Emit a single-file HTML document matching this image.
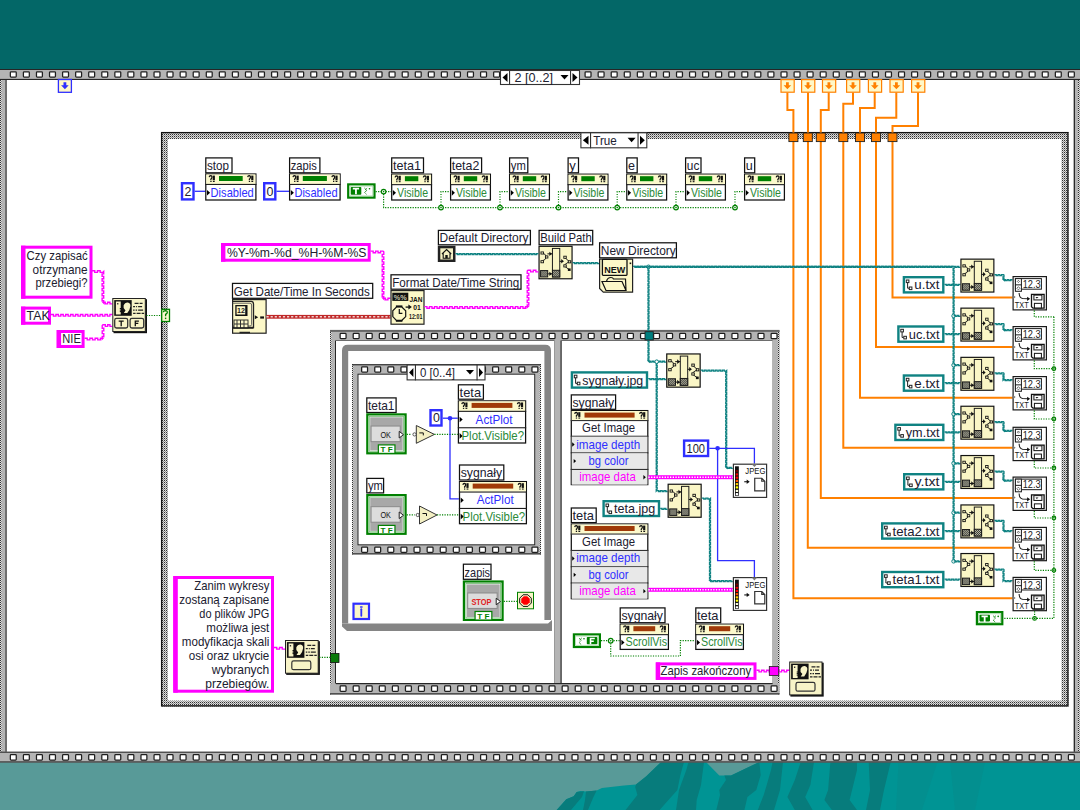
<!DOCTYPE html><html><head><meta charset="utf-8"><style>html,body{margin:0;padding:0;background:#fff;overflow:hidden}svg{display:block}</style></head><body><svg width="1080" height="810" viewBox="0 0 1080 810" font-family='"Liberation Sans", sans-serif'>
<defs><pattern id="chk" width="2" height="2" patternUnits="userSpaceOnUse"><rect width="2" height="2" fill="#dcdcdc"/><rect width="1" height="1" fill="#303030"/><rect x="1" y="1" width="1" height="1" fill="#909090"/></pattern><pattern id="hat" width="2" height="2" patternUnits="userSpaceOnUse"><rect width="2" height="2" fill="#d0d0b8"/><rect width="1" height="1" fill="#222"/><rect x="1" y="1" width="1" height="1" fill="#222"/></pattern></defs>
<rect x="0" y="0" width="1080" height="69" fill="#036767" stroke="none" stroke-width="1" />
<rect x="0" y="762" width="1080" height="48" fill="#589a98" stroke="none" stroke-width="1" />
<path d="M556.7,810 L566.3,799.3 L573.7,796.3 L576.7,791.9 L580.4,791.1 L587,791.5 L596.7,790.4 L601.9,788.1 L624,785.5 L636,784.4 L646.3,776.3 L661.1,762 L706,762 L719.3,775.6 L731,775.6 L759.3,762 L1080,762 L1080,810 Z" fill="#009494"/>
<path d="M556.7,810 L566.3,799.3 L573.7,796.3 L576.7,791.9 L584,791.2 L582,797 L571,810 Z" fill="#077c7c"/>
<path d="M586,791.5 L596.7,790.4 L593,798 L588,810 L583,810 L585,800 Z" fill="#077c7c"/>
<path d="M636,784.4 L646.3,776.3 L661.1,762 L684,762 L680.4,775 L677.4,790 L664,805 L659.6,810 L625.6,810 L637.4,795 L635.2,787 Z" fill="#077c7c"/>
<path d="M688.5,762 L704,762 L701,785 L696.7,800 L696,810 L676,810 L679,790 L686.3,770 Z" fill="#077c7c"/>
<path d="M724.4,775.6 L731,775.6 L759.3,762 L760.7,775 L756.3,790 L747.4,797 L744.4,810 L716.3,810 L720,795 L719.3,790 L726,780 Z" fill="#077c7c"/>
<path d="M772.6,762 L783,762 L780,790 L777,800 L774,810 L757.8,810 L763.7,795 L766.7,785 L771,770 Z" fill="#077c7c"/>
<path d="M800.7,762 L814,762 L810.4,785 L805.2,797 L812.6,810 L794.8,810 L787.4,797 L794.8,780 Z" fill="#077c7c"/>
<path d="M830.4,762 L857,762 L857,770 L849.6,800 L857,810 L831.9,810 L824.4,800 L828.1,790 Z" fill="#077c7c"/>
<path d="M868.7,762 L890.7,762 L884,790 L880,810 L866,810 L870,790 Z" fill="#077c7c"/>
<path d="M898.5,762 L937.4,762 L921.9,810 L896,810 Z" fill="#038f8f"/>
<path d="M950,762 L985,762 L975,810 L955,810 Z" fill="#038f8f"/>
<rect x="0" y="69" width="1080" height="693" fill="#ffffff" stroke="none" stroke-width="1" />
<rect x="0" y="69" width="7" height="693" fill="#b4b4b4" stroke="none" stroke-width="1" />
<rect x="0" y="69" width="2" height="693" fill="url(#chk)" stroke="none" stroke-width="1" />
<rect x="5.5" y="79" width="1" height="674" fill="#2a2a2a" stroke="none" stroke-width="1" />
<rect x="1073" y="69" width="7" height="693" fill="#b4b4b4" stroke="none" stroke-width="1" />
<rect x="1078" y="69" width="2" height="693" fill="url(#chk)" stroke="none" stroke-width="1" />
<rect x="1074" y="79" width="1" height="674" fill="#2a2a2a" stroke="none" stroke-width="1" />
<rect x="0" y="69" width="1080" height="11" fill="#b4b4b4" stroke="none" stroke-width="1" />
<rect x="0" y="69" width="1080" height="1" fill="#262626" stroke="none" stroke-width="1" />
<rect x="0" y="78.9" width="1080" height="1.1" fill="#262626" stroke="none" stroke-width="1" />
<rect x="10.35" y="71.75" width="5.9" height="5.40" fill="#fff" stroke="#1e1e1e" stroke-width="1.25" rx="0.8"/>
<rect x="23.41" y="71.75" width="5.9" height="5.40" fill="#fff" stroke="#1e1e1e" stroke-width="1.25" rx="0.8"/>
<rect x="36.48" y="71.75" width="5.9" height="5.40" fill="#fff" stroke="#1e1e1e" stroke-width="1.25" rx="0.8"/>
<rect x="49.54" y="71.75" width="5.9" height="5.40" fill="#fff" stroke="#1e1e1e" stroke-width="1.25" rx="0.8"/>
<rect x="62.60" y="71.75" width="5.9" height="5.40" fill="#fff" stroke="#1e1e1e" stroke-width="1.25" rx="0.8"/>
<rect x="75.66" y="71.75" width="5.9" height="5.40" fill="#fff" stroke="#1e1e1e" stroke-width="1.25" rx="0.8"/>
<rect x="88.72" y="71.75" width="5.9" height="5.40" fill="#fff" stroke="#1e1e1e" stroke-width="1.25" rx="0.8"/>
<rect x="101.79" y="71.75" width="5.9" height="5.40" fill="#fff" stroke="#1e1e1e" stroke-width="1.25" rx="0.8"/>
<rect x="114.85" y="71.75" width="5.9" height="5.40" fill="#fff" stroke="#1e1e1e" stroke-width="1.25" rx="0.8"/>
<rect x="127.91" y="71.75" width="5.9" height="5.40" fill="#fff" stroke="#1e1e1e" stroke-width="1.25" rx="0.8"/>
<rect x="140.97" y="71.75" width="5.9" height="5.40" fill="#fff" stroke="#1e1e1e" stroke-width="1.25" rx="0.8"/>
<rect x="154.04" y="71.75" width="5.9" height="5.40" fill="#fff" stroke="#1e1e1e" stroke-width="1.25" rx="0.8"/>
<rect x="167.10" y="71.75" width="5.9" height="5.40" fill="#fff" stroke="#1e1e1e" stroke-width="1.25" rx="0.8"/>
<rect x="180.16" y="71.75" width="5.9" height="5.40" fill="#fff" stroke="#1e1e1e" stroke-width="1.25" rx="0.8"/>
<rect x="193.22" y="71.75" width="5.9" height="5.40" fill="#fff" stroke="#1e1e1e" stroke-width="1.25" rx="0.8"/>
<rect x="206.29" y="71.75" width="5.9" height="5.40" fill="#fff" stroke="#1e1e1e" stroke-width="1.25" rx="0.8"/>
<rect x="219.35" y="71.75" width="5.9" height="5.40" fill="#fff" stroke="#1e1e1e" stroke-width="1.25" rx="0.8"/>
<rect x="232.41" y="71.75" width="5.9" height="5.40" fill="#fff" stroke="#1e1e1e" stroke-width="1.25" rx="0.8"/>
<rect x="245.47" y="71.75" width="5.9" height="5.40" fill="#fff" stroke="#1e1e1e" stroke-width="1.25" rx="0.8"/>
<rect x="258.54" y="71.75" width="5.9" height="5.40" fill="#fff" stroke="#1e1e1e" stroke-width="1.25" rx="0.8"/>
<rect x="271.60" y="71.75" width="5.9" height="5.40" fill="#fff" stroke="#1e1e1e" stroke-width="1.25" rx="0.8"/>
<rect x="284.66" y="71.75" width="5.9" height="5.40" fill="#fff" stroke="#1e1e1e" stroke-width="1.25" rx="0.8"/>
<rect x="297.73" y="71.75" width="5.9" height="5.40" fill="#fff" stroke="#1e1e1e" stroke-width="1.25" rx="0.8"/>
<rect x="310.79" y="71.75" width="5.9" height="5.40" fill="#fff" stroke="#1e1e1e" stroke-width="1.25" rx="0.8"/>
<rect x="323.85" y="71.75" width="5.9" height="5.40" fill="#fff" stroke="#1e1e1e" stroke-width="1.25" rx="0.8"/>
<rect x="336.91" y="71.75" width="5.9" height="5.40" fill="#fff" stroke="#1e1e1e" stroke-width="1.25" rx="0.8"/>
<rect x="349.98" y="71.75" width="5.9" height="5.40" fill="#fff" stroke="#1e1e1e" stroke-width="1.25" rx="0.8"/>
<rect x="363.04" y="71.75" width="5.9" height="5.40" fill="#fff" stroke="#1e1e1e" stroke-width="1.25" rx="0.8"/>
<rect x="376.10" y="71.75" width="5.9" height="5.40" fill="#fff" stroke="#1e1e1e" stroke-width="1.25" rx="0.8"/>
<rect x="389.16" y="71.75" width="5.9" height="5.40" fill="#fff" stroke="#1e1e1e" stroke-width="1.25" rx="0.8"/>
<rect x="402.23" y="71.75" width="5.9" height="5.40" fill="#fff" stroke="#1e1e1e" stroke-width="1.25" rx="0.8"/>
<rect x="415.29" y="71.75" width="5.9" height="5.40" fill="#fff" stroke="#1e1e1e" stroke-width="1.25" rx="0.8"/>
<rect x="428.35" y="71.75" width="5.9" height="5.40" fill="#fff" stroke="#1e1e1e" stroke-width="1.25" rx="0.8"/>
<rect x="441.41" y="71.75" width="5.9" height="5.40" fill="#fff" stroke="#1e1e1e" stroke-width="1.25" rx="0.8"/>
<rect x="454.48" y="71.75" width="5.9" height="5.40" fill="#fff" stroke="#1e1e1e" stroke-width="1.25" rx="0.8"/>
<rect x="467.54" y="71.75" width="5.9" height="5.40" fill="#fff" stroke="#1e1e1e" stroke-width="1.25" rx="0.8"/>
<rect x="480.60" y="71.75" width="5.9" height="5.40" fill="#fff" stroke="#1e1e1e" stroke-width="1.25" rx="0.8"/>
<rect x="493.66" y="71.75" width="5.9" height="5.40" fill="#fff" stroke="#1e1e1e" stroke-width="1.25" rx="0.8"/>
<rect x="506.73" y="71.75" width="5.9" height="5.40" fill="#fff" stroke="#1e1e1e" stroke-width="1.25" rx="0.8"/>
<rect x="519.79" y="71.75" width="5.9" height="5.40" fill="#fff" stroke="#1e1e1e" stroke-width="1.25" rx="0.8"/>
<rect x="532.85" y="71.75" width="5.9" height="5.40" fill="#fff" stroke="#1e1e1e" stroke-width="1.25" rx="0.8"/>
<rect x="545.91" y="71.75" width="5.9" height="5.40" fill="#fff" stroke="#1e1e1e" stroke-width="1.25" rx="0.8"/>
<rect x="558.98" y="71.75" width="5.9" height="5.40" fill="#fff" stroke="#1e1e1e" stroke-width="1.25" rx="0.8"/>
<rect x="572.04" y="71.75" width="5.9" height="5.40" fill="#fff" stroke="#1e1e1e" stroke-width="1.25" rx="0.8"/>
<rect x="585.10" y="71.75" width="5.9" height="5.40" fill="#fff" stroke="#1e1e1e" stroke-width="1.25" rx="0.8"/>
<rect x="598.16" y="71.75" width="5.9" height="5.40" fill="#fff" stroke="#1e1e1e" stroke-width="1.25" rx="0.8"/>
<rect x="611.23" y="71.75" width="5.9" height="5.40" fill="#fff" stroke="#1e1e1e" stroke-width="1.25" rx="0.8"/>
<rect x="624.29" y="71.75" width="5.9" height="5.40" fill="#fff" stroke="#1e1e1e" stroke-width="1.25" rx="0.8"/>
<rect x="637.35" y="71.75" width="5.9" height="5.40" fill="#fff" stroke="#1e1e1e" stroke-width="1.25" rx="0.8"/>
<rect x="650.41" y="71.75" width="5.9" height="5.40" fill="#fff" stroke="#1e1e1e" stroke-width="1.25" rx="0.8"/>
<rect x="663.48" y="71.75" width="5.9" height="5.40" fill="#fff" stroke="#1e1e1e" stroke-width="1.25" rx="0.8"/>
<rect x="676.54" y="71.75" width="5.9" height="5.40" fill="#fff" stroke="#1e1e1e" stroke-width="1.25" rx="0.8"/>
<rect x="689.60" y="71.75" width="5.9" height="5.40" fill="#fff" stroke="#1e1e1e" stroke-width="1.25" rx="0.8"/>
<rect x="702.66" y="71.75" width="5.9" height="5.40" fill="#fff" stroke="#1e1e1e" stroke-width="1.25" rx="0.8"/>
<rect x="715.73" y="71.75" width="5.9" height="5.40" fill="#fff" stroke="#1e1e1e" stroke-width="1.25" rx="0.8"/>
<rect x="728.79" y="71.75" width="5.9" height="5.40" fill="#fff" stroke="#1e1e1e" stroke-width="1.25" rx="0.8"/>
<rect x="741.85" y="71.75" width="5.9" height="5.40" fill="#fff" stroke="#1e1e1e" stroke-width="1.25" rx="0.8"/>
<rect x="754.91" y="71.75" width="5.9" height="5.40" fill="#fff" stroke="#1e1e1e" stroke-width="1.25" rx="0.8"/>
<rect x="767.98" y="71.75" width="5.9" height="5.40" fill="#fff" stroke="#1e1e1e" stroke-width="1.25" rx="0.8"/>
<rect x="781.04" y="71.75" width="5.9" height="5.40" fill="#fff" stroke="#1e1e1e" stroke-width="1.25" rx="0.8"/>
<rect x="794.10" y="71.75" width="5.9" height="5.40" fill="#fff" stroke="#1e1e1e" stroke-width="1.25" rx="0.8"/>
<rect x="807.16" y="71.75" width="5.9" height="5.40" fill="#fff" stroke="#1e1e1e" stroke-width="1.25" rx="0.8"/>
<rect x="820.23" y="71.75" width="5.9" height="5.40" fill="#fff" stroke="#1e1e1e" stroke-width="1.25" rx="0.8"/>
<rect x="833.29" y="71.75" width="5.9" height="5.40" fill="#fff" stroke="#1e1e1e" stroke-width="1.25" rx="0.8"/>
<rect x="846.35" y="71.75" width="5.9" height="5.40" fill="#fff" stroke="#1e1e1e" stroke-width="1.25" rx="0.8"/>
<rect x="859.41" y="71.75" width="5.9" height="5.40" fill="#fff" stroke="#1e1e1e" stroke-width="1.25" rx="0.8"/>
<rect x="872.48" y="71.75" width="5.9" height="5.40" fill="#fff" stroke="#1e1e1e" stroke-width="1.25" rx="0.8"/>
<rect x="885.54" y="71.75" width="5.9" height="5.40" fill="#fff" stroke="#1e1e1e" stroke-width="1.25" rx="0.8"/>
<rect x="898.60" y="71.75" width="5.9" height="5.40" fill="#fff" stroke="#1e1e1e" stroke-width="1.25" rx="0.8"/>
<rect x="911.66" y="71.75" width="5.9" height="5.40" fill="#fff" stroke="#1e1e1e" stroke-width="1.25" rx="0.8"/>
<rect x="924.73" y="71.75" width="5.9" height="5.40" fill="#fff" stroke="#1e1e1e" stroke-width="1.25" rx="0.8"/>
<rect x="937.79" y="71.75" width="5.9" height="5.40" fill="#fff" stroke="#1e1e1e" stroke-width="1.25" rx="0.8"/>
<rect x="950.85" y="71.75" width="5.9" height="5.40" fill="#fff" stroke="#1e1e1e" stroke-width="1.25" rx="0.8"/>
<rect x="963.91" y="71.75" width="5.9" height="5.40" fill="#fff" stroke="#1e1e1e" stroke-width="1.25" rx="0.8"/>
<rect x="976.98" y="71.75" width="5.9" height="5.40" fill="#fff" stroke="#1e1e1e" stroke-width="1.25" rx="0.8"/>
<rect x="990.04" y="71.75" width="5.9" height="5.40" fill="#fff" stroke="#1e1e1e" stroke-width="1.25" rx="0.8"/>
<rect x="1003.10" y="71.75" width="5.9" height="5.40" fill="#fff" stroke="#1e1e1e" stroke-width="1.25" rx="0.8"/>
<rect x="1016.16" y="71.75" width="5.9" height="5.40" fill="#fff" stroke="#1e1e1e" stroke-width="1.25" rx="0.8"/>
<rect x="1029.22" y="71.75" width="5.9" height="5.40" fill="#fff" stroke="#1e1e1e" stroke-width="1.25" rx="0.8"/>
<rect x="1042.29" y="71.75" width="5.9" height="5.40" fill="#fff" stroke="#1e1e1e" stroke-width="1.25" rx="0.8"/>
<rect x="1055.35" y="71.75" width="5.9" height="5.40" fill="#fff" stroke="#1e1e1e" stroke-width="1.25" rx="0.8"/>
<rect x="1068.41" y="71.75" width="5.9" height="5.40" fill="#fff" stroke="#1e1e1e" stroke-width="1.25" rx="0.8"/>
<rect x="0" y="751.7" width="1080" height="10.8" fill="#b4b4b4" stroke="none" stroke-width="1" />
<rect x="0" y="751.7" width="1080" height="1" fill="#262626" stroke="none" stroke-width="1" />
<rect x="0" y="761.4" width="1080" height="1.1" fill="#262626" stroke="none" stroke-width="1" />
<rect x="10.35" y="754.65" width="5.9" height="5.40" fill="#fff" stroke="#1e1e1e" stroke-width="1.25" rx="0.8"/>
<rect x="23.41" y="754.65" width="5.9" height="5.40" fill="#fff" stroke="#1e1e1e" stroke-width="1.25" rx="0.8"/>
<rect x="36.48" y="754.65" width="5.9" height="5.40" fill="#fff" stroke="#1e1e1e" stroke-width="1.25" rx="0.8"/>
<rect x="49.54" y="754.65" width="5.9" height="5.40" fill="#fff" stroke="#1e1e1e" stroke-width="1.25" rx="0.8"/>
<rect x="62.60" y="754.65" width="5.9" height="5.40" fill="#fff" stroke="#1e1e1e" stroke-width="1.25" rx="0.8"/>
<rect x="75.66" y="754.65" width="5.9" height="5.40" fill="#fff" stroke="#1e1e1e" stroke-width="1.25" rx="0.8"/>
<rect x="88.72" y="754.65" width="5.9" height="5.40" fill="#fff" stroke="#1e1e1e" stroke-width="1.25" rx="0.8"/>
<rect x="101.79" y="754.65" width="5.9" height="5.40" fill="#fff" stroke="#1e1e1e" stroke-width="1.25" rx="0.8"/>
<rect x="114.85" y="754.65" width="5.9" height="5.40" fill="#fff" stroke="#1e1e1e" stroke-width="1.25" rx="0.8"/>
<rect x="127.91" y="754.65" width="5.9" height="5.40" fill="#fff" stroke="#1e1e1e" stroke-width="1.25" rx="0.8"/>
<rect x="140.97" y="754.65" width="5.9" height="5.40" fill="#fff" stroke="#1e1e1e" stroke-width="1.25" rx="0.8"/>
<rect x="154.04" y="754.65" width="5.9" height="5.40" fill="#fff" stroke="#1e1e1e" stroke-width="1.25" rx="0.8"/>
<rect x="167.10" y="754.65" width="5.9" height="5.40" fill="#fff" stroke="#1e1e1e" stroke-width="1.25" rx="0.8"/>
<rect x="180.16" y="754.65" width="5.9" height="5.40" fill="#fff" stroke="#1e1e1e" stroke-width="1.25" rx="0.8"/>
<rect x="193.22" y="754.65" width="5.9" height="5.40" fill="#fff" stroke="#1e1e1e" stroke-width="1.25" rx="0.8"/>
<rect x="206.29" y="754.65" width="5.9" height="5.40" fill="#fff" stroke="#1e1e1e" stroke-width="1.25" rx="0.8"/>
<rect x="219.35" y="754.65" width="5.9" height="5.40" fill="#fff" stroke="#1e1e1e" stroke-width="1.25" rx="0.8"/>
<rect x="232.41" y="754.65" width="5.9" height="5.40" fill="#fff" stroke="#1e1e1e" stroke-width="1.25" rx="0.8"/>
<rect x="245.47" y="754.65" width="5.9" height="5.40" fill="#fff" stroke="#1e1e1e" stroke-width="1.25" rx="0.8"/>
<rect x="258.54" y="754.65" width="5.9" height="5.40" fill="#fff" stroke="#1e1e1e" stroke-width="1.25" rx="0.8"/>
<rect x="271.60" y="754.65" width="5.9" height="5.40" fill="#fff" stroke="#1e1e1e" stroke-width="1.25" rx="0.8"/>
<rect x="284.66" y="754.65" width="5.9" height="5.40" fill="#fff" stroke="#1e1e1e" stroke-width="1.25" rx="0.8"/>
<rect x="297.73" y="754.65" width="5.9" height="5.40" fill="#fff" stroke="#1e1e1e" stroke-width="1.25" rx="0.8"/>
<rect x="310.79" y="754.65" width="5.9" height="5.40" fill="#fff" stroke="#1e1e1e" stroke-width="1.25" rx="0.8"/>
<rect x="323.85" y="754.65" width="5.9" height="5.40" fill="#fff" stroke="#1e1e1e" stroke-width="1.25" rx="0.8"/>
<rect x="336.91" y="754.65" width="5.9" height="5.40" fill="#fff" stroke="#1e1e1e" stroke-width="1.25" rx="0.8"/>
<rect x="349.98" y="754.65" width="5.9" height="5.40" fill="#fff" stroke="#1e1e1e" stroke-width="1.25" rx="0.8"/>
<rect x="363.04" y="754.65" width="5.9" height="5.40" fill="#fff" stroke="#1e1e1e" stroke-width="1.25" rx="0.8"/>
<rect x="376.10" y="754.65" width="5.9" height="5.40" fill="#fff" stroke="#1e1e1e" stroke-width="1.25" rx="0.8"/>
<rect x="389.16" y="754.65" width="5.9" height="5.40" fill="#fff" stroke="#1e1e1e" stroke-width="1.25" rx="0.8"/>
<rect x="402.23" y="754.65" width="5.9" height="5.40" fill="#fff" stroke="#1e1e1e" stroke-width="1.25" rx="0.8"/>
<rect x="415.29" y="754.65" width="5.9" height="5.40" fill="#fff" stroke="#1e1e1e" stroke-width="1.25" rx="0.8"/>
<rect x="428.35" y="754.65" width="5.9" height="5.40" fill="#fff" stroke="#1e1e1e" stroke-width="1.25" rx="0.8"/>
<rect x="441.41" y="754.65" width="5.9" height="5.40" fill="#fff" stroke="#1e1e1e" stroke-width="1.25" rx="0.8"/>
<rect x="454.48" y="754.65" width="5.9" height="5.40" fill="#fff" stroke="#1e1e1e" stroke-width="1.25" rx="0.8"/>
<rect x="467.54" y="754.65" width="5.9" height="5.40" fill="#fff" stroke="#1e1e1e" stroke-width="1.25" rx="0.8"/>
<rect x="480.60" y="754.65" width="5.9" height="5.40" fill="#fff" stroke="#1e1e1e" stroke-width="1.25" rx="0.8"/>
<rect x="493.66" y="754.65" width="5.9" height="5.40" fill="#fff" stroke="#1e1e1e" stroke-width="1.25" rx="0.8"/>
<rect x="506.73" y="754.65" width="5.9" height="5.40" fill="#fff" stroke="#1e1e1e" stroke-width="1.25" rx="0.8"/>
<rect x="519.79" y="754.65" width="5.9" height="5.40" fill="#fff" stroke="#1e1e1e" stroke-width="1.25" rx="0.8"/>
<rect x="532.85" y="754.65" width="5.9" height="5.40" fill="#fff" stroke="#1e1e1e" stroke-width="1.25" rx="0.8"/>
<rect x="545.91" y="754.65" width="5.9" height="5.40" fill="#fff" stroke="#1e1e1e" stroke-width="1.25" rx="0.8"/>
<rect x="558.98" y="754.65" width="5.9" height="5.40" fill="#fff" stroke="#1e1e1e" stroke-width="1.25" rx="0.8"/>
<rect x="572.04" y="754.65" width="5.9" height="5.40" fill="#fff" stroke="#1e1e1e" stroke-width="1.25" rx="0.8"/>
<rect x="585.10" y="754.65" width="5.9" height="5.40" fill="#fff" stroke="#1e1e1e" stroke-width="1.25" rx="0.8"/>
<rect x="598.16" y="754.65" width="5.9" height="5.40" fill="#fff" stroke="#1e1e1e" stroke-width="1.25" rx="0.8"/>
<rect x="611.23" y="754.65" width="5.9" height="5.40" fill="#fff" stroke="#1e1e1e" stroke-width="1.25" rx="0.8"/>
<rect x="624.29" y="754.65" width="5.9" height="5.40" fill="#fff" stroke="#1e1e1e" stroke-width="1.25" rx="0.8"/>
<rect x="637.35" y="754.65" width="5.9" height="5.40" fill="#fff" stroke="#1e1e1e" stroke-width="1.25" rx="0.8"/>
<rect x="650.41" y="754.65" width="5.9" height="5.40" fill="#fff" stroke="#1e1e1e" stroke-width="1.25" rx="0.8"/>
<rect x="663.48" y="754.65" width="5.9" height="5.40" fill="#fff" stroke="#1e1e1e" stroke-width="1.25" rx="0.8"/>
<rect x="676.54" y="754.65" width="5.9" height="5.40" fill="#fff" stroke="#1e1e1e" stroke-width="1.25" rx="0.8"/>
<rect x="689.60" y="754.65" width="5.9" height="5.40" fill="#fff" stroke="#1e1e1e" stroke-width="1.25" rx="0.8"/>
<rect x="702.66" y="754.65" width="5.9" height="5.40" fill="#fff" stroke="#1e1e1e" stroke-width="1.25" rx="0.8"/>
<rect x="715.73" y="754.65" width="5.9" height="5.40" fill="#fff" stroke="#1e1e1e" stroke-width="1.25" rx="0.8"/>
<rect x="728.79" y="754.65" width="5.9" height="5.40" fill="#fff" stroke="#1e1e1e" stroke-width="1.25" rx="0.8"/>
<rect x="741.85" y="754.65" width="5.9" height="5.40" fill="#fff" stroke="#1e1e1e" stroke-width="1.25" rx="0.8"/>
<rect x="754.91" y="754.65" width="5.9" height="5.40" fill="#fff" stroke="#1e1e1e" stroke-width="1.25" rx="0.8"/>
<rect x="767.98" y="754.65" width="5.9" height="5.40" fill="#fff" stroke="#1e1e1e" stroke-width="1.25" rx="0.8"/>
<rect x="781.04" y="754.65" width="5.9" height="5.40" fill="#fff" stroke="#1e1e1e" stroke-width="1.25" rx="0.8"/>
<rect x="794.10" y="754.65" width="5.9" height="5.40" fill="#fff" stroke="#1e1e1e" stroke-width="1.25" rx="0.8"/>
<rect x="807.16" y="754.65" width="5.9" height="5.40" fill="#fff" stroke="#1e1e1e" stroke-width="1.25" rx="0.8"/>
<rect x="820.23" y="754.65" width="5.9" height="5.40" fill="#fff" stroke="#1e1e1e" stroke-width="1.25" rx="0.8"/>
<rect x="833.29" y="754.65" width="5.9" height="5.40" fill="#fff" stroke="#1e1e1e" stroke-width="1.25" rx="0.8"/>
<rect x="846.35" y="754.65" width="5.9" height="5.40" fill="#fff" stroke="#1e1e1e" stroke-width="1.25" rx="0.8"/>
<rect x="859.41" y="754.65" width="5.9" height="5.40" fill="#fff" stroke="#1e1e1e" stroke-width="1.25" rx="0.8"/>
<rect x="872.48" y="754.65" width="5.9" height="5.40" fill="#fff" stroke="#1e1e1e" stroke-width="1.25" rx="0.8"/>
<rect x="885.54" y="754.65" width="5.9" height="5.40" fill="#fff" stroke="#1e1e1e" stroke-width="1.25" rx="0.8"/>
<rect x="898.60" y="754.65" width="5.9" height="5.40" fill="#fff" stroke="#1e1e1e" stroke-width="1.25" rx="0.8"/>
<rect x="911.66" y="754.65" width="5.9" height="5.40" fill="#fff" stroke="#1e1e1e" stroke-width="1.25" rx="0.8"/>
<rect x="924.73" y="754.65" width="5.9" height="5.40" fill="#fff" stroke="#1e1e1e" stroke-width="1.25" rx="0.8"/>
<rect x="937.79" y="754.65" width="5.9" height="5.40" fill="#fff" stroke="#1e1e1e" stroke-width="1.25" rx="0.8"/>
<rect x="950.85" y="754.65" width="5.9" height="5.40" fill="#fff" stroke="#1e1e1e" stroke-width="1.25" rx="0.8"/>
<rect x="963.91" y="754.65" width="5.9" height="5.40" fill="#fff" stroke="#1e1e1e" stroke-width="1.25" rx="0.8"/>
<rect x="976.98" y="754.65" width="5.9" height="5.40" fill="#fff" stroke="#1e1e1e" stroke-width="1.25" rx="0.8"/>
<rect x="990.04" y="754.65" width="5.9" height="5.40" fill="#fff" stroke="#1e1e1e" stroke-width="1.25" rx="0.8"/>
<rect x="1003.10" y="754.65" width="5.9" height="5.40" fill="#fff" stroke="#1e1e1e" stroke-width="1.25" rx="0.8"/>
<rect x="1016.16" y="754.65" width="5.9" height="5.40" fill="#fff" stroke="#1e1e1e" stroke-width="1.25" rx="0.8"/>
<rect x="1029.22" y="754.65" width="5.9" height="5.40" fill="#fff" stroke="#1e1e1e" stroke-width="1.25" rx="0.8"/>
<rect x="1042.29" y="754.65" width="5.9" height="5.40" fill="#fff" stroke="#1e1e1e" stroke-width="1.25" rx="0.8"/>
<rect x="1055.35" y="754.65" width="5.9" height="5.40" fill="#fff" stroke="#1e1e1e" stroke-width="1.25" rx="0.8"/>
<rect x="1068.41" y="754.65" width="5.9" height="5.40" fill="#fff" stroke="#1e1e1e" stroke-width="1.25" rx="0.8"/>
<rect x="161" y="132" width="907.5" height="574.5" fill="url(#chk)" stroke="none" stroke-width="1" />
<rect x="161.6" y="132.6" width="906.3" height="573.3" fill="none" stroke="#111" stroke-width="1.3" />
<rect x="168" y="139" width="893.5" height="561.6" fill="#ffffff" stroke="none" stroke-width="1" />
<rect x="580.9" y="132.8" width="65.89999999999998" height="15.0" fill="#fff" stroke="#333" stroke-width="1.1" />
<rect x="590.0" y="132.3" width="1.1" height="16.0" fill="#333" stroke="none" stroke-width="1" />
<rect x="637.5" y="132.3" width="1.1" height="16.0" fill="#333" stroke="none" stroke-width="1" />
<path d="M582.9,140.3 L588.5,135.8 L588.5,144.8 Z" fill="#000"/>
<path d="M644.8,140.3 L640,135.8 L640,144.8 Z" fill="#000"/>
<path d="M627.6,137.8 L635.6,137.8 L631.6,142.3 Z" fill="#000"/>
<text x="593.3" y="144.9" font-size="13" fill="#202030" text-anchor="start" textLength="23.5" lengthAdjust="spacingAndGlyphs" >True</text>
<rect x="500.5" y="70.5" width="79" height="14" fill="#fff" stroke="#333" stroke-width="1.1" />
<rect x="509.0" y="70" width="1.1" height="15" fill="#333" stroke="none" stroke-width="1" />
<rect x="570.0" y="70" width="1.1" height="15" fill="#333" stroke="none" stroke-width="1" />
<path d="M502.5,77.5 L507.5,73.0 L507.5,82.0 Z" fill="#000"/>
<path d="M577.5,77.5 L572.5,73.0 L572.5,82.0 Z" fill="#000"/>
<path d="M560.5,75.0 L568.5,75.0 L564.5,79.5 Z" fill="#000"/>
<text x="514.4" y="82.1" font-size="13" fill="#202030" text-anchor="start" textLength="38.6" lengthAdjust="spacingAndGlyphs" >2 [0..2]</text>
<rect x="330" y="330" width="449.5" height="364.5" fill="#b4b4b4" stroke="none" stroke-width="1" />
<rect x="330" y="330" width="2" height="364.5" fill="url(#chk)" stroke="none" stroke-width="1" />
<rect x="777.5" y="330" width="2" height="364.5" fill="url(#chk)" stroke="none" stroke-width="1" />
<rect x="330" y="329.9" width="449.5" height="2" fill="#666" stroke="none" stroke-width="1" />
<rect x="335" y="340.5" width="219.5" height="343" fill="#262626" stroke="none" stroke-width="1" />
<rect x="336" y="341" width="218.3" height="342" fill="#fff" stroke="none" stroke-width="1" />
<rect x="560.5" y="340.5" width="212" height="343" fill="#262626" stroke="none" stroke-width="1" />
<rect x="561.7" y="341" width="210.8" height="342" fill="#fff" stroke="none" stroke-width="1" />
<rect x="340.15" y="333.35" width="5.9" height="5.30" fill="#fff" stroke="#1e1e1e" stroke-width="1.25" rx="0.8"/>
<rect x="353.21" y="333.35" width="5.9" height="5.30" fill="#fff" stroke="#1e1e1e" stroke-width="1.25" rx="0.8"/>
<rect x="366.27" y="333.35" width="5.9" height="5.30" fill="#fff" stroke="#1e1e1e" stroke-width="1.25" rx="0.8"/>
<rect x="379.33" y="333.35" width="5.9" height="5.30" fill="#fff" stroke="#1e1e1e" stroke-width="1.25" rx="0.8"/>
<rect x="392.39" y="333.35" width="5.9" height="5.30" fill="#fff" stroke="#1e1e1e" stroke-width="1.25" rx="0.8"/>
<rect x="405.45" y="333.35" width="5.9" height="5.30" fill="#fff" stroke="#1e1e1e" stroke-width="1.25" rx="0.8"/>
<rect x="418.51" y="333.35" width="5.9" height="5.30" fill="#fff" stroke="#1e1e1e" stroke-width="1.25" rx="0.8"/>
<rect x="431.57" y="333.35" width="5.9" height="5.30" fill="#fff" stroke="#1e1e1e" stroke-width="1.25" rx="0.8"/>
<rect x="444.63" y="333.35" width="5.9" height="5.30" fill="#fff" stroke="#1e1e1e" stroke-width="1.25" rx="0.8"/>
<rect x="457.69" y="333.35" width="5.9" height="5.30" fill="#fff" stroke="#1e1e1e" stroke-width="1.25" rx="0.8"/>
<rect x="470.75" y="333.35" width="5.9" height="5.30" fill="#fff" stroke="#1e1e1e" stroke-width="1.25" rx="0.8"/>
<rect x="483.81" y="333.35" width="5.9" height="5.30" fill="#fff" stroke="#1e1e1e" stroke-width="1.25" rx="0.8"/>
<rect x="496.87" y="333.35" width="5.9" height="5.30" fill="#fff" stroke="#1e1e1e" stroke-width="1.25" rx="0.8"/>
<rect x="509.93" y="333.35" width="5.9" height="5.30" fill="#fff" stroke="#1e1e1e" stroke-width="1.25" rx="0.8"/>
<rect x="522.99" y="333.35" width="5.9" height="5.30" fill="#fff" stroke="#1e1e1e" stroke-width="1.25" rx="0.8"/>
<rect x="536.05" y="333.35" width="5.9" height="5.30" fill="#fff" stroke="#1e1e1e" stroke-width="1.25" rx="0.8"/>
<rect x="549.11" y="333.35" width="5.9" height="5.30" fill="#fff" stroke="#1e1e1e" stroke-width="1.25" rx="0.8"/>
<rect x="562.17" y="333.35" width="5.9" height="5.30" fill="#fff" stroke="#1e1e1e" stroke-width="1.25" rx="0.8"/>
<rect x="575.23" y="333.35" width="5.9" height="5.30" fill="#fff" stroke="#1e1e1e" stroke-width="1.25" rx="0.8"/>
<rect x="588.29" y="333.35" width="5.9" height="5.30" fill="#fff" stroke="#1e1e1e" stroke-width="1.25" rx="0.8"/>
<rect x="601.35" y="333.35" width="5.9" height="5.30" fill="#fff" stroke="#1e1e1e" stroke-width="1.25" rx="0.8"/>
<rect x="614.41" y="333.35" width="5.9" height="5.30" fill="#fff" stroke="#1e1e1e" stroke-width="1.25" rx="0.8"/>
<rect x="627.47" y="333.35" width="5.9" height="5.30" fill="#fff" stroke="#1e1e1e" stroke-width="1.25" rx="0.8"/>
<rect x="640.53" y="333.35" width="5.9" height="5.30" fill="#fff" stroke="#1e1e1e" stroke-width="1.25" rx="0.8"/>
<rect x="653.59" y="333.35" width="5.9" height="5.30" fill="#fff" stroke="#1e1e1e" stroke-width="1.25" rx="0.8"/>
<rect x="666.65" y="333.35" width="5.9" height="5.30" fill="#fff" stroke="#1e1e1e" stroke-width="1.25" rx="0.8"/>
<rect x="679.71" y="333.35" width="5.9" height="5.30" fill="#fff" stroke="#1e1e1e" stroke-width="1.25" rx="0.8"/>
<rect x="692.77" y="333.35" width="5.9" height="5.30" fill="#fff" stroke="#1e1e1e" stroke-width="1.25" rx="0.8"/>
<rect x="705.83" y="333.35" width="5.9" height="5.30" fill="#fff" stroke="#1e1e1e" stroke-width="1.25" rx="0.8"/>
<rect x="718.89" y="333.35" width="5.9" height="5.30" fill="#fff" stroke="#1e1e1e" stroke-width="1.25" rx="0.8"/>
<rect x="731.95" y="333.35" width="5.9" height="5.30" fill="#fff" stroke="#1e1e1e" stroke-width="1.25" rx="0.8"/>
<rect x="745.01" y="333.35" width="5.9" height="5.30" fill="#fff" stroke="#1e1e1e" stroke-width="1.25" rx="0.8"/>
<rect x="758.07" y="333.35" width="5.9" height="5.30" fill="#fff" stroke="#1e1e1e" stroke-width="1.25" rx="0.8"/>
<rect x="771.13" y="333.35" width="5.9" height="5.30" fill="#fff" stroke="#1e1e1e" stroke-width="1.25" rx="0.8"/>
<rect x="330" y="684" width="449.5" height="10.4" fill="#b4b4b4" stroke="none" stroke-width="1" />
<rect x="336" y="683" width="436.5" height="1.2" fill="#262626" stroke="none" stroke-width="1" />
<rect x="330" y="693.3" width="449.5" height="1.1" fill="#262626" stroke="none" stroke-width="1" />
<rect x="340.15" y="685.95" width="5.9" height="5.30" fill="#fff" stroke="#1e1e1e" stroke-width="1.25" rx="0.8"/>
<rect x="353.21" y="685.95" width="5.9" height="5.30" fill="#fff" stroke="#1e1e1e" stroke-width="1.25" rx="0.8"/>
<rect x="366.27" y="685.95" width="5.9" height="5.30" fill="#fff" stroke="#1e1e1e" stroke-width="1.25" rx="0.8"/>
<rect x="379.33" y="685.95" width="5.9" height="5.30" fill="#fff" stroke="#1e1e1e" stroke-width="1.25" rx="0.8"/>
<rect x="392.39" y="685.95" width="5.9" height="5.30" fill="#fff" stroke="#1e1e1e" stroke-width="1.25" rx="0.8"/>
<rect x="405.45" y="685.95" width="5.9" height="5.30" fill="#fff" stroke="#1e1e1e" stroke-width="1.25" rx="0.8"/>
<rect x="418.51" y="685.95" width="5.9" height="5.30" fill="#fff" stroke="#1e1e1e" stroke-width="1.25" rx="0.8"/>
<rect x="431.57" y="685.95" width="5.9" height="5.30" fill="#fff" stroke="#1e1e1e" stroke-width="1.25" rx="0.8"/>
<rect x="444.63" y="685.95" width="5.9" height="5.30" fill="#fff" stroke="#1e1e1e" stroke-width="1.25" rx="0.8"/>
<rect x="457.69" y="685.95" width="5.9" height="5.30" fill="#fff" stroke="#1e1e1e" stroke-width="1.25" rx="0.8"/>
<rect x="470.75" y="685.95" width="5.9" height="5.30" fill="#fff" stroke="#1e1e1e" stroke-width="1.25" rx="0.8"/>
<rect x="483.81" y="685.95" width="5.9" height="5.30" fill="#fff" stroke="#1e1e1e" stroke-width="1.25" rx="0.8"/>
<rect x="496.87" y="685.95" width="5.9" height="5.30" fill="#fff" stroke="#1e1e1e" stroke-width="1.25" rx="0.8"/>
<rect x="509.93" y="685.95" width="5.9" height="5.30" fill="#fff" stroke="#1e1e1e" stroke-width="1.25" rx="0.8"/>
<rect x="522.99" y="685.95" width="5.9" height="5.30" fill="#fff" stroke="#1e1e1e" stroke-width="1.25" rx="0.8"/>
<rect x="536.05" y="685.95" width="5.9" height="5.30" fill="#fff" stroke="#1e1e1e" stroke-width="1.25" rx="0.8"/>
<rect x="549.11" y="685.95" width="5.9" height="5.30" fill="#fff" stroke="#1e1e1e" stroke-width="1.25" rx="0.8"/>
<rect x="562.17" y="685.95" width="5.9" height="5.30" fill="#fff" stroke="#1e1e1e" stroke-width="1.25" rx="0.8"/>
<rect x="575.23" y="685.95" width="5.9" height="5.30" fill="#fff" stroke="#1e1e1e" stroke-width="1.25" rx="0.8"/>
<rect x="588.29" y="685.95" width="5.9" height="5.30" fill="#fff" stroke="#1e1e1e" stroke-width="1.25" rx="0.8"/>
<rect x="601.35" y="685.95" width="5.9" height="5.30" fill="#fff" stroke="#1e1e1e" stroke-width="1.25" rx="0.8"/>
<rect x="614.41" y="685.95" width="5.9" height="5.30" fill="#fff" stroke="#1e1e1e" stroke-width="1.25" rx="0.8"/>
<rect x="627.47" y="685.95" width="5.9" height="5.30" fill="#fff" stroke="#1e1e1e" stroke-width="1.25" rx="0.8"/>
<rect x="640.53" y="685.95" width="5.9" height="5.30" fill="#fff" stroke="#1e1e1e" stroke-width="1.25" rx="0.8"/>
<rect x="653.59" y="685.95" width="5.9" height="5.30" fill="#fff" stroke="#1e1e1e" stroke-width="1.25" rx="0.8"/>
<rect x="666.65" y="685.95" width="5.9" height="5.30" fill="#fff" stroke="#1e1e1e" stroke-width="1.25" rx="0.8"/>
<rect x="679.71" y="685.95" width="5.9" height="5.30" fill="#fff" stroke="#1e1e1e" stroke-width="1.25" rx="0.8"/>
<rect x="692.77" y="685.95" width="5.9" height="5.30" fill="#fff" stroke="#1e1e1e" stroke-width="1.25" rx="0.8"/>
<rect x="705.83" y="685.95" width="5.9" height="5.30" fill="#fff" stroke="#1e1e1e" stroke-width="1.25" rx="0.8"/>
<rect x="718.89" y="685.95" width="5.9" height="5.30" fill="#fff" stroke="#1e1e1e" stroke-width="1.25" rx="0.8"/>
<rect x="731.95" y="685.95" width="5.9" height="5.30" fill="#fff" stroke="#1e1e1e" stroke-width="1.25" rx="0.8"/>
<rect x="745.01" y="685.95" width="5.9" height="5.30" fill="#fff" stroke="#1e1e1e" stroke-width="1.25" rx="0.8"/>
<rect x="758.07" y="685.95" width="5.9" height="5.30" fill="#fff" stroke="#1e1e1e" stroke-width="1.25" rx="0.8"/>
<rect x="771.13" y="685.95" width="5.9" height="5.30" fill="#fff" stroke="#1e1e1e" stroke-width="1.25" rx="0.8"/>
<path d="M342,350.5 Q342,344.75 347.8,344.75 L545.2,344.75 Q551,344.75 551,350.5 L551,620 L544.4,620 L544.4,351 L348.2,351 L348.2,623.5 L342,623.5 Z" fill="#858585"/>
<path d="M342,623.5 L548,623.5 L552,620 L552,631 L347,631 L342,626.5 Z" fill="#858585"/>
<rect x="352" y="364.2" width="189" height="190.2" fill="#b4b4b4" stroke="none" stroke-width="1" />
<rect x="352" y="364.2" width="1.6" height="190.2" fill="url(#chk)" stroke="none" stroke-width="1" />
<rect x="539.4" y="364.2" width="1.6" height="190.2" fill="url(#chk)" stroke="none" stroke-width="1" />
<rect x="352" y="364.2" width="189" height="1.1" fill="#262626" stroke="none" stroke-width="1" />
<rect x="357.5" y="373.7" width="177.7" height="171.6" fill="#262626" stroke="none" stroke-width="1" />
<rect x="358.5" y="374.7" width="175.7" height="169.6" fill="#fff" stroke="none" stroke-width="1" />
<rect x="352" y="553.3" width="189" height="1.1" fill="#262626" stroke="none" stroke-width="1" />
<rect x="361.65" y="366.85" width="5.9" height="5.30" fill="#fff" stroke="#1e1e1e" stroke-width="1.25" rx="0.8"/>
<rect x="374.75" y="366.85" width="5.9" height="5.30" fill="#fff" stroke="#1e1e1e" stroke-width="1.25" rx="0.8"/>
<rect x="387.85" y="366.85" width="5.9" height="5.30" fill="#fff" stroke="#1e1e1e" stroke-width="1.25" rx="0.8"/>
<rect x="400.95" y="366.85" width="5.9" height="5.30" fill="#fff" stroke="#1e1e1e" stroke-width="1.25" rx="0.8"/>
<rect x="414.05" y="366.85" width="5.9" height="5.30" fill="#fff" stroke="#1e1e1e" stroke-width="1.25" rx="0.8"/>
<rect x="427.15" y="366.85" width="5.9" height="5.30" fill="#fff" stroke="#1e1e1e" stroke-width="1.25" rx="0.8"/>
<rect x="440.25" y="366.85" width="5.9" height="5.30" fill="#fff" stroke="#1e1e1e" stroke-width="1.25" rx="0.8"/>
<rect x="453.35" y="366.85" width="5.9" height="5.30" fill="#fff" stroke="#1e1e1e" stroke-width="1.25" rx="0.8"/>
<rect x="466.45" y="366.85" width="5.9" height="5.30" fill="#fff" stroke="#1e1e1e" stroke-width="1.25" rx="0.8"/>
<rect x="479.55" y="366.85" width="5.9" height="5.30" fill="#fff" stroke="#1e1e1e" stroke-width="1.25" rx="0.8"/>
<rect x="492.65" y="366.85" width="5.9" height="5.30" fill="#fff" stroke="#1e1e1e" stroke-width="1.25" rx="0.8"/>
<rect x="505.75" y="366.85" width="5.9" height="5.30" fill="#fff" stroke="#1e1e1e" stroke-width="1.25" rx="0.8"/>
<rect x="518.85" y="366.85" width="5.9" height="5.30" fill="#fff" stroke="#1e1e1e" stroke-width="1.25" rx="0.8"/>
<rect x="531.95" y="366.85" width="5.9" height="5.30" fill="#fff" stroke="#1e1e1e" stroke-width="1.25" rx="0.8"/>
<rect x="361.65" y="547.05" width="5.9" height="5.30" fill="#fff" stroke="#1e1e1e" stroke-width="1.25" rx="0.8"/>
<rect x="374.75" y="547.05" width="5.9" height="5.30" fill="#fff" stroke="#1e1e1e" stroke-width="1.25" rx="0.8"/>
<rect x="387.85" y="547.05" width="5.9" height="5.30" fill="#fff" stroke="#1e1e1e" stroke-width="1.25" rx="0.8"/>
<rect x="400.95" y="547.05" width="5.9" height="5.30" fill="#fff" stroke="#1e1e1e" stroke-width="1.25" rx="0.8"/>
<rect x="414.05" y="547.05" width="5.9" height="5.30" fill="#fff" stroke="#1e1e1e" stroke-width="1.25" rx="0.8"/>
<rect x="427.15" y="547.05" width="5.9" height="5.30" fill="#fff" stroke="#1e1e1e" stroke-width="1.25" rx="0.8"/>
<rect x="440.25" y="547.05" width="5.9" height="5.30" fill="#fff" stroke="#1e1e1e" stroke-width="1.25" rx="0.8"/>
<rect x="453.35" y="547.05" width="5.9" height="5.30" fill="#fff" stroke="#1e1e1e" stroke-width="1.25" rx="0.8"/>
<rect x="466.45" y="547.05" width="5.9" height="5.30" fill="#fff" stroke="#1e1e1e" stroke-width="1.25" rx="0.8"/>
<rect x="479.55" y="547.05" width="5.9" height="5.30" fill="#fff" stroke="#1e1e1e" stroke-width="1.25" rx="0.8"/>
<rect x="492.65" y="547.05" width="5.9" height="5.30" fill="#fff" stroke="#1e1e1e" stroke-width="1.25" rx="0.8"/>
<rect x="505.75" y="547.05" width="5.9" height="5.30" fill="#fff" stroke="#1e1e1e" stroke-width="1.25" rx="0.8"/>
<rect x="518.85" y="547.05" width="5.9" height="5.30" fill="#fff" stroke="#1e1e1e" stroke-width="1.25" rx="0.8"/>
<rect x="531.95" y="547.05" width="5.9" height="5.30" fill="#fff" stroke="#1e1e1e" stroke-width="1.25" rx="0.8"/>
<rect x="407.1" y="365.0" width="77.89999999999998" height="14.899999999999977" fill="#fff" stroke="#333" stroke-width="1.1" />
<rect x="414.9" y="364.5" width="1.1" height="15.899999999999977" fill="#333" stroke="none" stroke-width="1" />
<rect x="476.5" y="364.5" width="1.1" height="15.899999999999977" fill="#333" stroke="none" stroke-width="1" />
<path d="M409.1,372.45 L413.4,367.95 L413.4,376.95 Z" fill="#000"/>
<path d="M483.0,372.45 L479,367.95 L479,376.95 Z" fill="#000"/>
<path d="M466,369.95 L474,369.95 L470,374.45 Z" fill="#000"/>
<text x="420" y="377.05" font-size="13" fill="#202030" text-anchor="start" textLength="35" lengthAdjust="spacingAndGlyphs" >0 [0..4]</text>
<rect x="182.0" y="183.2" width="11.499999999999977" height="16.199999999999996" fill="#fff" stroke="#2f2fff" stroke-width="2.4" />
<text x="184.4" y="196.1" font-size="12.4" fill="#202030" text-anchor="start" >2</text>
<path d="M194.7,191.3 L205.5,191.3" fill="none" stroke="#2f2fff" stroke-width="1.3" />
<rect x="205.79999999999998" y="157.9" width="26.200000000000006" height="14.899999999999995" fill="#fff" stroke="#111" stroke-width="1.25" />
<text x="207.0" y="170.1" font-size="12.4" fill="#202030" text-anchor="start" textLength="22" lengthAdjust="spacingAndGlyphs" >stop</text>
<rect x="205.79999999999998" y="174.0" width="50.10000000000001" height="25.99999999999999" fill="#fff" stroke="#111" stroke-width="1.25" />
<rect x="206.2" y="174.4" width="49.30000000000001" height="9.6" fill="#fcf9cc" stroke="none" stroke-width="1" />
<path d="M209.2,177.2 Q209.39999999999998,175.7 210.7,175.7 Q212.1,175.79999999999998 211.89999999999998,177.5 Q211.7,178.6 210.89999999999998,179.1 L210.89999999999998,180.2" fill="none" stroke="#111" stroke-width="1.25"/>
<rect x="210.29999999999998" y="180.9" width="1.3" height="1.1" fill="#111"/>
<rect x="212.7" y="175.6" width="2.2" height="4.7" fill="#111"/>
<rect x="212.89999999999998" y="180.9" width="1.8" height="1.1" fill="#111"/>
<path d="M247.70000000000002,177.2 Q247.9,175.7 249.20000000000002,175.7 Q250.60000000000002,175.79999999999998 250.4,177.5 Q250.20000000000002,178.6 249.4,179.1 L249.4,180.2" fill="none" stroke="#111" stroke-width="1.25"/>
<rect x="248.8" y="180.9" width="1.3" height="1.1" fill="#111"/>
<rect x="251.20000000000002" y="175.6" width="2.2" height="4.7" fill="#111"/>
<rect x="251.4" y="180.9" width="1.8" height="1.1" fill="#111"/>
<rect x="219.0" y="176.0" width="23.70000000000001" height="5" fill="#008000" stroke="none" stroke-width="1" />
<rect x="205.2" y="183.9" width="51.30000000000001" height="1.1" fill="#1e1e1e" stroke="none" stroke-width="1" />
<path d="M207.0,189.95 L210.08,192.75 L207.0,195.55 Z" fill="#000"/>
<text x="210.6" y="196.9" font-size="12.4" fill="#2f2fff" text-anchor="start" textLength="43.2" lengthAdjust="spacingAndGlyphs" >Disabled</text>
<rect x="264.2" y="183.2" width="11.1" height="16.199999999999996" fill="#fff" stroke="#2f2fff" stroke-width="2.4" />
<text x="266.59999999999997" y="196.1" font-size="12.4" fill="#202030" text-anchor="start" >0</text>
<path d="M276.5,191.3 L289,191.3" fill="none" stroke="#2f2fff" stroke-width="1.3" />
<rect x="289.6" y="157.9" width="30.3" height="14.899999999999995" fill="#fff" stroke="#111" stroke-width="1.25" />
<text x="290.8" y="170.1" font-size="12.4" fill="#202030" text-anchor="start" textLength="26" lengthAdjust="spacingAndGlyphs" >zapis</text>
<rect x="289.6" y="174.0" width="50.499999999999986" height="25.99999999999999" fill="#fff" stroke="#111" stroke-width="1.25" />
<rect x="290" y="174.4" width="49.69999999999999" height="9.6" fill="#fcf9cc" stroke="none" stroke-width="1" />
<path d="M293.0,177.2 Q293.20000000000005,175.7 294.5,175.7 Q295.90000000000003,175.79999999999998 295.70000000000005,177.5 Q295.5,178.6 294.70000000000005,179.1 L294.70000000000005,180.2" fill="none" stroke="#111" stroke-width="1.25"/>
<rect x="294.1" y="180.9" width="1.3" height="1.1" fill="#111"/>
<rect x="296.5" y="175.6" width="2.2" height="4.7" fill="#111"/>
<rect x="296.70000000000005" y="180.9" width="1.8" height="1.1" fill="#111"/>
<path d="M331.9,177.2 Q332.1,175.7 333.4,175.7 Q334.8,175.79999999999998 334.6,177.5 Q334.4,178.6 333.6,179.1 L333.6,180.2" fill="none" stroke="#111" stroke-width="1.25"/>
<rect x="333.0" y="180.9" width="1.3" height="1.1" fill="#111"/>
<rect x="335.4" y="175.6" width="2.2" height="4.7" fill="#111"/>
<rect x="335.6" y="180.9" width="1.8" height="1.1" fill="#111"/>
<rect x="302.8" y="176.0" width="24.099999999999987" height="5" fill="#008000" stroke="none" stroke-width="1" />
<rect x="289" y="183.9" width="51.69999999999999" height="1.1" fill="#1e1e1e" stroke="none" stroke-width="1" />
<path d="M290.8,189.95 L293.88,192.75 L290.8,195.55 Z" fill="#000"/>
<text x="294.4" y="196.9" font-size="12.4" fill="#2f2fff" text-anchor="start" textLength="43.2" lengthAdjust="spacingAndGlyphs" >Disabled</text>
<rect x="348.20000000000005" y="184.4" width="26.3" height="13.199999999999978" fill="#fff" stroke="#008000" stroke-width="2.2" />
<rect x="349.90000000000003" y="186.10000000000002" width="22.9" height="9.799999999999978" fill="none" stroke="#a8d8a8" stroke-width="0.8" />
<rect x="350.8" y="187.0" width="10.5" height="7.799999999999978" fill="#008000" stroke="none" stroke-width="1" rx="0.8"/>
<path d="M352.8,188.60000000000002 l6.3,0 M355.95,188.60000000000002 l0,5.6" fill="none" stroke="#fff" stroke-width="1.8"/>
<path d="M364.5,188.10000000000002 l2.4,2.2 l-2.4,2.2 l2.4,2.2 M367.1,188.10000000000002 l-2.4,2.2" fill="none" stroke="#008000" stroke-width="1" stroke-dasharray="1,0.6"/>
<circle cx="369.5" cy="188.70000000000002" r="0.8" fill="#008000"/>
<path d="M375.6,191.6 L391,191.6" fill="none" stroke="#008000" stroke-width="1.2" stroke-dasharray="1.2,1.3"/>
<path d="M383.6,191.6 L383.6,207.6 L383.6,207.6 L736,207.6" fill="none" stroke="#008000" stroke-width="1.2" stroke-dasharray="1.2,1.3"/>
<rect x="391.70000000000005" y="157.9" width="31.8" height="14.899999999999995" fill="#fff" stroke="#111" stroke-width="1.25" />
<text x="392.90000000000003" y="170.1" font-size="12.4" fill="#202030" text-anchor="start" textLength="28" lengthAdjust="spacingAndGlyphs" >teta1</text>
<rect x="391.70000000000005" y="174.2" width="39.8" height="25.8" fill="#fff" stroke="#111" stroke-width="1.25" />
<rect x="392.1" y="174.6" width="39.0" height="9.6" fill="#fcf9cc" stroke="none" stroke-width="1" />
<path d="M395.1,177.39999999999998 Q395.30000000000007,175.89999999999998 396.6,175.89999999999998 Q398.00000000000006,175.99999999999997 397.80000000000007,177.7 Q397.6,178.79999999999998 396.80000000000007,179.29999999999998 L396.80000000000007,180.39999999999998" fill="none" stroke="#111" stroke-width="1.25"/>
<rect x="396.20000000000005" y="181.1" width="1.3" height="1.1" fill="#111"/>
<rect x="398.6" y="175.79999999999998" width="2.2" height="4.7" fill="#111"/>
<rect x="398.80000000000007" y="181.1" width="1.8" height="1.1" fill="#111"/>
<path d="M423.3,177.39999999999998 Q423.50000000000006,175.89999999999998 424.8,175.89999999999998 Q426.20000000000005,175.99999999999997 426.00000000000006,177.7 Q425.8,178.79999999999998 425.00000000000006,179.29999999999998 L425.00000000000006,180.39999999999998" fill="none" stroke="#111" stroke-width="1.25"/>
<rect x="424.40000000000003" y="181.1" width="1.3" height="1.1" fill="#111"/>
<rect x="426.8" y="175.79999999999998" width="2.2" height="4.7" fill="#111"/>
<rect x="427.00000000000006" y="181.1" width="1.8" height="1.1" fill="#111"/>
<rect x="404.90000000000003" y="176.2" width="13.399999999999999" height="5" fill="#008000" stroke="none" stroke-width="1" />
<rect x="391.1" y="184.1" width="41.0" height="1.1" fill="#1e1e1e" stroke="none" stroke-width="1" />
<path d="M392.90000000000003,190.04999999999998 L395.98,192.85 L392.90000000000003,195.65 Z" fill="#000"/>
<text x="397.1" y="196.9" font-size="12.4" fill="#2b8a38" text-anchor="start" textLength="31" lengthAdjust="spacingAndGlyphs" >Visible</text>
<rect x="450.6" y="157.9" width="30.99999999999999" height="14.899999999999995" fill="#fff" stroke="#111" stroke-width="1.25" />
<text x="451.8" y="170.1" font-size="12.4" fill="#202030" text-anchor="start" textLength="27.5" lengthAdjust="spacingAndGlyphs" >teta2</text>
<rect x="450.6" y="174.2" width="39.8" height="25.8" fill="#fff" stroke="#111" stroke-width="1.25" />
<rect x="451" y="174.6" width="39" height="9.6" fill="#fcf9cc" stroke="none" stroke-width="1" />
<path d="M454.0,177.39999999999998 Q454.20000000000005,175.89999999999998 455.5,175.89999999999998 Q456.90000000000003,175.99999999999997 456.70000000000005,177.7 Q456.5,178.79999999999998 455.70000000000005,179.29999999999998 L455.70000000000005,180.39999999999998" fill="none" stroke="#111" stroke-width="1.25"/>
<rect x="455.1" y="181.1" width="1.3" height="1.1" fill="#111"/>
<rect x="457.5" y="175.79999999999998" width="2.2" height="4.7" fill="#111"/>
<rect x="457.70000000000005" y="181.1" width="1.8" height="1.1" fill="#111"/>
<path d="M482.2,177.39999999999998 Q482.40000000000003,175.89999999999998 483.7,175.89999999999998 Q485.1,175.99999999999997 484.90000000000003,177.7 Q484.7,178.79999999999998 483.90000000000003,179.29999999999998 L483.90000000000003,180.39999999999998" fill="none" stroke="#111" stroke-width="1.25"/>
<rect x="483.3" y="181.1" width="1.3" height="1.1" fill="#111"/>
<rect x="485.7" y="175.79999999999998" width="2.2" height="4.7" fill="#111"/>
<rect x="485.90000000000003" y="181.1" width="1.8" height="1.1" fill="#111"/>
<rect x="463.8" y="176.2" width="13.399999999999999" height="5" fill="#008000" stroke="none" stroke-width="1" />
<rect x="450" y="184.1" width="41" height="1.1" fill="#1e1e1e" stroke="none" stroke-width="1" />
<path d="M451.8,190.04999999999998 L454.88,192.85 L451.8,195.65 Z" fill="#000"/>
<text x="456" y="196.9" font-size="12.4" fill="#2b8a38" text-anchor="start" textLength="31" lengthAdjust="spacingAndGlyphs" >Visible</text>
<path d="M441,207.6 L441,191.6 L450,191.6" fill="none" stroke="#008000" stroke-width="1.2" stroke-dasharray="1.2,1.3"/>
<circle cx="441" cy="207.6" r="2.3" fill="#fff" stroke="#008000" stroke-width="1.2"/><circle cx="441" cy="207.6" r="0.8" fill="#008000"/>
<rect x="509.6" y="157.9" width="18.199999999999978" height="14.899999999999995" fill="#fff" stroke="#111" stroke-width="1.25" />
<text x="510.8" y="170.1" font-size="12.4" fill="#202030" text-anchor="start" textLength="15" lengthAdjust="spacingAndGlyphs" >ym</text>
<rect x="509.6" y="174.2" width="39.8" height="25.8" fill="#fff" stroke="#111" stroke-width="1.25" />
<rect x="510" y="174.6" width="39" height="9.6" fill="#fcf9cc" stroke="none" stroke-width="1" />
<path d="M513.0,177.39999999999998 Q513.2,175.89999999999998 514.5,175.89999999999998 Q515.9,175.99999999999997 515.7,177.7 Q515.5,178.79999999999998 514.7,179.29999999999998 L514.7,180.39999999999998" fill="none" stroke="#111" stroke-width="1.25"/>
<rect x="514.1" y="181.1" width="1.3" height="1.1" fill="#111"/>
<rect x="516.5" y="175.79999999999998" width="2.2" height="4.7" fill="#111"/>
<rect x="516.7" y="181.1" width="1.8" height="1.1" fill="#111"/>
<path d="M541.1999999999999,177.39999999999998 Q541.4,175.89999999999998 542.6999999999999,175.89999999999998 Q544.0999999999999,175.99999999999997 543.9,177.7 Q543.6999999999999,178.79999999999998 542.9,179.29999999999998 L542.9,180.39999999999998" fill="none" stroke="#111" stroke-width="1.25"/>
<rect x="542.3" y="181.1" width="1.3" height="1.1" fill="#111"/>
<rect x="544.6999999999999" y="175.79999999999998" width="2.2" height="4.7" fill="#111"/>
<rect x="544.9" y="181.1" width="1.8" height="1.1" fill="#111"/>
<rect x="522.8" y="176.2" width="13.399999999999999" height="5" fill="#008000" stroke="none" stroke-width="1" />
<rect x="509" y="184.1" width="41" height="1.1" fill="#1e1e1e" stroke="none" stroke-width="1" />
<path d="M510.8,190.04999999999998 L513.88,192.85 L510.8,195.65 Z" fill="#000"/>
<text x="515" y="196.9" font-size="12.4" fill="#2b8a38" text-anchor="start" textLength="31" lengthAdjust="spacingAndGlyphs" >Visible</text>
<path d="M500,207.6 L500,191.6 L509,191.6" fill="none" stroke="#008000" stroke-width="1.2" stroke-dasharray="1.2,1.3"/>
<circle cx="500" cy="207.6" r="2.3" fill="#fff" stroke="#008000" stroke-width="1.2"/><circle cx="500" cy="207.6" r="0.8" fill="#008000"/>
<rect x="568.1" y="157.9" width="10.400000000000023" height="14.899999999999995" fill="#fff" stroke="#111" stroke-width="1.25" />
<text x="569.3" y="170.1" font-size="12.4" fill="#202030" text-anchor="start" textLength="6.5" lengthAdjust="spacingAndGlyphs" >y</text>
<rect x="568.1" y="174.2" width="39.8" height="25.8" fill="#fff" stroke="#111" stroke-width="1.25" />
<rect x="568.5" y="174.6" width="39.0" height="9.6" fill="#fcf9cc" stroke="none" stroke-width="1" />
<path d="M571.5,177.39999999999998 Q571.7,175.89999999999998 573.0,175.89999999999998 Q574.4,175.99999999999997 574.2,177.7 Q574.0,178.79999999999998 573.2,179.29999999999998 L573.2,180.39999999999998" fill="none" stroke="#111" stroke-width="1.25"/>
<rect x="572.6" y="181.1" width="1.3" height="1.1" fill="#111"/>
<rect x="575.0" y="175.79999999999998" width="2.2" height="4.7" fill="#111"/>
<rect x="575.2" y="181.1" width="1.8" height="1.1" fill="#111"/>
<path d="M599.6999999999999,177.39999999999998 Q599.9,175.89999999999998 601.1999999999999,175.89999999999998 Q602.5999999999999,175.99999999999997 602.4,177.7 Q602.1999999999999,178.79999999999998 601.4,179.29999999999998 L601.4,180.39999999999998" fill="none" stroke="#111" stroke-width="1.25"/>
<rect x="600.8" y="181.1" width="1.3" height="1.1" fill="#111"/>
<rect x="603.1999999999999" y="175.79999999999998" width="2.2" height="4.7" fill="#111"/>
<rect x="603.4" y="181.1" width="1.8" height="1.1" fill="#111"/>
<rect x="581.3" y="176.2" width="13.399999999999999" height="5" fill="#008000" stroke="none" stroke-width="1" />
<rect x="567.5" y="184.1" width="41.0" height="1.1" fill="#1e1e1e" stroke="none" stroke-width="1" />
<path d="M569.3,190.04999999999998 L572.38,192.85 L569.3,195.65 Z" fill="#000"/>
<text x="573.5" y="196.9" font-size="12.4" fill="#2b8a38" text-anchor="start" textLength="31" lengthAdjust="spacingAndGlyphs" >Visible</text>
<path d="M558.5,207.6 L558.5,191.6 L567.5,191.6" fill="none" stroke="#008000" stroke-width="1.2" stroke-dasharray="1.2,1.3"/>
<circle cx="558.5" cy="207.6" r="2.3" fill="#fff" stroke="#008000" stroke-width="1.2"/><circle cx="558.5" cy="207.6" r="0.8" fill="#008000"/>
<rect x="626.8000000000001" y="157.9" width="10.400000000000023" height="14.899999999999995" fill="#fff" stroke="#111" stroke-width="1.25" />
<text x="628.0" y="170.1" font-size="12.4" fill="#202030" text-anchor="start" textLength="7" lengthAdjust="spacingAndGlyphs" >e</text>
<rect x="626.8000000000001" y="174.2" width="39.8" height="25.8" fill="#fff" stroke="#111" stroke-width="1.25" />
<rect x="627.2" y="174.6" width="39.0" height="9.6" fill="#fcf9cc" stroke="none" stroke-width="1" />
<path d="M630.2,177.39999999999998 Q630.4000000000001,175.89999999999998 631.7,175.89999999999998 Q633.1,175.99999999999997 632.9000000000001,177.7 Q632.7,178.79999999999998 631.9000000000001,179.29999999999998 L631.9000000000001,180.39999999999998" fill="none" stroke="#111" stroke-width="1.25"/>
<rect x="631.3000000000001" y="181.1" width="1.3" height="1.1" fill="#111"/>
<rect x="633.7" y="175.79999999999998" width="2.2" height="4.7" fill="#111"/>
<rect x="633.9000000000001" y="181.1" width="1.8" height="1.1" fill="#111"/>
<path d="M658.4,177.39999999999998 Q658.6,175.89999999999998 659.9,175.89999999999998 Q661.3,175.99999999999997 661.1,177.7 Q660.9,178.79999999999998 660.1,179.29999999999998 L660.1,180.39999999999998" fill="none" stroke="#111" stroke-width="1.25"/>
<rect x="659.5" y="181.1" width="1.3" height="1.1" fill="#111"/>
<rect x="661.9" y="175.79999999999998" width="2.2" height="4.7" fill="#111"/>
<rect x="662.1" y="181.1" width="1.8" height="1.1" fill="#111"/>
<rect x="640.0" y="176.2" width="13.399999999999999" height="5" fill="#008000" stroke="none" stroke-width="1" />
<rect x="626.2" y="184.1" width="41.0" height="1.1" fill="#1e1e1e" stroke="none" stroke-width="1" />
<path d="M628.0,190.04999999999998 L631.08,192.85 L628.0,195.65 Z" fill="#000"/>
<text x="632.2" y="196.9" font-size="12.4" fill="#2b8a38" text-anchor="start" textLength="31" lengthAdjust="spacingAndGlyphs" >Visible</text>
<path d="M617.2,207.6 L617.2,191.6 L626.2,191.6" fill="none" stroke="#008000" stroke-width="1.2" stroke-dasharray="1.2,1.3"/>
<circle cx="617.2" cy="207.6" r="2.3" fill="#fff" stroke="#008000" stroke-width="1.2"/><circle cx="617.2" cy="207.6" r="0.8" fill="#008000"/>
<rect x="685.6" y="157.9" width="15.400000000000023" height="14.899999999999995" fill="#fff" stroke="#111" stroke-width="1.25" />
<text x="686.8" y="170.1" font-size="12.4" fill="#202030" text-anchor="start" textLength="12.5" lengthAdjust="spacingAndGlyphs" >uc</text>
<rect x="685.6" y="174.2" width="39.8" height="25.8" fill="#fff" stroke="#111" stroke-width="1.25" />
<rect x="686" y="174.6" width="39" height="9.6" fill="#fcf9cc" stroke="none" stroke-width="1" />
<path d="M689.0,177.39999999999998 Q689.2,175.89999999999998 690.5,175.89999999999998 Q691.9,175.99999999999997 691.7,177.7 Q691.5,178.79999999999998 690.7,179.29999999999998 L690.7,180.39999999999998" fill="none" stroke="#111" stroke-width="1.25"/>
<rect x="690.1" y="181.1" width="1.3" height="1.1" fill="#111"/>
<rect x="692.5" y="175.79999999999998" width="2.2" height="4.7" fill="#111"/>
<rect x="692.7" y="181.1" width="1.8" height="1.1" fill="#111"/>
<path d="M717.1999999999999,177.39999999999998 Q717.4,175.89999999999998 718.6999999999999,175.89999999999998 Q720.0999999999999,175.99999999999997 719.9,177.7 Q719.6999999999999,178.79999999999998 718.9,179.29999999999998 L718.9,180.39999999999998" fill="none" stroke="#111" stroke-width="1.25"/>
<rect x="718.3" y="181.1" width="1.3" height="1.1" fill="#111"/>
<rect x="720.6999999999999" y="175.79999999999998" width="2.2" height="4.7" fill="#111"/>
<rect x="720.9" y="181.1" width="1.8" height="1.1" fill="#111"/>
<rect x="698.8" y="176.2" width="13.399999999999999" height="5" fill="#008000" stroke="none" stroke-width="1" />
<rect x="685" y="184.1" width="41" height="1.1" fill="#1e1e1e" stroke="none" stroke-width="1" />
<path d="M686.8,190.04999999999998 L689.88,192.85 L686.8,195.65 Z" fill="#000"/>
<text x="691" y="196.9" font-size="12.4" fill="#2b8a38" text-anchor="start" textLength="31" lengthAdjust="spacingAndGlyphs" >Visible</text>
<path d="M676,207.6 L676,191.6 L685,191.6" fill="none" stroke="#008000" stroke-width="1.2" stroke-dasharray="1.2,1.3"/>
<circle cx="676" cy="207.6" r="2.3" fill="#fff" stroke="#008000" stroke-width="1.2"/><circle cx="676" cy="207.6" r="0.8" fill="#008000"/>
<rect x="744.6" y="157.9" width="10.099999999999955" height="14.899999999999995" fill="#fff" stroke="#111" stroke-width="1.25" />
<text x="745.8" y="170.1" font-size="12.4" fill="#202030" text-anchor="start" textLength="7" lengthAdjust="spacingAndGlyphs" >u</text>
<rect x="744.6" y="174.2" width="39.8" height="25.8" fill="#fff" stroke="#111" stroke-width="1.25" />
<rect x="745" y="174.6" width="39" height="9.6" fill="#fcf9cc" stroke="none" stroke-width="1" />
<path d="M748.0,177.39999999999998 Q748.2,175.89999999999998 749.5,175.89999999999998 Q750.9,175.99999999999997 750.7,177.7 Q750.5,178.79999999999998 749.7,179.29999999999998 L749.7,180.39999999999998" fill="none" stroke="#111" stroke-width="1.25"/>
<rect x="749.1" y="181.1" width="1.3" height="1.1" fill="#111"/>
<rect x="751.5" y="175.79999999999998" width="2.2" height="4.7" fill="#111"/>
<rect x="751.7" y="181.1" width="1.8" height="1.1" fill="#111"/>
<path d="M776.1999999999999,177.39999999999998 Q776.4,175.89999999999998 777.6999999999999,175.89999999999998 Q779.0999999999999,175.99999999999997 778.9,177.7 Q778.6999999999999,178.79999999999998 777.9,179.29999999999998 L777.9,180.39999999999998" fill="none" stroke="#111" stroke-width="1.25"/>
<rect x="777.3" y="181.1" width="1.3" height="1.1" fill="#111"/>
<rect x="779.6999999999999" y="175.79999999999998" width="2.2" height="4.7" fill="#111"/>
<rect x="779.9" y="181.1" width="1.8" height="1.1" fill="#111"/>
<rect x="757.8" y="176.2" width="13.399999999999999" height="5" fill="#008000" stroke="none" stroke-width="1" />
<rect x="744" y="184.1" width="41" height="1.1" fill="#1e1e1e" stroke="none" stroke-width="1" />
<path d="M745.8,190.04999999999998 L748.88,192.85 L745.8,195.65 Z" fill="#000"/>
<text x="750" y="196.9" font-size="12.4" fill="#2b8a38" text-anchor="start" textLength="31" lengthAdjust="spacingAndGlyphs" >Visible</text>
<path d="M735,207.6 L735,191.6 L744,191.6" fill="none" stroke="#008000" stroke-width="1.2" stroke-dasharray="1.2,1.3"/>
<circle cx="735" cy="207.6" r="2.3" fill="#fff" stroke="#008000" stroke-width="1.2"/><circle cx="735" cy="207.6" r="0.8" fill="#008000"/>
<circle cx="383.6" cy="191.6" r="2.3" fill="#fff" stroke="#008000" stroke-width="1.2"/><circle cx="383.6" cy="191.6" r="0.8" fill="#008000"/>
<rect x="22.5" y="247.2" width="68.5" height="50" fill="#fff" stroke="#ff00ff" stroke-width="3" />
<rect x="21" y="245.7" width="4.5" height="53" fill="#ff00ff" stroke="none" stroke-width="1" />
<text x="87.6" y="259.6" font-size="12.4" fill="#202030" text-anchor="end" textLength="61" lengthAdjust="spacingAndGlyphs" >Czy zapisać</text>
<text x="87.6" y="273.5" font-size="12.4" fill="#202030" text-anchor="end" textLength="55" lengthAdjust="spacingAndGlyphs" >otrzymane</text>
<text x="87.6" y="287.4" font-size="12.4" fill="#202030" text-anchor="end" textLength="52" lengthAdjust="spacingAndGlyphs" >przebiegi?</text>
<rect x="22.5" y="308.1" width="27" height="15.099999999999966" fill="#fff" stroke="#ff00ff" stroke-width="3" />
<rect x="21" y="306.6" width="4.4" height="18.099999999999966" fill="#ff00ff" stroke="none" stroke-width="1" />
<text x="26.599999999999998" y="319.9" font-size="12.4" fill="#202030" text-anchor="start" textLength="23" lengthAdjust="spacingAndGlyphs" >TAK</text>
<rect x="58.2" y="331.5" width="24.89999999999999" height="15" fill="#fff" stroke="#ff00ff" stroke-width="3" />
<rect x="56.7" y="330" width="4.4" height="18" fill="#ff00ff" stroke="none" stroke-width="1" />
<text x="62.300000000000004" y="343.2" font-size="12.4" fill="#202030" text-anchor="start" textLength="18.5" lengthAdjust="spacingAndGlyphs" >NIE</text>
<path d="M92.00,270.70 L94.72,270.70 L94.72,272.30 L97.45,272.30 L97.45,270.70 L100.18,270.70 L100.18,272.30 L102.90,272.30 L103.70,271.50 L103.70,273.92 L102.10,273.92 L102.10,276.35 L103.70,276.35 L103.70,278.77 L102.10,278.77 L102.10,281.19 L103.70,281.19 L103.70,283.62 L102.10,283.62 L102.10,286.04 L103.70,286.04 L103.70,288.46 L102.10,288.46 L102.10,290.88 L103.70,290.88 L103.70,293.31 L102.10,293.31 L102.10,295.73 L103.70,295.73 L103.70,298.15 L102.10,298.15 L102.10,300.58 L103.70,300.58 L103.70,303.00 L102.90,302.20 L105.25,302.20 L105.25,303.80 L107.60,303.80 L107.60,302.20 L109.95,302.20 L109.95,303.80 L112.30,303.80" fill="none" stroke="#ff00ff" stroke-width="1.35" stroke-linejoin="miter"/>
<path d="M51.00,314.50 L53.45,314.50 L53.45,316.10 L55.90,316.10 L55.90,314.50 L58.36,314.50 L58.36,316.10 L60.81,316.10 L60.81,314.50 L63.26,314.50 L63.26,316.10 L65.71,316.10 L65.71,314.50 L68.16,314.50 L68.16,316.10 L70.62,316.10 L70.62,314.50 L73.07,314.50 L73.07,316.10 L75.52,316.10 L75.52,314.50 L77.97,314.50 L77.97,316.10 L80.42,316.10 L80.42,314.50 L82.88,314.50 L82.88,316.10 L85.33,316.10 L85.33,314.50 L87.78,314.50 L87.78,316.10 L90.23,316.10 L90.23,314.50 L92.68,314.50 L92.68,316.10 L95.14,316.10 L95.14,314.50 L97.59,314.50 L97.59,316.10 L100.04,316.10 L100.04,314.50 L102.49,314.50 L102.49,316.10 L104.94,316.10 L104.94,314.50 L107.40,314.50 L107.40,316.10 L109.85,316.10 L109.85,314.50 L112.30,314.50" fill="none" stroke="#ff00ff" stroke-width="1.35" stroke-linejoin="miter"/>
<path d="M84.60,338.20 L87.23,338.20 L87.23,339.80 L89.86,339.80 L89.86,338.20 L92.49,338.20 L92.49,339.80 L95.11,339.80 L95.11,338.20 L97.74,338.20 L97.74,339.80 L100.37,339.80 L100.37,338.20 L103.00,338.20 L102.20,339.00 L102.20,336.30 L103.80,336.30 L103.80,333.60 L102.20,333.60 L102.20,330.90 L103.80,330.90 L103.80,328.20 L102.20,328.20 L102.20,325.50 L103.00,324.70 L105.33,324.70 L105.33,326.30 L107.65,326.30 L107.65,324.70 L109.97,324.70 L109.97,326.30 L112.30,326.30" fill="none" stroke="#ff00ff" stroke-width="1.35" stroke-linejoin="miter"/>
<rect x="113.5" y="299.2" width="33.50000000000001" height="34.00000000000002" fill="#111" stroke="none" stroke-width="1" />
<rect x="112.8" y="298.5" width="32.50000000000001" height="33.00000000000002" fill="#f8f4c8" stroke="#222" stroke-width="1" />
<rect x="114.2" y="300.1" width="17.5" height="15.7" fill="#111" stroke="none" stroke-width="1" />
<rect x="115.89999999999999" y="301.5" width="4.8" height="13" fill="#f8f4c8" stroke="none" stroke-width="1" />
<rect x="117.1" y="303" width="1.3" height="1.5" fill="#333" stroke="none" stroke-width="1" />
<path d="M119.8,308.5 l1.8,0 l0,1.6 l-1.8,0 M119.8,311.6 l1.8,0" fill="none" stroke="#111" stroke-width="1"/>
<path d="M123.8,313.1 L125.5,310.6 Q122.8,308 123.6,305.5 Q124.8,302.5 127.8,302.6 Q130.7,303 130.4,306.3 Q130.1,309.5 127.3,313.1 Z" fill="#f8f4c8"/>
<path d="M134.6,303.3 L144.1,303.3" stroke="#222" stroke-width="1.3" stroke-dasharray="4,1,3"/>
<path d="M133.1,306.7 L144.1,306.7" stroke="#222" stroke-width="1.3" stroke-dasharray="2,1,1,1,4"/>
<path d="M133.1,310.2 L144.1,310.2" stroke="#222" stroke-width="1.3" stroke-dasharray="1.5,1,1.5,1,5"/>
<path d="M133.1,313.4 L144.1,313.4" stroke="#222" stroke-width="1.3" stroke-dasharray="2.5,1,4,1"/>
<rect x="114.7" y="318.4" width="13" height="9.6" fill="#f8f4c8" stroke="#333" stroke-width="1.3" rx="1.8"/>
<rect x="130.1" y="318.4" width="13.6" height="9.6" fill="#f8f4c8" stroke="#333" stroke-width="1.3" rx="1.8"/>
<path d="M118.7,321.2 l5,0 M121.2,321.2 l0,5" stroke="#111" stroke-width="1.3"/>
<path d="M138.9,321.2 l-3.6,0 l0,5 M135.3,323.4 l3,0" fill="none" stroke="#111" stroke-width="1.3"/>
<path d="M146.4,315.5 L161,315.5" fill="none" stroke="#008000" stroke-width="1.2" stroke-dasharray="1.2,1.3"/>
<rect x="161.7" y="309.3" width="7.8" height="12.2" fill="#fcf8d0" stroke="#008000" stroke-width="1.3" />
<path d="M163.3,312.3 Q163.4,310.6 165.4,310.6 Q167.4,310.7 167.3,312.4 Q167.1,313.6 165.6,314.4 L165.6,316.3" fill="none" stroke="#008000" stroke-width="1.3"/><rect x="164.9" y="317.6" width="1.4" height="1.5" fill="#008000"/>
<rect x="222.5" y="244.5" width="146.7" height="15.699999999999989" fill="#fff" stroke="#ff00ff" stroke-width="3" />
<rect x="221" y="243" width="4.4" height="18.69999999999999" fill="#ff00ff" stroke="none" stroke-width="1" />
<text x="227" y="256.9" font-size="12.4" fill="#202030" text-anchor="start" textLength="139.5" lengthAdjust="spacingAndGlyphs" >%Y-%m-%d_%H-%M-%S</text>
<path d="M370.70,251.10 L373.16,251.10 L373.16,252.70 L375.62,252.70 L375.62,251.10 L378.08,251.10 L378.08,252.70 L380.54,252.70 L380.54,251.10 L383.00,251.10 L383.80,251.90 L383.80,254.38 L382.20,254.38 L382.20,256.86 L383.80,256.86 L383.80,259.34 L382.20,259.34 L382.20,261.82 L383.80,261.82 L383.80,264.29 L382.20,264.29 L382.20,266.77 L383.80,266.77 L383.80,269.25 L382.20,269.25 L382.20,271.73 L383.80,271.73 L383.80,274.21 L382.20,274.21 L382.20,276.69 L383.80,276.69 L383.80,279.17 L382.20,279.17 L382.20,281.65 L383.80,281.65 L383.80,284.13 L382.20,284.13 L382.20,286.61 L383.80,286.61 L383.80,289.08 L382.20,289.08 L382.20,291.56 L383.80,291.56 L383.80,294.04 L382.20,294.04 L382.20,296.52 L383.80,296.52 L383.80,299.00 L383.00,298.20 L385.47,298.20 L385.47,299.80 L387.93,299.80 L387.93,298.20 L390.40,298.20" fill="none" stroke="#ff00ff" stroke-width="1.35" stroke-linejoin="miter"/>
<rect x="232.5" y="283.40000000000003" width="140.20000000000002" height="14.899999999999967" fill="#fff" stroke="#111" stroke-width="1.25" />
<text x="233.70000000000002" y="295.59999999999997" font-size="12.4" fill="#202030" text-anchor="start" textLength="136" lengthAdjust="spacingAndGlyphs" >Get Date/Time In Seconds</text>
<g transform="translate(232,299)">
<rect x="0.6" y="0.6" width="33.5" height="33.6" fill="#fcf8c8" stroke="#222" stroke-width="1.2"/>
<path d="M0.6,2.3 L19,2.3 Q21.5,2.3 21.5,5 L21.5,28.5 L0.6,28.5" fill="none" stroke="#222" stroke-width="1.3"/>
<path d="M0.6,4.2 L18,4.2 Q19.6,4.2 19.6,6 L19.6,25.5 Q19.6,27 18,27 L0.6,27" fill="none" stroke="#555" stroke-width="0.9"/>
<rect x="3.3" y="6" width="12.2" height="11" fill="#111"/>
<rect x="4.6" y="7.3" width="8.6" height="8.2" fill="#fcf8c8"/>
<text x="8.9" y="14" font-size="7.2" font-weight="bold" fill="#222" text-anchor="middle">12</text>
<rect x="2" y="21" width="14" height="8" fill="#fcf8c8" stroke="#222" stroke-width="0.9"/>
<path d="M5,21 L5,29 M8.5,21 L8.5,29 M12,21 L12,29 M2,25 L16,25" stroke="#333" stroke-width="1"/>
<path d="M0.6,29 L21.5,29 M7.5,33.5 L18,33.5" stroke="#222" stroke-width="1.4"/>
<path d="M22.8,16.3 L26.2,18.3 L22.8,20.3 Z" fill="#111"/><rect x="28.2" y="17.4" width="3.8" height="2.2" fill="#111"/>
</g>
<rect x="266.5" y="314.9" width="124" height="3.8" fill="#c02828" stroke="none" stroke-width="1" />
<path d="M266.5,316.8 L390.4,316.8" fill="none" stroke="#f0d0d0" stroke-width="1.4" stroke-dasharray="2.2,1.9"/>
<rect x="391.0" y="274.8" width="130.00000000000006" height="14.400000000000023" fill="#fff" stroke="#111" stroke-width="1.25" />
<text x="392.2" y="286.5" font-size="12.4" fill="#202030" text-anchor="start" textLength="127" lengthAdjust="spacingAndGlyphs" >Format Date/Time String</text>
<g transform="translate(390.4,290)">
<rect x="0.6" y="0.6" width="33" height="33.6" fill="#fcf8c8" stroke="#222" stroke-width="1.2"/>
<rect x="1.9" y="2.7" width="16" height="8.2" fill="#111"/>
<text x="9.9" y="9.6" font-size="7.5" font-weight="bold" fill="#c8c8b0" text-anchor="middle" textLength="13" lengthAdjust="spacingAndGlyphs">%%</text>
<text x="19" y="12.2" font-size="7.4" font-weight="bold" fill="#111" textLength="13" lengthAdjust="spacingAndGlyphs">JAN</text>
<text x="22.8" y="19.8" font-size="7.4" font-weight="bold" fill="#111" textLength="7.6" lengthAdjust="spacingAndGlyphs">01</text>
<text x="18.7" y="28.8" font-size="7.4" font-weight="bold" fill="#111" textLength="13.3" lengthAdjust="spacingAndGlyphs">12:01</text>
<path d="M15.2,17.1 L18.5,17.1" stroke="#111" stroke-width="1.3"/><path d="M18,14.6 L21.5,17.1 L18,19.6 Z" fill="#111"/>
<path d="M6,17 L11.5,17 L15.3,20.8 L15.3,26.6 L11.5,30.3 L6,30.3 L2.4,26.6 L2.4,20.8 Z" fill="#fcf8c8" stroke="#111" stroke-width="1.2"/>
<rect x="5.5" y="15.4" width="6.5" height="1.8" fill="#111"/><rect x="5.5" y="30" width="6.5" height="1.8" fill="#111"/>
<path d="M8.9,19 L8.9,23.3 L12,23.3" fill="none" stroke="#111" stroke-width="1.2"/>
</g>
<rect x="438.40000000000003" y="230.4" width="91.99999999999999" height="14.399999999999995" fill="#fff" stroke="#111" stroke-width="1.25" />
<text x="439.6" y="242.1" font-size="12.4" fill="#202030" text-anchor="start" textLength="89" lengthAdjust="spacingAndGlyphs" >Default Directory</text>
<rect x="437.8" y="245.8" width="17.7" height="16.2" fill="#222" stroke="none" stroke-width="1" />
<rect x="440.3" y="248.3" width="12.7" height="11.2" fill="#f4f0c4" stroke="none" stroke-width="1" />
<path d="M442,254 L446.6,249.5 L451.2,254 M443.2,253 L443.2,258.3 L450,258.3 L450,253" fill="none" stroke="#111" stroke-width="1.1"/>
<rect x="445.3" y="255" width="2.4" height="3.3" fill="#111" stroke="none" stroke-width="1" />
<rect x="539.1" y="230.4" width="53.59999999999995" height="14.399999999999995" fill="#fff" stroke="#111" stroke-width="1.25" />
<text x="540.3" y="242.1" font-size="12.4" fill="#202030" text-anchor="start" textLength="51.5" lengthAdjust="spacingAndGlyphs" >Build Path</text>
<g transform="translate(538.5,245.8) scale(0.9884,0.9710)">
<rect x="0.55" y="0.55" width="33.4" height="33.4" fill="#faf6c6" stroke="#111" stroke-width="1.2"/>
<rect x="14.1" y="2.7" width="7.4" height="29.4" fill="#faf6c6" stroke="#1a1a1a" stroke-width="1"/>
<rect x="14.1" y="25.2" width="7.4" height="6.9" fill="url(#hat)" stroke="#1a1a1a" stroke-width="1"/>
<rect x="2.1" y="25.5" width="7.2" height="6.6" fill="url(#hat)" stroke="#1a1a1a" stroke-width="1"/>
<path d="M9.3,28.9 L14,28.9 M9,8.3 L14,8.3 M21.5,16 L25,16" stroke="#111" stroke-width="1"/>
<path d="M11,26.6 L13.6,28.9 L11,31.2 Z M11,6 L13.6,8.3 L11,10.6 Z M23,13.7 L25.6,16 L23,18.3 Z" fill="#111"/>
<path d="M4,7.5 Q7.5,8.5 8,11.3 Q7.5,14.5 4,15.5" fill="none" stroke="#111" stroke-width="0.9"/>
<path d="M26.4,12 L31,16 M26.4,19.5 L31,16.3 M26.4,21 L31,24.5" fill="none" stroke="#111" stroke-width="0.9"/>
<rect x="2.5" y="6.300000000000001" width="2.5" height="2.2" fill="#faf6c6" stroke="#111" stroke-width="0.9"/>
<rect x="7.0" y="10.4" width="2.5" height="2.2" fill="#faf6c6" stroke="#111" stroke-width="0.9"/>
<rect x="2.5" y="15.3" width="2.5" height="2.2" fill="#faf6c6" stroke="#111" stroke-width="0.9"/>
<rect x="25.599999999999998" y="10.700000000000001" width="2.5" height="2.2" fill="#faf6c6" stroke="#111" stroke-width="0.9"/>
<rect x="30.099999999999998" y="15.4" width="2.5" height="2.2" fill="#faf6c6" stroke="#111" stroke-width="0.9"/>
<rect x="25.599999999999998" y="19.599999999999998" width="2.5" height="2.2" fill="#faf6c6" stroke="#111" stroke-width="0.9"/>
<rect x="29.7" y="23.3" width="2.8" height="2.6" fill="#111"/>
</g>
<path d="M455.50,253.55 L457.34,253.55 L457.34,254.45 L459.19,254.45 L459.19,253.55 L461.03,253.55 L461.03,254.45 L462.88,254.45 L462.88,253.55 L464.72,253.55 L464.72,254.45 L466.57,254.45 L466.57,253.55 L468.41,253.55 L468.41,254.45 L470.26,254.45 L470.26,253.55 L472.10,253.55 L472.10,254.45 L473.94,254.45 L473.94,253.55 L475.79,253.55 L475.79,254.45 L477.63,254.45 L477.63,253.55 L479.48,253.55 L479.48,254.45 L481.32,254.45 L481.32,253.55 L483.17,253.55 L483.17,254.45 L485.01,254.45 L485.01,253.55 L486.86,253.55 L486.86,254.45 L488.70,254.45 L488.70,253.55 L490.54,253.55 L490.54,254.45 L492.39,254.45 L492.39,253.55 L494.23,253.55 L494.23,254.45 L496.08,254.45 L496.08,253.55 L497.92,253.55 L497.92,254.45 L499.77,254.45 L499.77,253.55 L501.61,253.55 L501.61,254.45 L503.46,254.45 L503.46,253.55 L505.30,253.55 L505.30,254.45 L507.14,254.45 L507.14,253.55 L508.99,253.55 L508.99,254.45 L510.83,254.45 L510.83,253.55 L512.68,253.55 L512.68,254.45 L514.52,254.45 L514.52,253.55 L516.37,253.55 L516.37,254.45 L518.21,254.45 L518.21,253.55 L520.06,253.55 L520.06,254.45 L521.90,254.45 L521.90,253.55 L523.74,253.55 L523.74,254.45 L525.59,254.45 L525.59,253.55 L527.43,253.55 L527.43,254.45 L529.28,254.45 L529.28,253.55 L531.12,253.55 L531.12,254.45 L532.97,254.45 L532.97,253.55 L534.81,253.55 L534.81,254.45 L536.66,254.45 L536.66,253.55 L538.50,253.55" fill="none" stroke="#0f8282" stroke-width="1.35" stroke-linejoin="miter"/>
<path d="M424.40,306.60 L426.93,306.60 L426.93,308.20 L429.45,308.20 L429.45,306.60 L431.98,306.60 L431.98,308.20 L434.51,308.20 L434.51,306.60 L437.03,306.60 L437.03,308.20 L439.56,308.20 L439.56,306.60 L442.09,306.60 L442.09,308.20 L444.61,308.20 L444.61,306.60 L447.14,306.60 L447.14,308.20 L449.67,308.20 L449.67,306.60 L452.20,306.60 L452.20,308.20 L454.72,308.20 L454.72,306.60 L457.25,306.60 L457.25,308.20 L459.78,308.20 L459.78,306.60 L462.30,306.60 L462.30,308.20 L464.83,308.20 L464.83,306.60 L467.36,306.60 L467.36,308.20 L469.88,308.20 L469.88,306.60 L472.41,306.60 L472.41,308.20 L474.94,308.20 L474.94,306.60 L477.46,306.60 L477.46,308.20 L479.99,308.20 L479.99,306.60 L482.52,306.60 L482.52,308.20 L485.04,308.20 L485.04,306.60 L487.57,306.60 L487.57,308.20 L490.10,308.20 L490.10,306.60 L492.62,306.60 L492.62,308.20 L495.15,308.20 L495.15,306.60 L497.68,306.60 L497.68,308.20 L500.20,308.20 L500.20,306.60 L502.73,306.60 L502.73,308.20 L505.26,308.20 L505.26,306.60 L507.79,306.60 L507.79,308.20 L510.31,308.20 L510.31,306.60 L512.84,306.60 L512.84,308.20 L515.37,308.20 L515.37,306.60 L517.89,306.60 L517.89,308.20 L520.42,308.20 L520.42,306.60 L522.95,306.60 L522.95,308.20 L525.47,308.20 L525.47,306.60 L528.00,306.60 L527.20,307.40 L527.20,304.97 L528.80,304.97 L528.80,302.55 L527.20,302.55 L527.20,300.12 L528.80,300.12 L528.80,297.69 L527.20,297.69 L527.20,295.27 L528.80,295.27 L528.80,292.84 L527.20,292.84 L527.20,290.41 L528.80,290.41 L528.80,287.99 L527.20,287.99 L527.20,285.56 L528.80,285.56 L528.80,283.13 L527.20,283.13 L527.20,280.71 L528.80,280.71 L528.80,278.28 L527.20,278.28 L527.20,275.85 L528.80,275.85 L528.80,273.43 L527.20,273.43 L527.20,271.00 L528.00,270.20 L530.62,270.20 L530.62,271.80 L533.25,271.80 L533.25,270.20 L535.88,270.20 L535.88,271.80 L538.50,271.80" fill="none" stroke="#ff00ff" stroke-width="1.35" stroke-linejoin="miter"/>
<rect x="599.6" y="242.79999999999998" width="76.8" height="14.99999999999999" fill="#fff" stroke="#111" stroke-width="1.25" />
<text x="600.8" y="255.09999999999997" font-size="12.4" fill="#202030" text-anchor="start" textLength="75" lengthAdjust="spacingAndGlyphs" >New Directory</text>
<g transform="translate(599,258.5)">
<path d="M0.6,0.6 L33.6,0.6 L33.6,33.7 L4.3,33.7 L0.6,30 Z" fill="#fcf8c8" stroke="#222" stroke-width="1.2"/>
<rect x="3.4" y="0.9" width="24.6" height="16" fill="#fcf8c8" stroke="#111" stroke-width="1.3" rx="0.8"/>
<text x="15.7" y="14.6" font-size="9.8" font-weight="bold" fill="#111" text-anchor="middle" textLength="21" lengthAdjust="spacingAndGlyphs">NEW</text>
<rect x="30.6" y="4" width="1.6" height="1.6" fill="#111"/>
<path d="M7.6,22.5 Q8.5,19 12,19 Q14,19 14.5,20.5 L26.5,20.5 L27,32 M3,23 L23,23 L27,32 L7,32 Z" fill="#fcf8c8" stroke="#111" stroke-width="1.2"/>
</g>
<path d="M572.60,262.55 L574.49,262.55 L574.49,263.45 L576.37,263.45 L576.37,262.55 L578.26,262.55 L578.26,263.45 L580.14,263.45 L580.14,262.55 L582.03,262.55 L582.03,263.45 L583.91,263.45 L583.91,262.55 L585.80,262.55 L585.80,263.45 L587.69,263.45 L587.69,262.55 L589.57,262.55 L589.57,263.45 L591.46,263.45 L591.46,262.55 L593.34,262.55 L593.34,263.45 L595.23,263.45 L595.23,262.55 L597.11,262.55 L597.11,263.45 L599.00,263.45" fill="none" stroke="#0f8282" stroke-width="1.35" stroke-linejoin="miter"/>
<rect x="366.8" y="397.90000000000003" width="29.3" height="14.600000000000012" fill="#fff" stroke="#111" stroke-width="1.25" />
<text x="368.0" y="409.8" font-size="12.4" fill="#202030" text-anchor="start" textLength="26.5" lengthAdjust="spacingAndGlyphs" >teta1</text>
<rect x="367.3" y="414.40000000000003" width="38.3" height="38.89999999999996" fill="#fff" stroke="#008000" stroke-width="2.2" />
<rect x="369.3" y="416.40000000000003" width="34.3" height="34.89999999999996" fill="none" stroke="#7cc07c" stroke-width="0.9" />
<rect x="370.2" y="417.3" width="32.5" height="33.099999999999966" fill="#a8a8a8" stroke="none" stroke-width="1" />
<rect x="371.06" y="426.041" width="29.16" height="15.617999999999988" fill="#dcdcdc" stroke="#8a8a8a" stroke-width="1" />
<text x="385.64" y="437.91068" font-size="8.6" fill="#111" text-anchor="middle" textLength="10.5" lengthAdjust="spacingAndGlyphs" >OK</text>
<path d="M399.2,431.384 L403.5,434.67199999999997 L399.2,437.96 Z" fill="#fff" stroke="#222" stroke-width="1"/>
<rect x="378.34999999999997" y="444.9" width="16.605" height="8.5" fill="#fff" stroke="#008000" stroke-width="1.2" />
<text x="386.6525" y="452.0" font-size="7.5" fill="#008000" text-anchor="middle" textLength="12.15" lengthAdjust="spacingAndGlyphs" font-weight="bold">T F</text>
<path d="M416.3,425.5 L434.4,434.4 L416.3,443.3 Z" fill="#f4f0c4" stroke="#333" stroke-width="1"/>
<circle cx="414.5" cy="434.4" r="1.6" fill="#fff" stroke="#333" stroke-width="0.8"/>
<path d="M419.3,432.9 l4,0 l0,2.5" fill="none" stroke="#111" stroke-width="1"/>
<path d="M406.7,434.4 L411.5,434.4" fill="none" stroke="#008000" stroke-width="1.2" stroke-dasharray="1.2,1.3"/>
<path d="M434.4,434.4 L457.8,434.4" fill="none" stroke="#008000" stroke-width="1.2" stroke-dasharray="1.2,1.3"/>
<rect x="366.8" y="478.40000000000003" width="16.8" height="14.49999999999999" fill="#fff" stroke="#111" stroke-width="1.25" />
<text x="368.0" y="490.2" font-size="12.4" fill="#202030" text-anchor="start" textLength="15" lengthAdjust="spacingAndGlyphs" >ym</text>
<rect x="367.3" y="495.1" width="38.3" height="38.699999999999974" fill="#fff" stroke="#008000" stroke-width="2.2" />
<rect x="369.3" y="497.1" width="34.3" height="34.699999999999974" fill="none" stroke="#7cc07c" stroke-width="0.9" />
<rect x="370.2" y="498" width="32.5" height="32.89999999999998" fill="#a8a8a8" stroke="none" stroke-width="1" />
<rect x="371.06" y="506.679" width="29.16" height="15.541999999999991" fill="#dcdcdc" stroke="#8a8a8a" stroke-width="1" />
<text x="385.64" y="518.49092" font-size="8.6" fill="#111" text-anchor="middle" textLength="10.5" lengthAdjust="spacingAndGlyphs" >OK</text>
<path d="M399.2,511.996 L403.5,515.268 L399.2,518.54 Z" fill="#fff" stroke="#222" stroke-width="1"/>
<rect x="378.34999999999997" y="525.4" width="16.605" height="8.5" fill="#fff" stroke="#008000" stroke-width="1.2" />
<text x="386.6525" y="532.5" font-size="7.5" fill="#008000" text-anchor="middle" textLength="12.15" lengthAdjust="spacingAndGlyphs" font-weight="bold">T F</text>
<path d="M419.5,506 L437,515.0 L419.5,524 Z" fill="#f4f0c4" stroke="#333" stroke-width="1"/>
<circle cx="417.7" cy="515.0" r="1.6" fill="#fff" stroke="#333" stroke-width="0.8"/>
<path d="M422.5,513.5 l4,0 l0,2.5" fill="none" stroke="#111" stroke-width="1"/>
<path d="M406.7,514.9 L414.8,514.9" fill="none" stroke="#008000" stroke-width="1.2" stroke-dasharray="1.2,1.3"/>
<path d="M437,514.9 L458.9,514.9" fill="none" stroke="#008000" stroke-width="1.2" stroke-dasharray="1.2,1.3"/>
<rect x="430.5" y="410.2" width="10.999999999999977" height="15.299999999999988" fill="#fff" stroke="#2f2fff" stroke-width="2.4" />
<text x="432.9" y="422.2" font-size="12.4" fill="#202030" text-anchor="start" >0</text>
<path d="M442.7,418.2 L457.8,418.2" fill="none" stroke="#2f2fff" stroke-width="1.3" />
<path d="M450,418.2 L450,498.9 L458.9,498.9" fill="none" stroke="#2f2fff" stroke-width="1.3" />
<circle cx="450" cy="418.2" r="2.3" fill="#2f2fff"/>
<rect x="458.40000000000003" y="384.8" width="24.99999999999999" height="14.400000000000023" fill="#fff" stroke="#111" stroke-width="1.25" />
<text x="459.6" y="396.5" font-size="12.4" fill="#202030" text-anchor="start" textLength="21.5" lengthAdjust="spacingAndGlyphs" >teta</text>
<rect x="458.40000000000003" y="400.90000000000003" width="67.20000000000003" height="42.10000000000001" fill="#fff" stroke="#111" stroke-width="1.25" />
<rect x="458.8" y="401.3" width="66.40000000000003" height="9.6" fill="#fcf9cc" stroke="none" stroke-width="1" />
<path d="M461.8,404.1000000000001 Q462.00000000000006,402.6000000000001 463.3,402.6000000000001 Q464.70000000000005,402.70000000000005 464.50000000000006,404.40000000000003 Q464.3,405.50000000000006 463.50000000000006,406.00000000000006 L463.50000000000006,407.1000000000001" fill="none" stroke="#111" stroke-width="1.25"/>
<rect x="462.90000000000003" y="407.80000000000007" width="1.3" height="1.1" fill="#111"/>
<rect x="465.3" y="402.50000000000006" width="2.2" height="4.7" fill="#111"/>
<rect x="465.50000000000006" y="407.80000000000007" width="1.8" height="1.1" fill="#111"/>
<path d="M517.4,404.1000000000001 Q517.6,402.6000000000001 518.9,402.6000000000001 Q520.3,402.70000000000005 520.1,404.40000000000003 Q519.9,405.50000000000006 519.1,406.00000000000006 L519.1,407.1000000000001" fill="none" stroke="#111" stroke-width="1.25"/>
<rect x="518.5" y="407.80000000000007" width="1.3" height="1.1" fill="#111"/>
<rect x="520.9" y="402.50000000000006" width="2.2" height="4.7" fill="#111"/>
<rect x="521.1" y="407.80000000000007" width="1.8" height="1.1" fill="#111"/>
<rect x="471.6" y="402.90000000000003" width="40.80000000000003" height="5" fill="#a03a08" stroke="none" stroke-width="1" />
<rect x="457.8" y="410.8" width="68.40000000000003" height="1.1" fill="#1e1e1e" stroke="none" stroke-width="1" />
<path d="M459.6,416.7 L462.68,419.5 L459.6,422.3 Z" fill="#000"/>
<text x="475.6" y="423.5" font-size="12.4" fill="#2f2fff" text-anchor="start" textLength="37" lengthAdjust="spacingAndGlyphs" >ActPlot</text>
<rect x="457.8" y="427.2" width="68.40000000000003" height="1.1" fill="#1e1e1e" stroke="none" stroke-width="1" />
<path d="M459.6,433.09999999999997 L462.68,435.9 L459.6,438.7 Z" fill="#000"/>
<text x="461.5" y="439.9" font-size="12.4" fill="#2b8a38" text-anchor="start" textLength="62.5" lengthAdjust="spacingAndGlyphs" >Plot.Visible?</text>
<rect x="459.5" y="465.0" width="44.3" height="15.000000000000046" fill="#fff" stroke="#111" stroke-width="1.25" />
<text x="460.7" y="477.3" font-size="12.4" fill="#202030" text-anchor="start" textLength="41.5" lengthAdjust="spacingAndGlyphs" >sygnały</text>
<rect x="459.5" y="481.6" width="66.90000000000002" height="42.09999999999995" fill="#fff" stroke="#111" stroke-width="1.25" />
<rect x="459.9" y="482" width="66.10000000000002" height="9.6" fill="#fcf9cc" stroke="none" stroke-width="1" />
<path d="M462.9,484.80000000000007 Q463.1,483.30000000000007 464.4,483.30000000000007 Q465.8,483.40000000000003 465.6,485.1 Q465.4,486.20000000000005 464.6,486.70000000000005 L464.6,487.80000000000007" fill="none" stroke="#111" stroke-width="1.25"/>
<rect x="464.0" y="488.50000000000006" width="1.3" height="1.1" fill="#111"/>
<rect x="466.4" y="483.20000000000005" width="2.2" height="4.7" fill="#111"/>
<rect x="466.6" y="488.50000000000006" width="1.8" height="1.1" fill="#111"/>
<path d="M518.1999999999999,484.80000000000007 Q518.4,483.30000000000007 519.6999999999999,483.30000000000007 Q521.0999999999999,483.40000000000003 520.9,485.1 Q520.6999999999999,486.20000000000005 519.9,486.70000000000005 L519.9,487.80000000000007" fill="none" stroke="#111" stroke-width="1.25"/>
<rect x="519.3" y="488.50000000000006" width="1.3" height="1.1" fill="#111"/>
<rect x="521.6999999999999" y="483.20000000000005" width="2.2" height="4.7" fill="#111"/>
<rect x="521.9" y="488.50000000000006" width="1.8" height="1.1" fill="#111"/>
<rect x="472.7" y="483.6" width="40.50000000000002" height="5" fill="#a03a08" stroke="none" stroke-width="1" />
<rect x="458.9" y="491.5" width="68.10000000000002" height="1.1" fill="#1e1e1e" stroke="none" stroke-width="1" />
<path d="M460.7,497.4 L463.78,500.2 L460.7,503.0 Z" fill="#000"/>
<text x="476.7" y="504.2" font-size="12.4" fill="#2f2fff" text-anchor="start" textLength="37" lengthAdjust="spacingAndGlyphs" >ActPlot</text>
<rect x="458.9" y="507.9" width="68.10000000000002" height="1.1" fill="#1e1e1e" stroke="none" stroke-width="1" />
<path d="M460.7,513.8000000000001 L463.78,516.6 L460.7,519.4 Z" fill="#000"/>
<text x="462.6" y="520.5999999999999" font-size="12.4" fill="#2b8a38" text-anchor="start" textLength="62.5" lengthAdjust="spacingAndGlyphs" >Plot.Visible?</text>
<rect x="353.5" y="603.7" width="15.5" height="15.3" fill="#fcf8c8" stroke="#2f2fff" stroke-width="2.2" />
<path d="M361.3,609.2 L361.3,615.8" stroke="#2f2fff" stroke-width="1.8" stroke-linecap="round"/><path d="M360.6,607 L362,607" stroke="#2f2fff" stroke-width="1.5" stroke-linecap="round"/>
<rect x="463.40000000000003" y="564.2" width="27.600000000000012" height="15.099999999999955" fill="#fff" stroke="#111" stroke-width="1.25" />
<text x="464.6" y="576.6" font-size="12.4" fill="#202030" text-anchor="start" textLength="25.5" lengthAdjust="spacingAndGlyphs" >zapis</text>
<rect x="463.90000000000003" y="581.5" width="38.699999999999974" height="38.40000000000002" fill="#fff" stroke="#008000" stroke-width="2.2" />
<rect x="465.90000000000003" y="583.5" width="34.699999999999974" height="34.40000000000002" fill="none" stroke="#7cc07c" stroke-width="0.9" />
<rect x="466.8" y="584.4" width="32.89999999999998" height="32.60000000000002" fill="#a8a8a8" stroke="none" stroke-width="1" />
<rect x="467.708" y="592.986" width="29.447999999999983" height="15.42800000000001" fill="#dcdcdc" stroke="#8a8a8a" stroke-width="1" />
<text x="481.432" y="604.71128" font-size="8.4" fill="#e02020" text-anchor="middle" textLength="20" lengthAdjust="spacingAndGlyphs" font-weight="bold">STOP</text>
<path d="M496.2,598.264 L500.5,601.512 L496.2,604.76 Z" fill="#fff" stroke="#222" stroke-width="1"/>
<rect x="475.07" y="611.5" width="16.76899999999999" height="8.5" fill="#fff" stroke="#008000" stroke-width="1.2" />
<text x="483.4545" y="618.6" font-size="7.5" fill="#008000" text-anchor="middle" textLength="12.269999999999992" lengthAdjust="spacingAndGlyphs" font-weight="bold">T F</text>
<path d="M503.7,601.4 L517,601.4" fill="none" stroke="#008000" stroke-width="1.2" stroke-dasharray="1.2,1.3"/>
<rect x="517.5" y="592.3" width="16" height="16.5" fill="#f8f6c8" stroke="#008000" stroke-width="1" />
<path d="M531.32,603.01 L527.91,606.42 L523.09,606.42 L519.68,603.01 L519.68,598.19 L523.09,594.78 L527.91,594.78 L531.32,598.19 Z" fill="#fcf8c8" stroke="#111" stroke-width="1"/>
<path d="M529.75,602.36 L527.26,604.85 L523.74,604.85 L521.25,602.36 L521.25,598.84 L523.74,596.35 L527.26,596.35 L529.75,598.84 Z" fill="#f00"/>
<rect x="330.5" y="653.5" width="8.5" height="9" fill="#0a7a0a" stroke="#111" stroke-width="0.8" />
<rect x="174.8" y="577.5" width="97.7" height="113.7" fill="#fff" stroke="#ff00ff" stroke-width="3" />
<rect x="173.3" y="576" width="4.5" height="116.7" fill="#ff00ff" stroke="none" stroke-width="1" />
<text x="269.3" y="589.8" font-size="12.4" fill="#202030" text-anchor="end" textLength="75" lengthAdjust="spacingAndGlyphs" >Zanim wykresy</text>
<text x="269.3" y="603.8" font-size="12.4" fill="#202030" text-anchor="end" textLength="90" lengthAdjust="spacingAndGlyphs" >zostaną zapisane</text>
<text x="269.3" y="617.8" font-size="12.4" fill="#202030" text-anchor="end" textLength="70" lengthAdjust="spacingAndGlyphs" >do plików JPG</text>
<text x="269.3" y="631.8" font-size="12.4" fill="#202030" text-anchor="end" textLength="63" lengthAdjust="spacingAndGlyphs" >możliwa jest</text>
<text x="269.3" y="645.8" font-size="12.4" fill="#202030" text-anchor="end" textLength="87.5" lengthAdjust="spacingAndGlyphs" >modyfikacja skali</text>
<text x="269.3" y="659.8" font-size="12.4" fill="#202030" text-anchor="end" textLength="80.5" lengthAdjust="spacingAndGlyphs" >osi oraz ukrycie</text>
<text x="269.3" y="673.8" font-size="12.4" fill="#202030" text-anchor="end" textLength="57.5" lengthAdjust="spacingAndGlyphs" >wybranych</text>
<text x="269.3" y="687.8" font-size="12.4" fill="#202030" text-anchor="end" textLength="64" lengthAdjust="spacingAndGlyphs" >przebiegów.</text>
<path d="M274.00,647.50 L276.75,647.50 L276.75,649.10 L279.50,649.10 L279.50,647.50 L282.25,647.50 L282.25,649.10 L285.00,649.10" fill="none" stroke="#ff00ff" stroke-width="1.35" stroke-linejoin="miter"/>
<rect x="286.2" y="641.2" width="33.70000000000001" height="33.69999999999995" fill="#111" stroke="none" stroke-width="1" />
<rect x="285.5" y="640.5" width="32.70000000000001" height="32.69999999999995" fill="#f8f4c8" stroke="#222" stroke-width="1" />
<rect x="286.9" y="642.1" width="17.5" height="15.7" fill="#111" stroke="none" stroke-width="1" />
<rect x="288.6" y="643.5" width="4.8" height="13" fill="#f8f4c8" stroke="none" stroke-width="1" />
<rect x="289.8" y="645" width="1.3" height="1.5" fill="#333" stroke="none" stroke-width="1" />
<path d="M292.5,650.5 l1.8,0 l0,1.6 l-1.8,0 M292.5,653.6 l1.8,0" fill="none" stroke="#111" stroke-width="1"/>
<path d="M296.5,655.1 L298.2,652.6 Q295.5,650 296.3,647.5 Q297.5,644.5 300.5,644.6 Q303.4,645 303.1,648.3 Q302.8,651.5 300,655.1 Z" fill="#f8f4c8"/>
<path d="M307.3,645.3 L316.8,645.3" stroke="#222" stroke-width="1.3" stroke-dasharray="4,1,3"/>
<path d="M305.8,648.7 L316.8,648.7" stroke="#222" stroke-width="1.3" stroke-dasharray="2,1,1,1,4"/>
<path d="M305.8,652.2 L316.8,652.2" stroke="#222" stroke-width="1.3" stroke-dasharray="1.5,1,1.5,1,5"/>
<path d="M305.8,655.4 L316.8,655.4" stroke="#222" stroke-width="1.3" stroke-dasharray="2.5,1,4,1"/>
<rect x="291.8" y="660.9" width="19" height="8.8" fill="#f8f4c8" stroke="#333" stroke-width="1.2" rx="1.8"/>
<path d="M319.3,657.3 L330.5,657.3" fill="none" stroke="#008000" stroke-width="1.2" stroke-dasharray="1.2,1.3"/>
<path d="M633.30,266.35 L635.15,266.35 L635.15,267.25 L637.00,267.25 L637.00,266.35 L638.85,266.35 L638.85,267.25 L640.71,267.25 L640.71,266.35 L642.56,266.35 L642.56,267.25 L644.41,267.25 L644.41,266.35 L646.26,266.35 L646.26,267.25 L648.11,267.25 L648.11,266.35 L649.96,266.35 L649.96,267.25 L651.81,267.25 L651.81,266.35 L653.67,266.35 L653.67,267.25 L655.52,267.25 L655.52,266.35 L657.37,266.35 L657.37,267.25 L659.22,267.25 L659.22,266.35 L661.07,266.35 L661.07,267.25 L662.92,267.25 L662.92,266.35 L664.77,266.35 L664.77,267.25 L666.63,267.25 L666.63,266.35 L668.48,266.35 L668.48,267.25 L670.33,267.25 L670.33,266.35 L672.18,266.35 L672.18,267.25 L674.03,267.25 L674.03,266.35 L675.88,266.35 L675.88,267.25 L677.73,267.25 L677.73,266.35 L679.59,266.35 L679.59,267.25 L681.44,267.25 L681.44,266.35 L683.29,266.35 L683.29,267.25 L685.14,267.25 L685.14,266.35 L686.99,266.35 L686.99,267.25 L688.84,267.25 L688.84,266.35 L690.69,266.35 L690.69,267.25 L692.55,267.25 L692.55,266.35 L694.40,266.35 L694.40,267.25 L696.25,267.25 L696.25,266.35 L698.10,266.35 L698.10,267.25 L699.95,267.25 L699.95,266.35 L701.80,266.35 L701.80,267.25 L703.65,267.25 L703.65,266.35 L705.51,266.35 L705.51,267.25 L707.36,267.25 L707.36,266.35 L709.21,266.35 L709.21,267.25 L711.06,267.25 L711.06,266.35 L712.91,266.35 L712.91,267.25 L714.76,267.25 L714.76,266.35 L716.62,266.35 L716.62,267.25 L718.47,267.25 L718.47,266.35 L720.32,266.35 L720.32,267.25 L722.17,267.25 L722.17,266.35 L724.02,266.35 L724.02,267.25 L725.87,267.25 L725.87,266.35 L727.72,266.35 L727.72,267.25 L729.58,267.25 L729.58,266.35 L731.43,266.35 L731.43,267.25 L733.28,267.25 L733.28,266.35 L735.13,266.35 L735.13,267.25 L736.98,267.25 L736.98,266.35 L738.83,266.35 L738.83,267.25 L740.68,267.25 L740.68,266.35 L742.54,266.35 L742.54,267.25 L744.39,267.25 L744.39,266.35 L746.24,266.35 L746.24,267.25 L748.09,267.25 L748.09,266.35 L749.94,266.35 L749.94,267.25 L751.79,267.25 L751.79,266.35 L753.64,266.35 L753.64,267.25 L755.50,267.25 L755.50,266.35 L757.35,266.35 L757.35,267.25 L759.20,267.25 L759.20,266.35 L761.05,266.35 L761.05,267.25 L762.90,267.25 L762.90,266.35 L764.75,266.35 L764.75,267.25 L766.60,267.25 L766.60,266.35 L768.46,266.35 L768.46,267.25 L770.31,267.25 L770.31,266.35 L772.16,266.35 L772.16,267.25 L774.01,267.25 L774.01,266.35 L775.86,266.35 L775.86,267.25 L777.71,267.25 L777.71,266.35 L779.56,266.35 L779.56,267.25 L781.42,267.25 L781.42,266.35 L783.27,266.35 L783.27,267.25 L785.12,267.25 L785.12,266.35 L786.97,266.35 L786.97,267.25 L788.82,267.25 L788.82,266.35 L790.67,266.35 L790.67,267.25 L792.52,267.25 L792.52,266.35 L794.38,266.35 L794.38,267.25 L796.23,267.25 L796.23,266.35 L798.08,266.35 L798.08,267.25 L799.93,267.25 L799.93,266.35 L801.78,266.35 L801.78,267.25 L803.63,267.25 L803.63,266.35 L805.48,266.35 L805.48,267.25 L807.34,267.25 L807.34,266.35 L809.19,266.35 L809.19,267.25 L811.04,267.25 L811.04,266.35 L812.89,266.35 L812.89,267.25 L814.74,267.25 L814.74,266.35 L816.59,266.35 L816.59,267.25 L818.44,267.25 L818.44,266.35 L820.30,266.35 L820.30,267.25 L822.15,267.25 L822.15,266.35 L824.00,266.35 L824.00,267.25 L825.85,267.25 L825.85,266.35 L827.70,266.35 L827.70,267.25 L829.55,267.25 L829.55,266.35 L831.40,266.35 L831.40,267.25 L833.26,267.25 L833.26,266.35 L835.11,266.35 L835.11,267.25 L836.96,267.25 L836.96,266.35 L838.81,266.35 L838.81,267.25 L840.66,267.25 L840.66,266.35 L842.51,266.35 L842.51,267.25 L844.36,267.25 L844.36,266.35 L846.22,266.35 L846.22,267.25 L848.07,267.25 L848.07,266.35 L849.92,266.35 L849.92,267.25 L851.77,267.25 L851.77,266.35 L853.62,266.35 L853.62,267.25 L855.47,267.25 L855.47,266.35 L857.32,266.35 L857.32,267.25 L859.18,267.25 L859.18,266.35 L861.03,266.35 L861.03,267.25 L862.88,267.25 L862.88,266.35 L864.73,266.35 L864.73,267.25 L866.58,267.25 L866.58,266.35 L868.43,266.35 L868.43,267.25 L870.28,267.25 L870.28,266.35 L872.14,266.35 L872.14,267.25 L873.99,267.25 L873.99,266.35 L875.84,266.35 L875.84,267.25 L877.69,267.25 L877.69,266.35 L879.54,266.35 L879.54,267.25 L881.39,267.25 L881.39,266.35 L883.25,266.35 L883.25,267.25 L885.10,267.25 L885.10,266.35 L886.95,266.35 L886.95,267.25 L888.80,267.25 L888.80,266.35 L890.65,266.35 L890.65,267.25 L892.50,267.25 L892.50,266.35 L894.35,266.35 L894.35,267.25 L896.21,267.25 L896.21,266.35 L898.06,266.35 L898.06,267.25 L899.91,267.25 L899.91,266.35 L901.76,266.35 L901.76,267.25 L903.61,267.25 L903.61,266.35 L905.46,266.35 L905.46,267.25 L907.31,267.25 L907.31,266.35 L909.17,266.35 L909.17,267.25 L911.02,267.25 L911.02,266.35 L912.87,266.35 L912.87,267.25 L914.72,267.25 L914.72,266.35 L916.57,266.35 L916.57,267.25 L918.42,267.25 L918.42,266.35 L920.27,266.35 L920.27,267.25 L922.13,267.25 L922.13,266.35 L923.98,266.35 L923.98,267.25 L925.83,267.25 L925.83,266.35 L927.68,266.35 L927.68,267.25 L929.53,267.25 L929.53,266.35 L931.38,266.35 L931.38,267.25 L933.23,267.25 L933.23,266.35 L935.09,266.35 L935.09,267.25 L936.94,267.25 L936.94,266.35 L938.79,266.35 L938.79,267.25 L940.64,267.25 L940.64,266.35 L942.49,266.35 L942.49,267.25 L944.34,267.25 L944.34,266.35 L946.19,266.35 L946.19,267.25 L948.05,267.25 L948.05,266.35 L949.90,266.35 L949.90,267.25 L951.75,267.25 L951.75,266.35 L953.60,266.35" fill="none" stroke="#0f8282" stroke-width="1.35" stroke-linejoin="miter"/>
<path d="M648.95,266.80 L648.95,268.66 L648.05,268.66 L648.05,270.52 L648.95,270.52 L648.95,272.38 L648.05,272.38 L648.05,274.24 L648.95,274.24 L648.95,276.10 L648.05,276.10 L648.05,277.96 L648.95,277.96 L648.95,279.83 L648.05,279.83 L648.05,281.69 L648.95,281.69 L648.95,283.55 L648.05,283.55 L648.05,285.41 L648.95,285.41 L648.95,287.27 L648.05,287.27 L648.05,289.13 L648.95,289.13 L648.95,290.99 L648.05,290.99 L648.05,292.85 L648.95,292.85 L648.95,294.71 L648.05,294.71 L648.05,296.57 L648.95,296.57 L648.95,298.43 L648.05,298.43 L648.05,300.29 L648.95,300.29 L648.95,302.15 L648.05,302.15 L648.05,304.02 L648.95,304.02 L648.95,305.88 L648.05,305.88 L648.05,307.74 L648.95,307.74 L648.95,309.60 L648.05,309.60 L648.05,311.46 L648.95,311.46 L648.95,313.32 L648.05,313.32 L648.05,315.18 L648.95,315.18 L648.95,317.04 L648.05,317.04 L648.05,318.90 L648.95,318.90 L648.95,320.76 L648.05,320.76 L648.05,322.62 L648.95,322.62 L648.95,324.48 L648.05,324.48 L648.05,326.35 L648.95,326.35 L648.95,328.21 L648.05,328.21 L648.05,330.07 L648.95,330.07 L648.95,331.93 L648.05,331.93 L648.05,333.79 L648.95,333.79 L648.95,335.65 L648.05,335.65 L648.05,337.51 L648.95,337.51 L648.95,339.37 L648.05,339.37 L648.05,341.23 L648.95,341.23 L648.95,343.09 L648.05,343.09 L648.05,344.95 L648.95,344.95 L648.95,346.81 L648.05,346.81 L648.05,348.67 L648.95,348.67 L648.95,350.54 L648.05,350.54 L648.05,352.40 L648.95,352.40 L648.95,354.26 L648.05,354.26 L648.05,356.12 L648.95,356.12 L648.95,357.98 L648.05,357.98 L648.05,359.84 L648.95,359.84 L648.95,361.70 L648.50,361.25 L650.27,361.25 L650.27,362.15 L652.04,362.15 L652.04,361.25 L653.81,361.25 L653.81,362.15 L655.58,362.15 L655.58,361.25 L657.35,361.25 L657.35,362.15 L659.12,362.15 L659.12,361.25 L660.89,361.25 L660.89,362.15 L662.66,362.15 L662.66,361.25 L664.43,361.25 L664.43,362.15 L666.20,362.15" fill="none" stroke="#0f8282" stroke-width="1.35" stroke-linejoin="miter"/>
<rect x="645" y="331.7" width="8.3" height="8.3" fill="#008080" stroke="#222" stroke-width="0.9" />
<circle cx="648.5" cy="266.8" r="1.8" fill="#fff" stroke="#0f8282" stroke-width="1"/>
<path d="M657.15,361.70 L657.15,363.55 L656.25,363.55 L656.25,365.39 L657.15,365.39 L657.15,367.24 L656.25,367.24 L656.25,369.09 L657.15,369.09 L657.15,370.94 L656.25,370.94 L656.25,372.78 L657.15,372.78 L657.15,374.63 L656.25,374.63 L656.25,376.48 L657.15,376.48 L657.15,378.32 L656.25,378.32 L656.25,380.17 L657.15,380.17 L657.15,382.02 L656.25,382.02 L656.25,383.87 L657.15,383.87 L657.15,385.71 L656.25,385.71 L656.25,387.56 L657.15,387.56 L657.15,389.41 L656.25,389.41 L656.25,391.25 L657.15,391.25 L657.15,393.10 L656.25,393.10 L656.25,394.95 L657.15,394.95 L657.15,396.80 L656.25,396.80 L656.25,398.64 L657.15,398.64 L657.15,400.49 L656.25,400.49 L656.25,402.34 L657.15,402.34 L657.15,404.18 L656.25,404.18 L656.25,406.03 L657.15,406.03 L657.15,407.88 L656.25,407.88 L656.25,409.73 L657.15,409.73 L657.15,411.57 L656.25,411.57 L656.25,413.42 L657.15,413.42 L657.15,415.27 L656.25,415.27 L656.25,417.11 L657.15,417.11 L657.15,418.96 L656.25,418.96 L656.25,420.81 L657.15,420.81 L657.15,422.66 L656.25,422.66 L656.25,424.50 L657.15,424.50 L657.15,426.35 L656.25,426.35 L656.25,428.20 L657.15,428.20 L657.15,430.04 L656.25,430.04 L656.25,431.89 L657.15,431.89 L657.15,433.74 L656.25,433.74 L656.25,435.59 L657.15,435.59 L657.15,437.43 L656.25,437.43 L656.25,439.28 L657.15,439.28 L657.15,441.13 L656.25,441.13 L656.25,442.97 L657.15,442.97 L657.15,444.82 L656.25,444.82 L656.25,446.67 L657.15,446.67 L657.15,448.52 L656.25,448.52 L656.25,450.36 L657.15,450.36 L657.15,452.21 L656.25,452.21 L656.25,454.06 L657.15,454.06 L657.15,455.90 L656.25,455.90 L656.25,457.75 L657.15,457.75 L657.15,459.60 L656.25,459.60 L656.25,461.45 L657.15,461.45 L657.15,463.29 L656.25,463.29 L656.25,465.14 L657.15,465.14 L657.15,466.99 L656.25,466.99 L656.25,468.83 L657.15,468.83 L657.15,470.68 L656.25,470.68 L656.25,472.53 L657.15,472.53 L657.15,474.38 L656.25,474.38 L656.25,476.22 L657.15,476.22 L657.15,478.07 L656.25,478.07 L656.25,479.92 L657.15,479.92 L657.15,481.76 L656.25,481.76 L656.25,483.61 L657.15,483.61 L657.15,485.46 L656.25,485.46 L656.25,487.31 L657.15,487.31 L657.15,489.15 L656.25,489.15 L656.25,491.00 L656.70,490.55 L658.52,490.55 L658.52,491.45 L660.33,491.45 L660.33,490.55 L662.15,490.55 L662.15,491.45 L663.97,491.45 L663.97,490.55 L665.78,490.55 L665.78,491.45 L667.60,491.45" fill="none" stroke="#0f8282" stroke-width="1.35" stroke-linejoin="miter"/>
<circle cx="656.7" cy="361.7" r="1.8" fill="#fff" stroke="#0f8282" stroke-width="1"/>
<g transform="translate(666.2,353.4) scale(1.0000,0.9942)">
<rect x="0.55" y="0.55" width="33.4" height="33.4" fill="#faf6c6" stroke="#111" stroke-width="1.2"/>
<rect x="14.1" y="2.7" width="7.4" height="29.4" fill="#faf6c6" stroke="#1a1a1a" stroke-width="1"/>
<rect x="14.1" y="25.2" width="7.4" height="6.9" fill="url(#hat)" stroke="#1a1a1a" stroke-width="1"/>
<rect x="2.1" y="25.5" width="7.2" height="6.6" fill="url(#hat)" stroke="#1a1a1a" stroke-width="1"/>
<path d="M9.3,28.9 L14,28.9 M9,8.3 L14,8.3 M21.5,16 L25,16" stroke="#111" stroke-width="1"/>
<path d="M11,26.6 L13.6,28.9 L11,31.2 Z M11,6 L13.6,8.3 L11,10.6 Z M23,13.7 L25.6,16 L23,18.3 Z" fill="#111"/>
<path d="M4,7.5 Q7.5,8.5 8,11.3 Q7.5,14.5 4,15.5" fill="none" stroke="#111" stroke-width="0.9"/>
<path d="M26.4,12 L31,16 M26.4,19.5 L31,16.3 M26.4,21 L31,24.5" fill="none" stroke="#111" stroke-width="0.9"/>
<rect x="2.5" y="6.300000000000001" width="2.5" height="2.2" fill="#faf6c6" stroke="#111" stroke-width="0.9"/>
<rect x="7.0" y="10.4" width="2.5" height="2.2" fill="#faf6c6" stroke="#111" stroke-width="0.9"/>
<rect x="2.5" y="15.3" width="2.5" height="2.2" fill="#faf6c6" stroke="#111" stroke-width="0.9"/>
<rect x="25.599999999999998" y="10.700000000000001" width="2.5" height="2.2" fill="#faf6c6" stroke="#111" stroke-width="0.9"/>
<rect x="30.099999999999998" y="15.4" width="2.5" height="2.2" fill="#faf6c6" stroke="#111" stroke-width="0.9"/>
<rect x="25.599999999999998" y="19.599999999999998" width="2.5" height="2.2" fill="#faf6c6" stroke="#111" stroke-width="0.9"/>
<rect x="29.7" y="23.3" width="2.8" height="2.6" fill="#111"/>
</g>
<rect x="571.9000000000001" y="372.4" width="75.1" height="15.200000000000022" fill="#fff" stroke="#0f8282" stroke-width="2.4" />
<path d="M575.6,377.7 L575.6,383.4 L577.1,383.4" fill="none" stroke="#222" stroke-width="1"/>
<rect x="574.3000000000001" y="375.2" width="2.6" height="2.6" fill="#fff" stroke="#222" stroke-width="1" />
<rect x="577.3000000000001" y="382.2" width="2.6" height="2.6" fill="#fff" stroke="#222" stroke-width="1" />
<text x="582.3000000000001" y="384.5" font-size="12.4" fill="#202030" text-anchor="start" textLength="60.89999999999998" lengthAdjust="spacingAndGlyphs" >sygnały.jpg</text>
<path d="M648.20,378.55 L650.00,378.55 L650.00,379.45 L651.80,379.45 L651.80,378.55 L653.60,378.55 L653.60,379.45 L655.40,379.45 L655.40,378.55 L657.20,378.55 L657.20,379.45 L659.00,379.45 L659.00,378.55 L660.80,378.55 L660.80,379.45 L662.60,379.45 L662.60,378.55 L664.40,378.55 L664.40,379.45 L666.20,379.45" fill="none" stroke="#0f8282" stroke-width="1.35" stroke-linejoin="miter"/>
<path d="M700.70,370.15 L702.52,370.15 L702.52,371.05 L704.34,371.05 L704.34,370.15 L706.16,370.15 L706.16,371.05 L707.99,371.05 L707.99,370.15 L709.81,370.15 L709.81,371.05 L711.63,371.05 L711.63,370.15 L713.45,370.15 L713.45,371.05 L715.27,371.05 L715.27,370.15 L717.09,370.15 L717.09,371.05 L718.91,371.05 L718.91,370.15 L720.74,370.15 L720.74,371.05 L722.56,371.05 L722.56,370.15 L724.38,370.15 L724.38,371.05 L726.20,371.05 L726.65,370.60 L726.65,372.44 L725.75,372.44 L725.75,374.27 L726.65,374.27 L726.65,376.11 L725.75,376.11 L725.75,377.94 L726.65,377.94 L726.65,379.78 L725.75,379.78 L725.75,381.62 L726.65,381.62 L726.65,383.45 L725.75,383.45 L725.75,385.29 L726.65,385.29 L726.65,387.12 L725.75,387.12 L725.75,388.96 L726.65,388.96 L726.65,390.79 L725.75,390.79 L725.75,392.63 L726.65,392.63 L726.65,394.47 L725.75,394.47 L725.75,396.30 L726.65,396.30 L726.65,398.14 L725.75,398.14 L725.75,399.97 L726.65,399.97 L726.65,401.81 L725.75,401.81 L725.75,403.65 L726.65,403.65 L726.65,405.48 L725.75,405.48 L725.75,407.32 L726.65,407.32 L726.65,409.15 L725.75,409.15 L725.75,410.99 L726.65,410.99 L726.65,412.82 L725.75,412.82 L725.75,414.66 L726.65,414.66 L726.65,416.50 L725.75,416.50 L725.75,418.33 L726.65,418.33 L726.65,420.17 L725.75,420.17 L725.75,422.00 L726.65,422.00 L726.65,423.84 L725.75,423.84 L725.75,425.68 L726.65,425.68 L726.65,427.51 L725.75,427.51 L725.75,429.35 L726.65,429.35 L726.65,431.18 L725.75,431.18 L725.75,433.02 L726.65,433.02 L726.65,434.85 L725.75,434.85 L725.75,436.69 L726.65,436.69 L726.65,438.53 L725.75,438.53 L725.75,440.36 L726.65,440.36 L726.65,442.20 L725.75,442.20 L725.75,444.03 L726.65,444.03 L726.65,445.87 L725.75,445.87 L725.75,447.71 L726.65,447.71 L726.65,449.54 L725.75,449.54 L725.75,451.38 L726.65,451.38 L726.65,453.21 L725.75,453.21 L725.75,455.05 L726.65,455.05 L726.65,456.88 L725.75,456.88 L725.75,458.72 L726.65,458.72 L726.65,460.56 L725.75,460.56 L725.75,462.39 L726.65,462.39 L726.65,464.23 L725.75,464.23 L725.75,466.06 L726.65,466.06 L726.65,467.90 L726.20,467.45 L727.85,467.45 L727.85,468.35 L729.50,468.35 L729.50,467.45 L731.15,467.45 L731.15,468.35 L732.80,468.35" fill="none" stroke="#0f8282" stroke-width="1.35" stroke-linejoin="miter"/>
<rect x="571.3000000000001" y="394.90000000000003" width="44.3" height="14.399999999999967" fill="#fff" stroke="#111" stroke-width="1.25" />
<text x="572.5" y="406.59999999999997" font-size="12.4" fill="#202030" text-anchor="start" textLength="41.5" lengthAdjust="spacingAndGlyphs" >sygnały</text>
<rect x="571.3000000000001" y="410.6" width="76.49999999999993" height="73.99999999999999" fill="#fff" stroke="#111" stroke-width="1.25" />
<rect x="571.7" y="411" width="75.69999999999993" height="9.6" fill="#fcf9cc" stroke="none" stroke-width="1" />
<path d="M574.7,413.80000000000007 Q574.9000000000001,412.30000000000007 576.2,412.30000000000007 Q577.6,412.40000000000003 577.4000000000001,414.1 Q577.2,415.20000000000005 576.4000000000001,415.70000000000005 L576.4000000000001,416.80000000000007" fill="none" stroke="#111" stroke-width="1.25"/>
<rect x="575.8000000000001" y="417.50000000000006" width="1.3" height="1.1" fill="#111"/>
<rect x="578.2" y="412.20000000000005" width="2.2" height="4.7" fill="#111"/>
<rect x="578.4000000000001" y="417.50000000000006" width="1.8" height="1.1" fill="#111"/>
<path d="M639.5999999999999,413.80000000000007 Q639.8,412.30000000000007 641.0999999999999,412.30000000000007 Q642.4999999999999,412.40000000000003 642.3,414.1 Q642.0999999999999,415.20000000000005 641.3,415.70000000000005 L641.3,416.80000000000007" fill="none" stroke="#111" stroke-width="1.25"/>
<rect x="640.6999999999999" y="417.50000000000006" width="1.3" height="1.1" fill="#111"/>
<rect x="643.0999999999999" y="412.20000000000005" width="2.2" height="4.7" fill="#111"/>
<rect x="643.3" y="417.50000000000006" width="1.8" height="1.1" fill="#111"/>
<rect x="584.5" y="412.6" width="50.09999999999993" height="5" fill="#a03a08" stroke="none" stroke-width="1" />
<rect x="570.7" y="420.0" width="77.69999999999993" height="1.1" fill="#333" stroke="none" stroke-width="1" />
<text x="608.55" y="431.9" font-size="12.4" fill="#202030" text-anchor="middle" textLength="53" lengthAdjust="spacingAndGlyphs" >Get Image</text>
<rect x="570.7" y="435.7" width="77.69999999999993" height="1.1" fill="#333" stroke="none" stroke-width="1" />
<rect x="571.7" y="436.8" width="75.69999999999993" height="15.500000000000023" fill="#e8e8e8" stroke="none" stroke-width="1" />
<path d="M572.2,442.3 L574.62,444.5 L572.2,446.7 Z" fill="#000"/>
<text x="576.2" y="448.5" font-size="12.4" fill="#2f2fff" text-anchor="start" textLength="64" lengthAdjust="spacingAndGlyphs" >image depth</text>
<rect x="570.7" y="452.3" width="77.69999999999993" height="1.1" fill="#333" stroke="none" stroke-width="1" />
<rect x="571.7" y="453.40000000000003" width="75.69999999999993" height="15.499999999999966" fill="#e8e8e8" stroke="none" stroke-width="1" />
<path d="M573.7,458.90000000000003 L576.12,461.1 L573.7,463.3 Z" fill="#000"/>
<text x="608.55" y="465.09999999999997" font-size="12.4" fill="#2f2fff" text-anchor="middle" textLength="40" lengthAdjust="spacingAndGlyphs" >bg color</text>
<rect x="570.7" y="468.9" width="77.69999999999993" height="1.1" fill="#333" stroke="none" stroke-width="1" />
<rect x="571.7" y="470.0" width="75.69999999999993" height="14.700000000000012" fill="#e8e8e8" stroke="none" stroke-width="1" />
<path d="M643.4,475.09999999999997 L645.8199999999999,477.29999999999995 L643.4,479.49999999999994 Z" fill="#000"/>
<text x="607.55" y="480.9" font-size="12.4" fill="#ff00ff" text-anchor="middle" textLength="56.5" lengthAdjust="spacingAndGlyphs" >image data</text>
<rect x="684.1" y="440.59999999999997" width="23.99999999999998" height="15.400000000000011" fill="#fff" stroke="#2f2fff" stroke-width="2.4" />
<text x="686.5" y="452.7" font-size="12.4" fill="#202030" text-anchor="start" textLength="18.5" lengthAdjust="spacingAndGlyphs" >100</text>
<path d="M709.3,448.3 L754.4,448.3 L754.4,463.6" fill="none" stroke="#2f2fff" stroke-width="1.3" />
<path d="M717.6,448.3 L717.6,560.7 L754.4,560.7 L754.4,577" fill="none" stroke="#2f2fff" stroke-width="1.3" />
<circle cx="717.6" cy="448.3" r="2.3" fill="#2f2fff"/>
<rect x="648.4" y="475.2" width="84.39999999999998" height="4" fill="#ff00ff" stroke="none" stroke-width="1" />
<path d="M648.4,477.2 L732.8,477.2" fill="none" stroke="#fff" stroke-width="1.4" stroke-dasharray="1.3,1.4"/>
<g transform="translate(732.8,463.6) scale(1.0058,0.9971)">
<rect x="0.6" y="0.6" width="33" height="33.3" fill="#fff" stroke="#333" stroke-width="1.2"/>
<rect x="2.2" y="2.7" width="3.8" height="29.6" fill="#111"/>
<rect x="2.9" y="6.5" width="2.4" height="2.2" fill="#700" rx="0.6"/>
<rect x="2.9" y="9.8" width="2.4" height="2.2" fill="#e00" rx="0.6"/>
<rect x="2.9" y="13.0" width="2.4" height="2.2" fill="#f00" rx="0.6"/>
<rect x="2.9" y="16.299999999999997" width="2.4" height="2.2" fill="#f50" rx="0.6"/>
<rect x="2.9" y="19.5" width="2.4" height="2.2" fill="#fc0" rx="0.6"/>
<rect x="2.9" y="22.799999999999997" width="2.4" height="2.2" fill="#ff0" rx="0.6"/>
<rect x="2.9" y="26.299999999999997" width="2.4" height="2.2" fill="#ffd" rx="0.6"/>
<rect x="2.9" y="29.599999999999998" width="2.4" height="2.2" fill="#fff" rx="0.6"/>
<text x="12.5" y="10.9" font-size="8.8" fill="#111" textLength="20" lengthAdjust="spacingAndGlyphs">JPEG</text>
<path d="M11.4,18.2 L14.5,18.2" stroke="#111" stroke-width="1.1"/><path d="M13.8,16 L16.8,18.2 L13.8,20.4 Z" fill="#111"/>
<path d="M21.8,14.7 L28.8,14.7 L31.8,17.7 L31.8,27.3 L21.8,27.3 Z M28.8,14.7 L28.8,17.7 L31.8,17.7" fill="#fff" stroke="#333" stroke-width="1.2"/>
<path d="M18.8,0.6 L24.2,0.6 L21.5,3.5 Z" fill="#777"/>
</g>
<g transform="translate(667.6,483.7) scale(0.9884,0.9884)">
<rect x="0.55" y="0.55" width="33.4" height="33.4" fill="#faf6c6" stroke="#111" stroke-width="1.2"/>
<rect x="14.1" y="2.7" width="7.4" height="29.4" fill="#faf6c6" stroke="#1a1a1a" stroke-width="1"/>
<rect x="14.1" y="25.2" width="7.4" height="6.9" fill="url(#hat)" stroke="#1a1a1a" stroke-width="1"/>
<rect x="2.1" y="25.5" width="7.2" height="6.6" fill="url(#hat)" stroke="#1a1a1a" stroke-width="1"/>
<path d="M9.3,28.9 L14,28.9 M9,8.3 L14,8.3 M21.5,16 L25,16" stroke="#111" stroke-width="1"/>
<path d="M11,26.6 L13.6,28.9 L11,31.2 Z M11,6 L13.6,8.3 L11,10.6 Z M23,13.7 L25.6,16 L23,18.3 Z" fill="#111"/>
<path d="M4,7.5 Q7.5,8.5 8,11.3 Q7.5,14.5 4,15.5" fill="none" stroke="#111" stroke-width="0.9"/>
<path d="M26.4,12 L31,16 M26.4,19.5 L31,16.3 M26.4,21 L31,24.5" fill="none" stroke="#111" stroke-width="0.9"/>
<rect x="2.5" y="6.300000000000001" width="2.5" height="2.2" fill="#faf6c6" stroke="#111" stroke-width="0.9"/>
<rect x="7.0" y="10.4" width="2.5" height="2.2" fill="#faf6c6" stroke="#111" stroke-width="0.9"/>
<rect x="2.5" y="15.3" width="2.5" height="2.2" fill="#faf6c6" stroke="#111" stroke-width="0.9"/>
<rect x="25.599999999999998" y="10.700000000000001" width="2.5" height="2.2" fill="#faf6c6" stroke="#111" stroke-width="0.9"/>
<rect x="30.099999999999998" y="15.4" width="2.5" height="2.2" fill="#faf6c6" stroke="#111" stroke-width="0.9"/>
<rect x="25.599999999999998" y="19.599999999999998" width="2.5" height="2.2" fill="#faf6c6" stroke="#111" stroke-width="0.9"/>
<rect x="29.7" y="23.3" width="2.8" height="2.6" fill="#111"/>
</g>
<rect x="603.6" y="501.2" width="55.40000000000007" height="14.800000000000045" fill="#fff" stroke="#0f8282" stroke-width="2.4" />
<path d="M607.3,506.5 L607.3,512.2 L608.8,512.2" fill="none" stroke="#222" stroke-width="1"/>
<rect x="606.0" y="504" width="2.6" height="2.6" fill="#fff" stroke="#222" stroke-width="1" />
<rect x="609.0" y="511" width="2.6" height="2.6" fill="#fff" stroke="#222" stroke-width="1" />
<text x="614.0" y="512.9000000000001" font-size="12.4" fill="#202030" text-anchor="start" textLength="41.200000000000045" lengthAdjust="spacingAndGlyphs" >teta.jpg</text>
<path d="M660.20,508.45 L662.05,508.45 L662.05,509.35 L663.90,509.35 L663.90,508.45 L665.75,508.45 L665.75,509.35 L667.60,509.35" fill="none" stroke="#0f8282" stroke-width="1.35" stroke-linejoin="miter"/>
<path d="M701.70,498.05 L703.78,498.05 L703.78,498.95 L705.85,498.95 L705.85,498.05 L707.92,498.05 L707.92,498.95 L710.00,498.95 L710.45,498.50 L710.45,500.33 L709.55,500.33 L709.55,502.17 L710.45,502.17 L710.45,504.00 L709.55,504.00 L709.55,505.83 L710.45,505.83 L710.45,507.67 L709.55,507.67 L709.55,509.50 L710.45,509.50 L710.45,511.33 L709.55,511.33 L709.55,513.17 L710.45,513.17 L710.45,515.00 L709.55,515.00 L709.55,516.83 L710.45,516.83 L710.45,518.67 L709.55,518.67 L709.55,520.50 L710.45,520.50 L710.45,522.33 L709.55,522.33 L709.55,524.17 L710.45,524.17 L710.45,526.00 L709.55,526.00 L709.55,527.83 L710.45,527.83 L710.45,529.67 L709.55,529.67 L709.55,531.50 L710.45,531.50 L710.45,533.33 L709.55,533.33 L709.55,535.17 L710.45,535.17 L710.45,537.00 L709.55,537.00 L709.55,538.83 L710.45,538.83 L710.45,540.67 L709.55,540.67 L709.55,542.50 L710.45,542.50 L710.45,544.33 L709.55,544.33 L709.55,546.17 L710.45,546.17 L710.45,548.00 L709.55,548.00 L709.55,549.83 L710.45,549.83 L710.45,551.67 L709.55,551.67 L709.55,553.50 L710.45,553.50 L710.45,555.33 L709.55,555.33 L709.55,557.17 L710.45,557.17 L710.45,559.00 L709.55,559.00 L709.55,560.83 L710.45,560.83 L710.45,562.67 L709.55,562.67 L709.55,564.50 L710.45,564.50 L710.45,566.33 L709.55,566.33 L709.55,568.17 L710.45,568.17 L710.45,570.00 L709.55,570.00 L709.55,571.83 L710.45,571.83 L710.45,573.67 L709.55,573.67 L709.55,575.50 L710.45,575.50 L710.45,577.33 L709.55,577.33 L709.55,579.17 L710.45,579.17 L710.45,581.00 L710.00,580.55 L711.90,580.55 L711.90,581.45 L713.80,581.45 L713.80,580.55 L715.70,580.55 L715.70,581.45 L717.60,581.45 L717.60,580.55 L719.50,580.55 L719.50,581.45 L721.40,581.45 L721.40,580.55 L723.30,580.55 L723.30,581.45 L725.20,581.45 L725.20,580.55 L727.10,580.55 L727.10,581.45 L729.00,581.45 L729.00,580.55 L730.90,580.55 L730.90,581.45 L732.80,581.45" fill="none" stroke="#0f8282" stroke-width="1.35" stroke-linejoin="miter"/>
<rect x="571.3000000000001" y="508.0" width="24.89999999999991" height="14.600000000000069" fill="#fff" stroke="#111" stroke-width="1.25" />
<text x="572.5" y="519.9000000000001" font-size="12.4" fill="#202030" text-anchor="start" textLength="21.5" lengthAdjust="spacingAndGlyphs" >teta</text>
<rect x="571.3000000000001" y="524.0" width="76.49999999999993" height="74.69999999999997" fill="#fff" stroke="#111" stroke-width="1.25" />
<rect x="571.7" y="524.4" width="75.69999999999993" height="9.6" fill="#fcf9cc" stroke="none" stroke-width="1" />
<path d="M574.7,527.2 Q574.9000000000001,525.7 576.2,525.7 Q577.6,525.8000000000001 577.4000000000001,527.5 Q577.2,528.6 576.4000000000001,529.1 L576.4000000000001,530.2" fill="none" stroke="#111" stroke-width="1.25"/>
<rect x="575.8000000000001" y="530.9" width="1.3" height="1.1" fill="#111"/>
<rect x="578.2" y="525.6" width="2.2" height="4.7" fill="#111"/>
<rect x="578.4000000000001" y="530.9" width="1.8" height="1.1" fill="#111"/>
<path d="M639.5999999999999,527.2 Q639.8,525.7 641.0999999999999,525.7 Q642.4999999999999,525.8000000000001 642.3,527.5 Q642.0999999999999,528.6 641.3,529.1 L641.3,530.2" fill="none" stroke="#111" stroke-width="1.25"/>
<rect x="640.6999999999999" y="530.9" width="1.3" height="1.1" fill="#111"/>
<rect x="643.0999999999999" y="525.6" width="2.2" height="4.7" fill="#111"/>
<rect x="643.3" y="530.9" width="1.8" height="1.1" fill="#111"/>
<rect x="584.5" y="526.0" width="50.09999999999993" height="5" fill="#a03a08" stroke="none" stroke-width="1" />
<rect x="570.7" y="533.5" width="77.69999999999993" height="1.1" fill="#333" stroke="none" stroke-width="1" />
<text x="608.55" y="546.1" font-size="12.4" fill="#202030" text-anchor="middle" textLength="53" lengthAdjust="spacingAndGlyphs" >Get Image</text>
<rect x="570.7" y="549.9" width="77.69999999999993" height="1.1" fill="#333" stroke="none" stroke-width="1" />
<rect x="571.7" y="551.0" width="75.69999999999993" height="15.200000000000069" fill="#e8e8e8" stroke="none" stroke-width="1" />
<path d="M572.2,556.3499999999999 L574.62,558.55 L572.2,560.75 Z" fill="#000"/>
<text x="576.2" y="562.4000000000001" font-size="12.4" fill="#2f2fff" text-anchor="start" textLength="64" lengthAdjust="spacingAndGlyphs" >image depth</text>
<rect x="570.7" y="566.2" width="77.69999999999993" height="1.1" fill="#333" stroke="none" stroke-width="1" />
<rect x="571.7" y="567.3000000000001" width="75.69999999999993" height="15.199999999999955" fill="#e8e8e8" stroke="none" stroke-width="1" />
<path d="M573.7,572.65 L576.12,574.85 L573.7,577.0500000000001 Z" fill="#000"/>
<text x="608.55" y="578.7" font-size="12.4" fill="#2f2fff" text-anchor="middle" textLength="40" lengthAdjust="spacingAndGlyphs" >bg color</text>
<rect x="570.7" y="582.5" width="77.69999999999993" height="1.1" fill="#333" stroke="none" stroke-width="1" />
<rect x="571.7" y="583.6" width="75.69999999999993" height="15.199999999999955" fill="#e8e8e8" stroke="none" stroke-width="1" />
<path d="M643.4,588.9499999999999 L645.8199999999999,591.15 L643.4,593.35 Z" fill="#000"/>
<text x="607.55" y="595.0" font-size="12.4" fill="#ff00ff" text-anchor="middle" textLength="56.5" lengthAdjust="spacingAndGlyphs" >image data</text>
<rect x="648.4" y="587.8" width="84.39999999999998" height="4" fill="#ff00ff" stroke="none" stroke-width="1" />
<path d="M648.4,589.8 L732.8,589.8" fill="none" stroke="#fff" stroke-width="1.4" stroke-dasharray="1.3,1.4"/>
<g transform="translate(732.8,577) scale(1.0058,0.9855)">
<rect x="0.6" y="0.6" width="33" height="33.3" fill="#fff" stroke="#333" stroke-width="1.2"/>
<rect x="2.2" y="2.7" width="3.8" height="29.6" fill="#111"/>
<rect x="2.9" y="6.5" width="2.4" height="2.2" fill="#700" rx="0.6"/>
<rect x="2.9" y="9.8" width="2.4" height="2.2" fill="#e00" rx="0.6"/>
<rect x="2.9" y="13.0" width="2.4" height="2.2" fill="#f00" rx="0.6"/>
<rect x="2.9" y="16.299999999999997" width="2.4" height="2.2" fill="#f50" rx="0.6"/>
<rect x="2.9" y="19.5" width="2.4" height="2.2" fill="#fc0" rx="0.6"/>
<rect x="2.9" y="22.799999999999997" width="2.4" height="2.2" fill="#ff0" rx="0.6"/>
<rect x="2.9" y="26.299999999999997" width="2.4" height="2.2" fill="#ffd" rx="0.6"/>
<rect x="2.9" y="29.599999999999998" width="2.4" height="2.2" fill="#fff" rx="0.6"/>
<text x="12.5" y="10.9" font-size="8.8" fill="#111" textLength="20" lengthAdjust="spacingAndGlyphs">JPEG</text>
<path d="M11.4,18.2 L14.5,18.2" stroke="#111" stroke-width="1.1"/><path d="M13.8,16 L16.8,18.2 L13.8,20.4 Z" fill="#111"/>
<path d="M21.8,14.7 L28.8,14.7 L31.8,17.7 L31.8,27.3 L21.8,27.3 Z M28.8,14.7 L28.8,17.7 L31.8,17.7" fill="#fff" stroke="#333" stroke-width="1.2"/>
<path d="M18.8,0.6 L24.2,0.6 L21.5,3.5 Z" fill="#777"/>
</g>
<rect x="573.9" y="634.4" width="26.000000000000046" height="12.600000000000069" fill="#fff" stroke="#008000" stroke-width="2.2" />
<rect x="575.5999999999999" y="636.0999999999999" width="22.600000000000044" height="9.200000000000069" fill="none" stroke="#a8d8a8" stroke-width="0.8" />
<rect x="586.8" y="637.0" width="10.5" height="7.200000000000069" fill="#008000" stroke="none" stroke-width="1" rx="0.8"/>
<path d="M594.8,638.5 L590.5,638.5 L590.5,644.3000000000001 M590.5,641.1999999999999 L593.8,641.1999999999999" fill="none" stroke="#fff" stroke-width="1.6"/>
<path d="M579.0,638.0999999999999 l2.4,2.2 l-2.4,2.2 l2.4,2.2 M581.6,638.0999999999999 l-2.4,2.2" fill="none" stroke="#008000" stroke-width="1" stroke-dasharray="1,0.6"/>
<circle cx="584.0" cy="638.6999999999999" r="0.8" fill="#008000"/>
<path d="M601,640.7 L619.6,640.7" fill="none" stroke="#008000" stroke-width="1.2" stroke-dasharray="1.2,1.3"/>
<path d="M610.7,640.7 L610.7,656 L680.4,656 L680.4,640.7 L695.2,640.7" fill="none" stroke="#008000" stroke-width="1.2" stroke-dasharray="1.2,1.3"/>
<circle cx="610.7" cy="640.7" r="2.3" fill="#fff" stroke="#008000" stroke-width="1.2"/><circle cx="610.7" cy="640.7" r="0.8" fill="#008000"/>
<rect x="620.2" y="607.9" width="44.8" height="14.8" fill="#fff" stroke="#111" stroke-width="1.25" />
<text x="621.4" y="620.0" font-size="12.4" fill="#202030" text-anchor="start" textLength="41.5" lengthAdjust="spacingAndGlyphs" >sygnały</text>
<rect x="620.2" y="624.2" width="48.199999999999974" height="25.199999999999978" fill="#fff" stroke="#111" stroke-width="1.25" />
<rect x="620.6" y="624.6" width="47.39999999999998" height="9.6" fill="#fcf9cc" stroke="none" stroke-width="1" />
<path d="M623.6,627.4000000000001 Q623.8000000000001,625.9000000000001 625.1,625.9000000000001 Q626.5,626.0000000000001 626.3000000000001,627.7 Q626.1,628.8000000000001 625.3000000000001,629.3000000000001 L625.3000000000001,630.4000000000001" fill="none" stroke="#111" stroke-width="1.25"/>
<rect x="624.7" y="631.1" width="1.3" height="1.1" fill="#111"/>
<rect x="627.1" y="625.8000000000001" width="2.2" height="4.7" fill="#111"/>
<rect x="627.3000000000001" y="631.1" width="1.8" height="1.1" fill="#111"/>
<path d="M660.1999999999999,627.4000000000001 Q660.4,625.9000000000001 661.6999999999999,625.9000000000001 Q663.0999999999999,626.0000000000001 662.9,627.7 Q662.6999999999999,628.8000000000001 661.9,629.3000000000001 L661.9,630.4000000000001" fill="none" stroke="#111" stroke-width="1.25"/>
<rect x="661.3" y="631.1" width="1.3" height="1.1" fill="#111"/>
<rect x="663.6999999999999" y="625.8000000000001" width="2.2" height="4.7" fill="#111"/>
<rect x="663.9" y="631.1" width="1.8" height="1.1" fill="#111"/>
<rect x="633.4" y="626.2" width="21.799999999999976" height="5" fill="#a03a08" stroke="none" stroke-width="1" />
<rect x="619.6" y="634.1" width="49.39999999999998" height="1.1" fill="#1e1e1e" stroke="none" stroke-width="1" />
<path d="M621.4,639.7500000000001 L624.48,642.5500000000001 L621.4,645.35 Z" fill="#000"/>
<text x="625.5" y="646.3" font-size="12.4" fill="#2b8a38" text-anchor="start" textLength="41.5" lengthAdjust="spacingAndGlyphs" >ScrollVis</text>
<rect x="695.8000000000001" y="607.9" width="24.89999999999991" height="14.8" fill="#fff" stroke="#111" stroke-width="1.25" />
<text x="697.0" y="620.0" font-size="12.4" fill="#202030" text-anchor="start" textLength="21.5" lengthAdjust="spacingAndGlyphs" >teta</text>
<rect x="695.8000000000001" y="624.2" width="47.59999999999995" height="25.199999999999978" fill="#fff" stroke="#111" stroke-width="1.25" />
<rect x="696.2" y="624.6" width="46.799999999999955" height="9.6" fill="#fcf9cc" stroke="none" stroke-width="1" />
<path d="M699.2,627.4000000000001 Q699.4000000000001,625.9000000000001 700.7,625.9000000000001 Q702.1,626.0000000000001 701.9000000000001,627.7 Q701.7,628.8000000000001 700.9000000000001,629.3000000000001 L700.9000000000001,630.4000000000001" fill="none" stroke="#111" stroke-width="1.25"/>
<rect x="700.3000000000001" y="631.1" width="1.3" height="1.1" fill="#111"/>
<rect x="702.7" y="625.8000000000001" width="2.2" height="4.7" fill="#111"/>
<rect x="702.9000000000001" y="631.1" width="1.8" height="1.1" fill="#111"/>
<path d="M735.1999999999999,627.4000000000001 Q735.4,625.9000000000001 736.6999999999999,625.9000000000001 Q738.0999999999999,626.0000000000001 737.9,627.7 Q737.6999999999999,628.8000000000001 736.9,629.3000000000001 L736.9,630.4000000000001" fill="none" stroke="#111" stroke-width="1.25"/>
<rect x="736.3" y="631.1" width="1.3" height="1.1" fill="#111"/>
<rect x="738.6999999999999" y="625.8000000000001" width="2.2" height="4.7" fill="#111"/>
<rect x="738.9" y="631.1" width="1.8" height="1.1" fill="#111"/>
<rect x="709.0" y="626.2" width="21.199999999999953" height="5" fill="#a03a08" stroke="none" stroke-width="1" />
<rect x="695.2" y="634.1" width="48.799999999999955" height="1.1" fill="#1e1e1e" stroke="none" stroke-width="1" />
<path d="M697.0,639.7500000000001 L700.08,642.5500000000001 L697.0,645.35 Z" fill="#000"/>
<text x="701" y="646.3" font-size="12.4" fill="#2b8a38" text-anchor="start" textLength="41.5" lengthAdjust="spacingAndGlyphs" >ScrollVis</text>
<rect x="657.3" y="663.9" width="97.70000000000005" height="14.5" fill="#fff" stroke="#ff00ff" stroke-width="3" />
<rect x="655.8" y="662.4" width="4.4" height="17.5" fill="#ff00ff" stroke="none" stroke-width="1" />
<text x="660.6" y="675.1" font-size="12.4" fill="#202030" text-anchor="start" textLength="90.5" lengthAdjust="spacingAndGlyphs" >Zapis zakończony</text>
<path d="M756.50,670.20 L759.02,670.20 L759.02,671.80 L761.53,671.80 L761.53,670.20 L764.05,670.20 L764.05,671.80 L766.56,671.80 L766.56,670.20 L769.08,670.20 L769.08,671.80 L771.59,671.80 L771.59,670.20 L774.11,670.20 L774.11,671.80 L776.62,671.80 L776.62,670.20 L779.14,670.20 L779.14,671.80 L781.65,671.80 L781.65,670.20 L784.17,670.20 L784.17,671.80 L786.68,671.80 L786.68,670.20 L789.20,670.20" fill="none" stroke="#ff00ff" stroke-width="1.35" stroke-linejoin="miter"/>
<rect x="769.3" y="666.5" width="9.4" height="9" fill="#ff00ff" stroke="#222" stroke-width="0.8" />
<rect x="790.4000000000001" y="662.7" width="33.299999999999976" height="33.9" fill="#111" stroke="none" stroke-width="1" />
<rect x="789.7" y="662.0" width="32.299999999999976" height="32.9" fill="#f8f4c8" stroke="#222" stroke-width="1" />
<rect x="791.1" y="663.6" width="17.5" height="15.7" fill="#111" stroke="none" stroke-width="1" />
<rect x="792.8000000000001" y="665.0" width="4.8" height="13" fill="#f8f4c8" stroke="none" stroke-width="1" />
<rect x="794.0" y="666.5" width="1.3" height="1.5" fill="#333" stroke="none" stroke-width="1" />
<path d="M796.7,672.0 l1.8,0 l0,1.6 l-1.8,0 M796.7,675.1 l1.8,0" fill="none" stroke="#111" stroke-width="1"/>
<path d="M800.7,676.6 L802.4000000000001,674.1 Q799.7,671.5 800.5,669.0 Q801.7,666.0 804.7,666.1 Q807.6,666.5 807.3000000000001,669.8 Q807.0,673.0 804.2,676.6 Z" fill="#f8f4c8"/>
<path d="M811.5,666.8 L821.0,666.8" stroke="#222" stroke-width="1.3" stroke-dasharray="4,1,3"/>
<path d="M810.0,670.2 L821.0,670.2" stroke="#222" stroke-width="1.3" stroke-dasharray="2,1,1,1,4"/>
<path d="M810.0,673.7 L821.0,673.7" stroke="#222" stroke-width="1.3" stroke-dasharray="1.5,1,1.5,1,5"/>
<path d="M810.0,676.9 L821.0,676.9" stroke="#222" stroke-width="1.3" stroke-dasharray="2.5,1,4,1"/>
<rect x="796.0" y="682.4" width="19" height="8.8" fill="#f8f4c8" stroke="#333" stroke-width="1.2" rx="1.8"/>
<path d="M787.4,92.5 L787.4,110 L793.4,110 L793.4,598.3 L1012.5,598.3" fill="none" stroke="#ff8000" stroke-width="2" stroke-linejoin="miter"/>
<path d="M808,92.5 L807.8,547.8 L1012.5,547.8" fill="none" stroke="#ff8000" stroke-width="2" stroke-linejoin="miter"/>
<path d="M828.7,92.5 L828.7,110 L820.8,110 L820.8,498 L1012.5,498" fill="none" stroke="#ff8000" stroke-width="2" stroke-linejoin="miter"/>
<path d="M853,92.5 L853,103.8 L843.3,103.8 L843.3,447.7 L1012.5,447.7" fill="none" stroke="#ff8000" stroke-width="2" stroke-linejoin="miter"/>
<path d="M874.7,92.5 L874.7,108 L860,108 L860,397.8 L1012.5,397.8" fill="none" stroke="#ff8000" stroke-width="2" stroke-linejoin="miter"/>
<path d="M896.3,92.5 L896.3,117.7 L876,117.7 L876,347 L1012.5,347" fill="none" stroke="#ff8000" stroke-width="2" stroke-linejoin="miter"/>
<path d="M918,92.5 L918,125.9 L892.5,125.9 L892.5,297.5 L1012.5,297.5" fill="none" stroke="#ff8000" stroke-width="2" stroke-linejoin="miter"/>
<rect x="781.0" y="79.6" width="13.2" height="12.6" fill="#fff8c8" stroke="#ff8000" stroke-width="1.2" />
<path d="M786.0,82.3 L788.8,82.3 L788.8,85.3 L791.1999999999999,85.3 L787.4,89.2 L783.6,85.3 L786.0,85.3 Z" fill="#ff8000"/>
<rect x="788.9" y="133" width="9" height="8.6" fill="#ff8000" stroke="#222" stroke-width="0.9" />
<rect x="801.6" y="79.6" width="13.2" height="12.6" fill="#fff8c8" stroke="#ff8000" stroke-width="1.2" />
<path d="M806.6,82.3 L809.4,82.3 L809.4,85.3 L811.8,85.3 L808,89.2 L804.2,85.3 L806.6,85.3 Z" fill="#ff8000"/>
<rect x="803.3" y="133" width="9" height="8.6" fill="#ff8000" stroke="#222" stroke-width="0.9" />
<rect x="822.5" y="79.6" width="13.2" height="12.6" fill="#fff8c8" stroke="#ff8000" stroke-width="1.2" />
<path d="M827.5,82.3 L830.3,82.3 L830.3,85.3 L832.6999999999999,85.3 L828.9,89.2 L825.1,85.3 L827.5,85.3 Z" fill="#ff8000"/>
<rect x="816.3" y="133" width="9" height="8.6" fill="#ff8000" stroke="#222" stroke-width="0.9" />
<rect x="846.6" y="79.6" width="13.2" height="12.6" fill="#fff8c8" stroke="#ff8000" stroke-width="1.2" />
<path d="M851.6,82.3 L854.4,82.3 L854.4,85.3 L856.8,85.3 L853,89.2 L849.2,85.3 L851.6,85.3 Z" fill="#ff8000"/>
<rect x="838.8" y="133" width="9" height="8.6" fill="#ff8000" stroke="#222" stroke-width="0.9" />
<rect x="868.4" y="79.6" width="13.2" height="12.6" fill="#fff8c8" stroke="#ff8000" stroke-width="1.2" />
<path d="M873.4,82.3 L876.1999999999999,82.3 L876.1999999999999,85.3 L878.5999999999999,85.3 L874.8,89.2 L871.0,85.3 L873.4,85.3 Z" fill="#ff8000"/>
<rect x="855.5" y="133" width="9" height="8.6" fill="#ff8000" stroke="#222" stroke-width="0.9" />
<rect x="890.0" y="79.6" width="13.2" height="12.6" fill="#fff8c8" stroke="#ff8000" stroke-width="1.2" />
<path d="M895.0,82.3 L897.8,82.3 L897.8,85.3 L900.1999999999999,85.3 L896.4,89.2 L892.6,85.3 L895.0,85.3 Z" fill="#ff8000"/>
<rect x="871.5" y="133" width="9" height="8.6" fill="#ff8000" stroke="#222" stroke-width="0.9" />
<rect x="911.6" y="79.6" width="13.2" height="12.6" fill="#fff8c8" stroke="#ff8000" stroke-width="1.2" />
<path d="M916.6,82.3 L919.4,82.3 L919.4,85.3 L921.8,85.3 L918,89.2 L914.2,85.3 L916.6,85.3 Z" fill="#ff8000"/>
<rect x="888.0" y="133" width="9" height="8.6" fill="#ff8000" stroke="#222" stroke-width="0.9" />
<rect x="58.4" y="79.5" width="13" height="12.8" fill="#fff8c8" stroke="#2f2fff" stroke-width="1.3" />
<path d="M63.5,82.3 L66.3,82.3 L66.3,85.3 L68.7,85.3 L64.9,89.2 L61.1,85.3 L63.5,85.3 Z" fill="#2f2fff"/>
<path d="M633.30,266.35 L635.15,266.35 L635.15,267.25 L637.00,267.25 L637.00,266.35 L638.85,266.35 L638.85,267.25 L640.71,267.25 L640.71,266.35 L642.56,266.35 L642.56,267.25 L644.41,267.25 L644.41,266.35 L646.26,266.35 L646.26,267.25 L648.11,267.25 L648.11,266.35 L649.96,266.35 L649.96,267.25 L651.81,267.25 L651.81,266.35 L653.67,266.35 L653.67,267.25 L655.52,267.25 L655.52,266.35 L657.37,266.35 L657.37,267.25 L659.22,267.25 L659.22,266.35 L661.07,266.35 L661.07,267.25 L662.92,267.25 L662.92,266.35 L664.77,266.35 L664.77,267.25 L666.63,267.25 L666.63,266.35 L668.48,266.35 L668.48,267.25 L670.33,267.25 L670.33,266.35 L672.18,266.35 L672.18,267.25 L674.03,267.25 L674.03,266.35 L675.88,266.35 L675.88,267.25 L677.73,267.25 L677.73,266.35 L679.59,266.35 L679.59,267.25 L681.44,267.25 L681.44,266.35 L683.29,266.35 L683.29,267.25 L685.14,267.25 L685.14,266.35 L686.99,266.35 L686.99,267.25 L688.84,267.25 L688.84,266.35 L690.69,266.35 L690.69,267.25 L692.55,267.25 L692.55,266.35 L694.40,266.35 L694.40,267.25 L696.25,267.25 L696.25,266.35 L698.10,266.35 L698.10,267.25 L699.95,267.25 L699.95,266.35 L701.80,266.35 L701.80,267.25 L703.65,267.25 L703.65,266.35 L705.51,266.35 L705.51,267.25 L707.36,267.25 L707.36,266.35 L709.21,266.35 L709.21,267.25 L711.06,267.25 L711.06,266.35 L712.91,266.35 L712.91,267.25 L714.76,267.25 L714.76,266.35 L716.62,266.35 L716.62,267.25 L718.47,267.25 L718.47,266.35 L720.32,266.35 L720.32,267.25 L722.17,267.25 L722.17,266.35 L724.02,266.35 L724.02,267.25 L725.87,267.25 L725.87,266.35 L727.72,266.35 L727.72,267.25 L729.58,267.25 L729.58,266.35 L731.43,266.35 L731.43,267.25 L733.28,267.25 L733.28,266.35 L735.13,266.35 L735.13,267.25 L736.98,267.25 L736.98,266.35 L738.83,266.35 L738.83,267.25 L740.68,267.25 L740.68,266.35 L742.54,266.35 L742.54,267.25 L744.39,267.25 L744.39,266.35 L746.24,266.35 L746.24,267.25 L748.09,267.25 L748.09,266.35 L749.94,266.35 L749.94,267.25 L751.79,267.25 L751.79,266.35 L753.64,266.35 L753.64,267.25 L755.50,267.25 L755.50,266.35 L757.35,266.35 L757.35,267.25 L759.20,267.25 L759.20,266.35 L761.05,266.35 L761.05,267.25 L762.90,267.25 L762.90,266.35 L764.75,266.35 L764.75,267.25 L766.60,267.25 L766.60,266.35 L768.46,266.35 L768.46,267.25 L770.31,267.25 L770.31,266.35 L772.16,266.35 L772.16,267.25 L774.01,267.25 L774.01,266.35 L775.86,266.35 L775.86,267.25 L777.71,267.25 L777.71,266.35 L779.56,266.35 L779.56,267.25 L781.42,267.25 L781.42,266.35 L783.27,266.35 L783.27,267.25 L785.12,267.25 L785.12,266.35 L786.97,266.35 L786.97,267.25 L788.82,267.25 L788.82,266.35 L790.67,266.35 L790.67,267.25 L792.52,267.25 L792.52,266.35 L794.38,266.35 L794.38,267.25 L796.23,267.25 L796.23,266.35 L798.08,266.35 L798.08,267.25 L799.93,267.25 L799.93,266.35 L801.78,266.35 L801.78,267.25 L803.63,267.25 L803.63,266.35 L805.48,266.35 L805.48,267.25 L807.34,267.25 L807.34,266.35 L809.19,266.35 L809.19,267.25 L811.04,267.25 L811.04,266.35 L812.89,266.35 L812.89,267.25 L814.74,267.25 L814.74,266.35 L816.59,266.35 L816.59,267.25 L818.44,267.25 L818.44,266.35 L820.30,266.35 L820.30,267.25 L822.15,267.25 L822.15,266.35 L824.00,266.35 L824.00,267.25 L825.85,267.25 L825.85,266.35 L827.70,266.35 L827.70,267.25 L829.55,267.25 L829.55,266.35 L831.40,266.35 L831.40,267.25 L833.26,267.25 L833.26,266.35 L835.11,266.35 L835.11,267.25 L836.96,267.25 L836.96,266.35 L838.81,266.35 L838.81,267.25 L840.66,267.25 L840.66,266.35 L842.51,266.35 L842.51,267.25 L844.36,267.25 L844.36,266.35 L846.22,266.35 L846.22,267.25 L848.07,267.25 L848.07,266.35 L849.92,266.35 L849.92,267.25 L851.77,267.25 L851.77,266.35 L853.62,266.35 L853.62,267.25 L855.47,267.25 L855.47,266.35 L857.32,266.35 L857.32,267.25 L859.18,267.25 L859.18,266.35 L861.03,266.35 L861.03,267.25 L862.88,267.25 L862.88,266.35 L864.73,266.35 L864.73,267.25 L866.58,267.25 L866.58,266.35 L868.43,266.35 L868.43,267.25 L870.28,267.25 L870.28,266.35 L872.14,266.35 L872.14,267.25 L873.99,267.25 L873.99,266.35 L875.84,266.35 L875.84,267.25 L877.69,267.25 L877.69,266.35 L879.54,266.35 L879.54,267.25 L881.39,267.25 L881.39,266.35 L883.25,266.35 L883.25,267.25 L885.10,267.25 L885.10,266.35 L886.95,266.35 L886.95,267.25 L888.80,267.25 L888.80,266.35 L890.65,266.35 L890.65,267.25 L892.50,267.25 L892.50,266.35 L894.35,266.35 L894.35,267.25 L896.21,267.25 L896.21,266.35 L898.06,266.35 L898.06,267.25 L899.91,267.25 L899.91,266.35 L901.76,266.35 L901.76,267.25 L903.61,267.25 L903.61,266.35 L905.46,266.35 L905.46,267.25 L907.31,267.25 L907.31,266.35 L909.17,266.35 L909.17,267.25 L911.02,267.25 L911.02,266.35 L912.87,266.35 L912.87,267.25 L914.72,267.25 L914.72,266.35 L916.57,266.35 L916.57,267.25 L918.42,267.25 L918.42,266.35 L920.27,266.35 L920.27,267.25 L922.13,267.25 L922.13,266.35 L923.98,266.35 L923.98,267.25 L925.83,267.25 L925.83,266.35 L927.68,266.35 L927.68,267.25 L929.53,267.25 L929.53,266.35 L931.38,266.35 L931.38,267.25 L933.23,267.25 L933.23,266.35 L935.09,266.35 L935.09,267.25 L936.94,267.25 L936.94,266.35 L938.79,266.35 L938.79,267.25 L940.64,267.25 L940.64,266.35 L942.49,266.35 L942.49,267.25 L944.34,267.25 L944.34,266.35 L946.19,266.35 L946.19,267.25 L948.05,267.25 L948.05,266.35 L949.90,266.35 L949.90,267.25 L951.75,267.25 L951.75,266.35 L953.60,266.35" fill="none" stroke="#0f8282" stroke-width="1.35" stroke-linejoin="miter"/>
<path d="M954.05,266.80 L954.05,268.65 L953.15,268.65 L953.15,270.50 L954.05,270.50 L954.05,272.35 L953.15,272.35 L953.15,274.20 L954.05,274.20 L954.05,276.05 L953.15,276.05 L953.15,277.90 L954.05,277.90 L954.05,279.75 L953.15,279.75 L953.15,281.60 L954.05,281.60 L954.05,283.45 L953.15,283.45 L953.15,285.30 L954.05,285.30 L954.05,287.15 L953.15,287.15 L953.15,289.00 L954.05,289.00 L954.05,290.85 L953.15,290.85 L953.15,292.70 L954.05,292.70 L954.05,294.55 L953.15,294.55 L953.15,296.41 L954.05,296.41 L954.05,298.26 L953.15,298.26 L953.15,300.11 L954.05,300.11 L954.05,301.96 L953.15,301.96 L953.15,303.81 L954.05,303.81 L954.05,305.66 L953.15,305.66 L953.15,307.51 L954.05,307.51 L954.05,309.36 L953.15,309.36 L953.15,311.21 L954.05,311.21 L954.05,313.06 L953.15,313.06 L953.15,314.91 L954.05,314.91 L954.05,316.76 L953.15,316.76 L953.15,318.61 L954.05,318.61 L954.05,320.46 L953.15,320.46 L953.15,322.31 L954.05,322.31 L954.05,324.16 L953.15,324.16 L953.15,326.01 L954.05,326.01 L954.05,327.86 L953.15,327.86 L953.15,329.71 L954.05,329.71 L954.05,331.56 L953.15,331.56 L953.15,333.41 L954.05,333.41 L954.05,335.26 L953.15,335.26 L953.15,337.11 L954.05,337.11 L954.05,338.96 L953.15,338.96 L953.15,340.81 L954.05,340.81 L954.05,342.66 L953.15,342.66 L953.15,344.51 L954.05,344.51 L954.05,346.36 L953.15,346.36 L953.15,348.21 L954.05,348.21 L954.05,350.06 L953.15,350.06 L953.15,351.91 L954.05,351.91 L954.05,353.76 L953.15,353.76 L953.15,355.62 L954.05,355.62 L954.05,357.47 L953.15,357.47 L953.15,359.32 L954.05,359.32 L954.05,361.17 L953.15,361.17 L953.15,363.02 L954.05,363.02 L954.05,364.87 L953.15,364.87 L953.15,366.72 L954.05,366.72 L954.05,368.57 L953.15,368.57 L953.15,370.42 L954.05,370.42 L954.05,372.27 L953.15,372.27 L953.15,374.12 L954.05,374.12 L954.05,375.97 L953.15,375.97 L953.15,377.82 L954.05,377.82 L954.05,379.67 L953.15,379.67 L953.15,381.52 L954.05,381.52 L954.05,383.37 L953.15,383.37 L953.15,385.22 L954.05,385.22 L954.05,387.07 L953.15,387.07 L953.15,388.92 L954.05,388.92 L954.05,390.77 L953.15,390.77 L953.15,392.62 L954.05,392.62 L954.05,394.47 L953.15,394.47 L953.15,396.32 L954.05,396.32 L954.05,398.17 L953.15,398.17 L953.15,400.02 L954.05,400.02 L954.05,401.87 L953.15,401.87 L953.15,403.72 L954.05,403.72 L954.05,405.57 L953.15,405.57 L953.15,407.42 L954.05,407.42 L954.05,409.27 L953.15,409.27 L953.15,411.12 L954.05,411.12 L954.05,412.97 L953.15,412.97 L953.15,414.83 L954.05,414.83 L954.05,416.68 L953.15,416.68 L953.15,418.53 L954.05,418.53 L954.05,420.38 L953.15,420.38 L953.15,422.23 L954.05,422.23 L954.05,424.08 L953.15,424.08 L953.15,425.93 L954.05,425.93 L954.05,427.78 L953.15,427.78 L953.15,429.63 L954.05,429.63 L954.05,431.48 L953.15,431.48 L953.15,433.33 L954.05,433.33 L954.05,435.18 L953.15,435.18 L953.15,437.03 L954.05,437.03 L954.05,438.88 L953.15,438.88 L953.15,440.73 L954.05,440.73 L954.05,442.58 L953.15,442.58 L953.15,444.43 L954.05,444.43 L954.05,446.28 L953.15,446.28 L953.15,448.13 L954.05,448.13 L954.05,449.98 L953.15,449.98 L953.15,451.83 L954.05,451.83 L954.05,453.68 L953.15,453.68 L953.15,455.53 L954.05,455.53 L954.05,457.38 L953.15,457.38 L953.15,459.23 L954.05,459.23 L954.05,461.08 L953.15,461.08 L953.15,462.93 L954.05,462.93 L954.05,464.78 L953.15,464.78 L953.15,466.63 L954.05,466.63 L954.05,468.48 L953.15,468.48 L953.15,470.33 L954.05,470.33 L954.05,472.18 L953.15,472.18 L953.15,474.04 L954.05,474.04 L954.05,475.89 L953.15,475.89 L953.15,477.74 L954.05,477.74 L954.05,479.59 L953.15,479.59 L953.15,481.44 L954.05,481.44 L954.05,483.29 L953.15,483.29 L953.15,485.14 L954.05,485.14 L954.05,486.99 L953.15,486.99 L953.15,488.84 L954.05,488.84 L954.05,490.69 L953.15,490.69 L953.15,492.54 L954.05,492.54 L954.05,494.39 L953.15,494.39 L953.15,496.24 L954.05,496.24 L954.05,498.09 L953.15,498.09 L953.15,499.94 L954.05,499.94 L954.05,501.79 L953.15,501.79 L953.15,503.64 L954.05,503.64 L954.05,505.49 L953.15,505.49 L953.15,507.34 L954.05,507.34 L954.05,509.19 L953.15,509.19 L953.15,511.04 L954.05,511.04 L954.05,512.89 L953.15,512.89 L953.15,514.74 L954.05,514.74 L954.05,516.59 L953.15,516.59 L953.15,518.44 L954.05,518.44 L954.05,520.29 L953.15,520.29 L953.15,522.14 L954.05,522.14 L954.05,523.99 L953.15,523.99 L953.15,525.84 L954.05,525.84 L954.05,527.69 L953.15,527.69 L953.15,529.54 L954.05,529.54 L954.05,531.39 L953.15,531.39 L953.15,533.25 L954.05,533.25 L954.05,535.10 L953.15,535.10 L953.15,536.95 L954.05,536.95 L954.05,538.80 L953.15,538.80 L953.15,540.65 L954.05,540.65 L954.05,542.50 L953.15,542.50 L953.15,544.35 L954.05,544.35 L954.05,546.20 L953.15,546.20 L953.15,548.05 L954.05,548.05 L954.05,549.90 L953.15,549.90 L953.15,551.75 L954.05,551.75 L954.05,553.60 L953.15,553.60 L953.15,555.45 L954.05,555.45 L954.05,557.30 L953.15,557.30 L953.15,559.15 L954.05,559.15 L954.05,561.00" fill="none" stroke="#0f8282" stroke-width="1.35" stroke-linejoin="miter"/>
<path d="M953.60,266.45 L955.30,266.45 L955.30,267.35 L957.00,267.35 L957.00,266.45 L958.70,266.45 L958.70,267.35 L960.40,267.35" fill="none" stroke="#0f8282" stroke-width="1.35" stroke-linejoin="miter"/>
<rect x="903.9000000000001" y="277.2" width="39.399999999999956" height="15.200000000000022" fill="#fff" stroke="#0f8282" stroke-width="2.4" />
<path d="M907.6,282.5 L907.6,288.2 L909.1,288.2" fill="none" stroke="#222" stroke-width="1"/>
<rect x="906.3000000000001" y="280" width="2.6" height="2.6" fill="#fff" stroke="#222" stroke-width="1" />
<rect x="909.3000000000001" y="287" width="2.6" height="2.6" fill="#fff" stroke="#222" stroke-width="1" />
<text x="914.3000000000001" y="289.3" font-size="12.4" fill="#202030" text-anchor="start" textLength="25.199999999999932" lengthAdjust="spacingAndGlyphs" >u.txt</text>
<path d="M944.50,284.35 L946.27,284.35 L946.27,285.25 L948.03,285.25 L948.03,284.35 L949.80,284.35 L949.80,285.25 L951.57,285.25 L951.57,284.35 L953.33,284.35 L953.33,285.25 L955.10,285.25 L955.10,284.35 L956.87,284.35 L956.87,285.25 L958.63,285.25 L958.63,284.35 L960.40,284.35" fill="none" stroke="#0f8282" stroke-width="1.35" stroke-linejoin="miter"/>
<g transform="translate(960.4,258.6) scale(0.9855,0.9855)">
<rect x="0.55" y="0.55" width="33.4" height="33.4" fill="#faf6c6" stroke="#111" stroke-width="1.2"/>
<rect x="14.1" y="2.7" width="7.4" height="29.4" fill="#faf6c6" stroke="#1a1a1a" stroke-width="1"/>
<rect x="14.1" y="25.2" width="7.4" height="6.9" fill="url(#hat)" stroke="#1a1a1a" stroke-width="1"/>
<rect x="2.1" y="25.5" width="7.2" height="6.6" fill="url(#hat)" stroke="#1a1a1a" stroke-width="1"/>
<path d="M9.3,28.9 L14,28.9 M9,8.3 L14,8.3 M21.5,16 L25,16" stroke="#111" stroke-width="1"/>
<path d="M11,26.6 L13.6,28.9 L11,31.2 Z M11,6 L13.6,8.3 L11,10.6 Z M23,13.7 L25.6,16 L23,18.3 Z" fill="#111"/>
<path d="M4,7.5 Q7.5,8.5 8,11.3 Q7.5,14.5 4,15.5" fill="none" stroke="#111" stroke-width="0.9"/>
<path d="M26.4,12 L31,16 M26.4,19.5 L31,16.3 M26.4,21 L31,24.5" fill="none" stroke="#111" stroke-width="0.9"/>
<rect x="2.5" y="6.300000000000001" width="2.5" height="2.2" fill="#faf6c6" stroke="#111" stroke-width="0.9"/>
<rect x="7.0" y="10.4" width="2.5" height="2.2" fill="#faf6c6" stroke="#111" stroke-width="0.9"/>
<rect x="2.5" y="15.3" width="2.5" height="2.2" fill="#faf6c6" stroke="#111" stroke-width="0.9"/>
<rect x="25.599999999999998" y="10.700000000000001" width="2.5" height="2.2" fill="#faf6c6" stroke="#111" stroke-width="0.9"/>
<rect x="30.099999999999998" y="15.4" width="2.5" height="2.2" fill="#faf6c6" stroke="#111" stroke-width="0.9"/>
<rect x="25.599999999999998" y="19.599999999999998" width="2.5" height="2.2" fill="#faf6c6" stroke="#111" stroke-width="0.9"/>
<rect x="29.7" y="23.3" width="2.8" height="2.6" fill="#111"/>
</g>
<path d="M994.40,274.65 L996.22,274.65 L996.22,275.55 L998.04,275.55 L998.04,274.65 L999.86,274.65 L999.86,275.55 L1001.68,275.55 L1001.68,274.65 L1003.50,274.65 L1003.95,275.10 L1003.95,276.80 L1003.05,276.80 L1003.05,278.50 L1003.95,278.50 L1003.95,280.20 L1003.50,279.75 L1005.30,279.75 L1005.30,280.65 L1007.10,280.65 L1007.10,279.75 L1008.90,279.75 L1008.90,280.65 L1010.70,280.65 L1010.70,279.75 L1012.50,279.75" fill="none" stroke="#0f8282" stroke-width="1.35" stroke-linejoin="miter"/>
<g transform="translate(1012.5,276) scale(1.0000,1.0058)">
<rect x="0.6" y="0.6" width="33.3" height="33.1" fill="#fff" stroke="#1a1a1a" stroke-width="1.2"/>
<rect x="2.9" y="2.6" width="26" height="10.5" fill="#fff" stroke="#1a1a1a" stroke-width="1"/>
<rect x="2.9" y="2.6" width="6" height="12.6" fill="#fff" stroke="#1a1a1a" stroke-width="1"/>
<path d="M2.9,8.8 L8.9,8.8" stroke="#1a1a1a" stroke-width="1"/>
<path d="M5.9,4.3 l1.1,1.1 l-1.1,1.1 l-1.1,-1.1 Z M5.9,10.6 l1.6,1.6 l-1.6,1.6 l-1.6,-1.6 Z" fill="none" stroke="#333" stroke-width="0.7"/>
<text x="10.2" y="11.9" font-size="10.8" fill="#222" textLength="18" lengthAdjust="spacingAndGlyphs">12.3</text>
<path d="M6.6,17 Q6.8,22 10,22.4 L16,22.6" fill="none" stroke="#111" stroke-width="1"/>
<path d="M14.6,20.6 L17.6,22.7 L14.6,24.8 Z" fill="#111"/>
<text x="2.2" y="31.6" font-size="9.4" fill="#222" textLength="14" lengthAdjust="spacingAndGlyphs">TXT</text>
<path d="M19,18.3 L31.6,18.3 L31.6,32 L20.5,32 L19,30.5 Z" fill="#fff" stroke="#111" stroke-width="1.3"/>
<rect x="21.4" y="19" width="8" height="4.8" fill="#fff" stroke="#111" stroke-width="1"/>
<path d="M23,20.8 L26,20.8 L24.3,22.3 Z" fill="#111"/>
<rect x="21.9" y="27.2" width="7" height="4.6" fill="#fff" stroke="#111" stroke-width="1"/>
<path d="M0.3,19 L3.2,21 L0.3,23 Z" fill="#777"/>
</g>
<circle cx="953.6" cy="315.90000000000003" r="1.8" fill="#fff" stroke="#0f8282" stroke-width="1"/>
<path d="M953.60,315.45 L955.30,315.45 L955.30,316.35 L957.00,316.35 L957.00,315.45 L958.70,315.45 L958.70,316.35 L960.40,316.35" fill="none" stroke="#0f8282" stroke-width="1.35" stroke-linejoin="miter"/>
<rect x="898.4000000000001" y="326.5" width="44.899999999999956" height="15.200000000000022" fill="#fff" stroke="#0f8282" stroke-width="2.4" />
<path d="M902.1,331.8 L902.1,337.5 L903.6,337.5" fill="none" stroke="#222" stroke-width="1"/>
<rect x="900.8000000000001" y="329.3" width="2.6" height="2.6" fill="#fff" stroke="#222" stroke-width="1" />
<rect x="903.8000000000001" y="336.3" width="2.6" height="2.6" fill="#fff" stroke="#222" stroke-width="1" />
<text x="908.8000000000001" y="338.6" font-size="12.4" fill="#202030" text-anchor="start" textLength="30.699999999999932" lengthAdjust="spacingAndGlyphs" >uc.txt</text>
<path d="M944.50,333.65 L946.27,333.65 L946.27,334.55 L948.03,334.55 L948.03,333.65 L949.80,333.65 L949.80,334.55 L951.57,334.55 L951.57,333.65 L953.33,333.65 L953.33,334.55 L955.10,334.55 L955.10,333.65 L956.87,333.65 L956.87,334.55 L958.63,334.55 L958.63,333.65 L960.40,333.65" fill="none" stroke="#0f8282" stroke-width="1.35" stroke-linejoin="miter"/>
<g transform="translate(960.4,307.6) scale(0.9855,0.9855)">
<rect x="0.55" y="0.55" width="33.4" height="33.4" fill="#faf6c6" stroke="#111" stroke-width="1.2"/>
<rect x="14.1" y="2.7" width="7.4" height="29.4" fill="#faf6c6" stroke="#1a1a1a" stroke-width="1"/>
<rect x="14.1" y="25.2" width="7.4" height="6.9" fill="url(#hat)" stroke="#1a1a1a" stroke-width="1"/>
<rect x="2.1" y="25.5" width="7.2" height="6.6" fill="url(#hat)" stroke="#1a1a1a" stroke-width="1"/>
<path d="M9.3,28.9 L14,28.9 M9,8.3 L14,8.3 M21.5,16 L25,16" stroke="#111" stroke-width="1"/>
<path d="M11,26.6 L13.6,28.9 L11,31.2 Z M11,6 L13.6,8.3 L11,10.6 Z M23,13.7 L25.6,16 L23,18.3 Z" fill="#111"/>
<path d="M4,7.5 Q7.5,8.5 8,11.3 Q7.5,14.5 4,15.5" fill="none" stroke="#111" stroke-width="0.9"/>
<path d="M26.4,12 L31,16 M26.4,19.5 L31,16.3 M26.4,21 L31,24.5" fill="none" stroke="#111" stroke-width="0.9"/>
<rect x="2.5" y="6.300000000000001" width="2.5" height="2.2" fill="#faf6c6" stroke="#111" stroke-width="0.9"/>
<rect x="7.0" y="10.4" width="2.5" height="2.2" fill="#faf6c6" stroke="#111" stroke-width="0.9"/>
<rect x="2.5" y="15.3" width="2.5" height="2.2" fill="#faf6c6" stroke="#111" stroke-width="0.9"/>
<rect x="25.599999999999998" y="10.700000000000001" width="2.5" height="2.2" fill="#faf6c6" stroke="#111" stroke-width="0.9"/>
<rect x="30.099999999999998" y="15.4" width="2.5" height="2.2" fill="#faf6c6" stroke="#111" stroke-width="0.9"/>
<rect x="25.599999999999998" y="19.599999999999998" width="2.5" height="2.2" fill="#faf6c6" stroke="#111" stroke-width="0.9"/>
<rect x="29.7" y="23.3" width="2.8" height="2.6" fill="#111"/>
</g>
<path d="M994.40,323.65 L996.22,323.65 L996.22,324.55 L998.04,324.55 L998.04,323.65 L999.86,323.65 L999.86,324.55 L1001.68,324.55 L1001.68,323.65 L1003.50,323.65 L1003.95,324.10 L1003.95,326.13 L1003.05,326.13 L1003.05,328.17 L1003.95,328.17 L1003.95,330.20 L1003.50,329.75 L1005.30,329.75 L1005.30,330.65 L1007.10,330.65 L1007.10,329.75 L1008.90,329.75 L1008.90,330.65 L1010.70,330.65 L1010.70,329.75 L1012.50,329.75" fill="none" stroke="#0f8282" stroke-width="1.35" stroke-linejoin="miter"/>
<g transform="translate(1012.5,326) scale(1.0000,1.0058)">
<rect x="0.6" y="0.6" width="33.3" height="33.1" fill="#fff" stroke="#1a1a1a" stroke-width="1.2"/>
<rect x="2.9" y="2.6" width="26" height="10.5" fill="#fff" stroke="#1a1a1a" stroke-width="1"/>
<rect x="2.9" y="2.6" width="6" height="12.6" fill="#fff" stroke="#1a1a1a" stroke-width="1"/>
<path d="M2.9,8.8 L8.9,8.8" stroke="#1a1a1a" stroke-width="1"/>
<path d="M5.9,4.3 l1.1,1.1 l-1.1,1.1 l-1.1,-1.1 Z M5.9,10.6 l1.6,1.6 l-1.6,1.6 l-1.6,-1.6 Z" fill="none" stroke="#333" stroke-width="0.7"/>
<text x="10.2" y="11.9" font-size="10.8" fill="#222" textLength="18" lengthAdjust="spacingAndGlyphs">12.3</text>
<path d="M6.6,17 Q6.8,22 10,22.4 L16,22.6" fill="none" stroke="#111" stroke-width="1"/>
<path d="M14.6,20.6 L17.6,22.7 L14.6,24.8 Z" fill="#111"/>
<text x="2.2" y="31.6" font-size="9.4" fill="#222" textLength="14" lengthAdjust="spacingAndGlyphs">TXT</text>
<path d="M19,18.3 L31.6,18.3 L31.6,32 L20.5,32 L19,30.5 Z" fill="#fff" stroke="#111" stroke-width="1.3"/>
<rect x="21.4" y="19" width="8" height="4.8" fill="#fff" stroke="#111" stroke-width="1"/>
<path d="M23,20.8 L26,20.8 L24.3,22.3 Z" fill="#111"/>
<rect x="21.9" y="27.2" width="7" height="4.6" fill="#fff" stroke="#111" stroke-width="1"/>
<path d="M0.3,19 L3.2,21 L0.3,23 Z" fill="#777"/>
</g>
<circle cx="953.6" cy="365.1" r="1.8" fill="#fff" stroke="#0f8282" stroke-width="1"/>
<path d="M953.60,364.65 L955.30,364.65 L955.30,365.55 L957.00,365.55 L957.00,364.65 L958.70,364.65 L958.70,365.55 L960.40,365.55" fill="none" stroke="#0f8282" stroke-width="1.35" stroke-linejoin="miter"/>
<rect x="903.9000000000001" y="375.5" width="39.399999999999956" height="15.200000000000022" fill="#fff" stroke="#0f8282" stroke-width="2.4" />
<path d="M907.6,380.8 L907.6,386.5 L909.1,386.5" fill="none" stroke="#222" stroke-width="1"/>
<rect x="906.3000000000001" y="378.3" width="2.6" height="2.6" fill="#fff" stroke="#222" stroke-width="1" />
<rect x="909.3000000000001" y="385.3" width="2.6" height="2.6" fill="#fff" stroke="#222" stroke-width="1" />
<text x="914.3000000000001" y="387.6" font-size="12.4" fill="#202030" text-anchor="start" textLength="25.199999999999932" lengthAdjust="spacingAndGlyphs" >e.txt</text>
<path d="M944.50,382.65 L946.27,382.65 L946.27,383.55 L948.03,383.55 L948.03,382.65 L949.80,382.65 L949.80,383.55 L951.57,383.55 L951.57,382.65 L953.33,382.65 L953.33,383.55 L955.10,383.55 L955.10,382.65 L956.87,382.65 L956.87,383.55 L958.63,383.55 L958.63,382.65 L960.40,382.65" fill="none" stroke="#0f8282" stroke-width="1.35" stroke-linejoin="miter"/>
<g transform="translate(960.4,356.8) scale(0.9855,0.9855)">
<rect x="0.55" y="0.55" width="33.4" height="33.4" fill="#faf6c6" stroke="#111" stroke-width="1.2"/>
<rect x="14.1" y="2.7" width="7.4" height="29.4" fill="#faf6c6" stroke="#1a1a1a" stroke-width="1"/>
<rect x="14.1" y="25.2" width="7.4" height="6.9" fill="url(#hat)" stroke="#1a1a1a" stroke-width="1"/>
<rect x="2.1" y="25.5" width="7.2" height="6.6" fill="url(#hat)" stroke="#1a1a1a" stroke-width="1"/>
<path d="M9.3,28.9 L14,28.9 M9,8.3 L14,8.3 M21.5,16 L25,16" stroke="#111" stroke-width="1"/>
<path d="M11,26.6 L13.6,28.9 L11,31.2 Z M11,6 L13.6,8.3 L11,10.6 Z M23,13.7 L25.6,16 L23,18.3 Z" fill="#111"/>
<path d="M4,7.5 Q7.5,8.5 8,11.3 Q7.5,14.5 4,15.5" fill="none" stroke="#111" stroke-width="0.9"/>
<path d="M26.4,12 L31,16 M26.4,19.5 L31,16.3 M26.4,21 L31,24.5" fill="none" stroke="#111" stroke-width="0.9"/>
<rect x="2.5" y="6.300000000000001" width="2.5" height="2.2" fill="#faf6c6" stroke="#111" stroke-width="0.9"/>
<rect x="7.0" y="10.4" width="2.5" height="2.2" fill="#faf6c6" stroke="#111" stroke-width="0.9"/>
<rect x="2.5" y="15.3" width="2.5" height="2.2" fill="#faf6c6" stroke="#111" stroke-width="0.9"/>
<rect x="25.599999999999998" y="10.700000000000001" width="2.5" height="2.2" fill="#faf6c6" stroke="#111" stroke-width="0.9"/>
<rect x="30.099999999999998" y="15.4" width="2.5" height="2.2" fill="#faf6c6" stroke="#111" stroke-width="0.9"/>
<rect x="25.599999999999998" y="19.599999999999998" width="2.5" height="2.2" fill="#faf6c6" stroke="#111" stroke-width="0.9"/>
<rect x="29.7" y="23.3" width="2.8" height="2.6" fill="#111"/>
</g>
<path d="M994.40,372.85 L996.22,372.85 L996.22,373.75 L998.04,373.75 L998.04,372.85 L999.86,372.85 L999.86,373.75 L1001.68,373.75 L1001.68,372.85 L1003.50,372.85 L1003.95,373.30 L1003.95,375.02 L1003.05,375.02 L1003.05,376.75 L1003.95,376.75 L1003.95,378.48 L1003.05,378.48 L1003.05,380.20 L1003.50,379.75 L1005.30,379.75 L1005.30,380.65 L1007.10,380.65 L1007.10,379.75 L1008.90,379.75 L1008.90,380.65 L1010.70,380.65 L1010.70,379.75 L1012.50,379.75" fill="none" stroke="#0f8282" stroke-width="1.35" stroke-linejoin="miter"/>
<g transform="translate(1012.5,376) scale(1.0000,1.0058)">
<rect x="0.6" y="0.6" width="33.3" height="33.1" fill="#fff" stroke="#1a1a1a" stroke-width="1.2"/>
<rect x="2.9" y="2.6" width="26" height="10.5" fill="#fff" stroke="#1a1a1a" stroke-width="1"/>
<rect x="2.9" y="2.6" width="6" height="12.6" fill="#fff" stroke="#1a1a1a" stroke-width="1"/>
<path d="M2.9,8.8 L8.9,8.8" stroke="#1a1a1a" stroke-width="1"/>
<path d="M5.9,4.3 l1.1,1.1 l-1.1,1.1 l-1.1,-1.1 Z M5.9,10.6 l1.6,1.6 l-1.6,1.6 l-1.6,-1.6 Z" fill="none" stroke="#333" stroke-width="0.7"/>
<text x="10.2" y="11.9" font-size="10.8" fill="#222" textLength="18" lengthAdjust="spacingAndGlyphs">12.3</text>
<path d="M6.6,17 Q6.8,22 10,22.4 L16,22.6" fill="none" stroke="#111" stroke-width="1"/>
<path d="M14.6,20.6 L17.6,22.7 L14.6,24.8 Z" fill="#111"/>
<text x="2.2" y="31.6" font-size="9.4" fill="#222" textLength="14" lengthAdjust="spacingAndGlyphs">TXT</text>
<path d="M19,18.3 L31.6,18.3 L31.6,32 L20.5,32 L19,30.5 Z" fill="#fff" stroke="#111" stroke-width="1.3"/>
<rect x="21.4" y="19" width="8" height="4.8" fill="#fff" stroke="#111" stroke-width="1"/>
<path d="M23,20.8 L26,20.8 L24.3,22.3 Z" fill="#111"/>
<rect x="21.9" y="27.2" width="7" height="4.6" fill="#fff" stroke="#111" stroke-width="1"/>
<path d="M0.3,19 L3.2,21 L0.3,23 Z" fill="#777"/>
</g>
<circle cx="953.6" cy="414.0" r="1.8" fill="#fff" stroke="#0f8282" stroke-width="1"/>
<path d="M953.60,413.55 L955.30,413.55 L955.30,414.45 L957.00,414.45 L957.00,413.55 L958.70,413.55 L958.70,414.45 L960.40,414.45" fill="none" stroke="#0f8282" stroke-width="1.35" stroke-linejoin="miter"/>
<rect x="895.4000000000001" y="424.8" width="47.899999999999956" height="15.200000000000022" fill="#fff" stroke="#0f8282" stroke-width="2.4" />
<path d="M899.1,430.1 L899.1,435.8 L900.6,435.8" fill="none" stroke="#222" stroke-width="1"/>
<rect x="897.8000000000001" y="427.6" width="2.6" height="2.6" fill="#fff" stroke="#222" stroke-width="1" />
<rect x="900.8000000000001" y="434.6" width="2.6" height="2.6" fill="#fff" stroke="#222" stroke-width="1" />
<text x="905.8000000000001" y="436.90000000000003" font-size="12.4" fill="#202030" text-anchor="start" textLength="33.69999999999993" lengthAdjust="spacingAndGlyphs" >ym.txt</text>
<path d="M944.50,431.95 L946.27,431.95 L946.27,432.85 L948.03,432.85 L948.03,431.95 L949.80,431.95 L949.80,432.85 L951.57,432.85 L951.57,431.95 L953.33,431.95 L953.33,432.85 L955.10,432.85 L955.10,431.95 L956.87,431.95 L956.87,432.85 L958.63,432.85 L958.63,431.95 L960.40,431.95" fill="none" stroke="#0f8282" stroke-width="1.35" stroke-linejoin="miter"/>
<g transform="translate(960.4,405.7) scale(0.9855,0.9855)">
<rect x="0.55" y="0.55" width="33.4" height="33.4" fill="#faf6c6" stroke="#111" stroke-width="1.2"/>
<rect x="14.1" y="2.7" width="7.4" height="29.4" fill="#faf6c6" stroke="#1a1a1a" stroke-width="1"/>
<rect x="14.1" y="25.2" width="7.4" height="6.9" fill="url(#hat)" stroke="#1a1a1a" stroke-width="1"/>
<rect x="2.1" y="25.5" width="7.2" height="6.6" fill="url(#hat)" stroke="#1a1a1a" stroke-width="1"/>
<path d="M9.3,28.9 L14,28.9 M9,8.3 L14,8.3 M21.5,16 L25,16" stroke="#111" stroke-width="1"/>
<path d="M11,26.6 L13.6,28.9 L11,31.2 Z M11,6 L13.6,8.3 L11,10.6 Z M23,13.7 L25.6,16 L23,18.3 Z" fill="#111"/>
<path d="M4,7.5 Q7.5,8.5 8,11.3 Q7.5,14.5 4,15.5" fill="none" stroke="#111" stroke-width="0.9"/>
<path d="M26.4,12 L31,16 M26.4,19.5 L31,16.3 M26.4,21 L31,24.5" fill="none" stroke="#111" stroke-width="0.9"/>
<rect x="2.5" y="6.300000000000001" width="2.5" height="2.2" fill="#faf6c6" stroke="#111" stroke-width="0.9"/>
<rect x="7.0" y="10.4" width="2.5" height="2.2" fill="#faf6c6" stroke="#111" stroke-width="0.9"/>
<rect x="2.5" y="15.3" width="2.5" height="2.2" fill="#faf6c6" stroke="#111" stroke-width="0.9"/>
<rect x="25.599999999999998" y="10.700000000000001" width="2.5" height="2.2" fill="#faf6c6" stroke="#111" stroke-width="0.9"/>
<rect x="30.099999999999998" y="15.4" width="2.5" height="2.2" fill="#faf6c6" stroke="#111" stroke-width="0.9"/>
<rect x="25.599999999999998" y="19.599999999999998" width="2.5" height="2.2" fill="#faf6c6" stroke="#111" stroke-width="0.9"/>
<rect x="29.7" y="23.3" width="2.8" height="2.6" fill="#111"/>
</g>
<path d="M994.40,421.75 L996.22,421.75 L996.22,422.65 L998.04,422.65 L998.04,421.75 L999.86,421.75 L999.86,422.65 L1001.68,422.65 L1001.68,421.75 L1003.50,421.75 L1003.95,422.20 L1003.95,423.94 L1003.05,423.94 L1003.05,425.68 L1003.95,425.68 L1003.95,427.42 L1003.05,427.42 L1003.05,429.16 L1003.95,429.16 L1003.95,430.90 L1003.50,430.45 L1005.30,430.45 L1005.30,431.35 L1007.10,431.35 L1007.10,430.45 L1008.90,430.45 L1008.90,431.35 L1010.70,431.35 L1010.70,430.45 L1012.50,430.45" fill="none" stroke="#0f8282" stroke-width="1.35" stroke-linejoin="miter"/>
<g transform="translate(1012.5,426.7) scale(1.0000,1.0058)">
<rect x="0.6" y="0.6" width="33.3" height="33.1" fill="#fff" stroke="#1a1a1a" stroke-width="1.2"/>
<rect x="2.9" y="2.6" width="26" height="10.5" fill="#fff" stroke="#1a1a1a" stroke-width="1"/>
<rect x="2.9" y="2.6" width="6" height="12.6" fill="#fff" stroke="#1a1a1a" stroke-width="1"/>
<path d="M2.9,8.8 L8.9,8.8" stroke="#1a1a1a" stroke-width="1"/>
<path d="M5.9,4.3 l1.1,1.1 l-1.1,1.1 l-1.1,-1.1 Z M5.9,10.6 l1.6,1.6 l-1.6,1.6 l-1.6,-1.6 Z" fill="none" stroke="#333" stroke-width="0.7"/>
<text x="10.2" y="11.9" font-size="10.8" fill="#222" textLength="18" lengthAdjust="spacingAndGlyphs">12.3</text>
<path d="M6.6,17 Q6.8,22 10,22.4 L16,22.6" fill="none" stroke="#111" stroke-width="1"/>
<path d="M14.6,20.6 L17.6,22.7 L14.6,24.8 Z" fill="#111"/>
<text x="2.2" y="31.6" font-size="9.4" fill="#222" textLength="14" lengthAdjust="spacingAndGlyphs">TXT</text>
<path d="M19,18.3 L31.6,18.3 L31.6,32 L20.5,32 L19,30.5 Z" fill="#fff" stroke="#111" stroke-width="1.3"/>
<rect x="21.4" y="19" width="8" height="4.8" fill="#fff" stroke="#111" stroke-width="1"/>
<path d="M23,20.8 L26,20.8 L24.3,22.3 Z" fill="#111"/>
<rect x="21.9" y="27.2" width="7" height="4.6" fill="#fff" stroke="#111" stroke-width="1"/>
<path d="M0.3,19 L3.2,21 L0.3,23 Z" fill="#777"/>
</g>
<circle cx="953.6" cy="463.3" r="1.8" fill="#fff" stroke="#0f8282" stroke-width="1"/>
<path d="M953.60,462.85 L955.30,462.85 L955.30,463.75 L957.00,463.75 L957.00,462.85 L958.70,462.85 L958.70,463.75 L960.40,463.75" fill="none" stroke="#0f8282" stroke-width="1.35" stroke-linejoin="miter"/>
<rect x="904.2" y="474.2" width="39.1" height="15.200000000000022" fill="#fff" stroke="#0f8282" stroke-width="2.4" />
<path d="M907.9,479.5 L907.9,485.2 L909.4,485.2" fill="none" stroke="#222" stroke-width="1"/>
<rect x="906.6" y="477" width="2.6" height="2.6" fill="#fff" stroke="#222" stroke-width="1" />
<rect x="909.6" y="484" width="2.6" height="2.6" fill="#fff" stroke="#222" stroke-width="1" />
<text x="914.6" y="486.3" font-size="12.4" fill="#202030" text-anchor="start" textLength="24.899999999999977" lengthAdjust="spacingAndGlyphs" >y.txt</text>
<path d="M944.50,481.35 L946.27,481.35 L946.27,482.25 L948.03,482.25 L948.03,481.35 L949.80,481.35 L949.80,482.25 L951.57,482.25 L951.57,481.35 L953.33,481.35 L953.33,482.25 L955.10,482.25 L955.10,481.35 L956.87,481.35 L956.87,482.25 L958.63,482.25 L958.63,481.35 L960.40,481.35" fill="none" stroke="#0f8282" stroke-width="1.35" stroke-linejoin="miter"/>
<g transform="translate(960.4,455) scale(0.9855,0.9855)">
<rect x="0.55" y="0.55" width="33.4" height="33.4" fill="#faf6c6" stroke="#111" stroke-width="1.2"/>
<rect x="14.1" y="2.7" width="7.4" height="29.4" fill="#faf6c6" stroke="#1a1a1a" stroke-width="1"/>
<rect x="14.1" y="25.2" width="7.4" height="6.9" fill="url(#hat)" stroke="#1a1a1a" stroke-width="1"/>
<rect x="2.1" y="25.5" width="7.2" height="6.6" fill="url(#hat)" stroke="#1a1a1a" stroke-width="1"/>
<path d="M9.3,28.9 L14,28.9 M9,8.3 L14,8.3 M21.5,16 L25,16" stroke="#111" stroke-width="1"/>
<path d="M11,26.6 L13.6,28.9 L11,31.2 Z M11,6 L13.6,8.3 L11,10.6 Z M23,13.7 L25.6,16 L23,18.3 Z" fill="#111"/>
<path d="M4,7.5 Q7.5,8.5 8,11.3 Q7.5,14.5 4,15.5" fill="none" stroke="#111" stroke-width="0.9"/>
<path d="M26.4,12 L31,16 M26.4,19.5 L31,16.3 M26.4,21 L31,24.5" fill="none" stroke="#111" stroke-width="0.9"/>
<rect x="2.5" y="6.300000000000001" width="2.5" height="2.2" fill="#faf6c6" stroke="#111" stroke-width="0.9"/>
<rect x="7.0" y="10.4" width="2.5" height="2.2" fill="#faf6c6" stroke="#111" stroke-width="0.9"/>
<rect x="2.5" y="15.3" width="2.5" height="2.2" fill="#faf6c6" stroke="#111" stroke-width="0.9"/>
<rect x="25.599999999999998" y="10.700000000000001" width="2.5" height="2.2" fill="#faf6c6" stroke="#111" stroke-width="0.9"/>
<rect x="30.099999999999998" y="15.4" width="2.5" height="2.2" fill="#faf6c6" stroke="#111" stroke-width="0.9"/>
<rect x="25.599999999999998" y="19.599999999999998" width="2.5" height="2.2" fill="#faf6c6" stroke="#111" stroke-width="0.9"/>
<rect x="29.7" y="23.3" width="2.8" height="2.6" fill="#111"/>
</g>
<path d="M994.40,471.05 L996.22,471.05 L996.22,471.95 L998.04,471.95 L998.04,471.05 L999.86,471.05 L999.86,471.95 L1001.68,471.95 L1001.68,471.05 L1003.50,471.05 L1003.95,471.50 L1003.95,473.34 L1003.05,473.34 L1003.05,475.18 L1003.95,475.18 L1003.95,477.02 L1003.05,477.02 L1003.05,478.86 L1003.95,478.86 L1003.95,480.70 L1003.50,480.25 L1005.30,480.25 L1005.30,481.15 L1007.10,481.15 L1007.10,480.25 L1008.90,480.25 L1008.90,481.15 L1010.70,481.15 L1010.70,480.25 L1012.50,480.25" fill="none" stroke="#0f8282" stroke-width="1.35" stroke-linejoin="miter"/>
<g transform="translate(1012.5,476.5) scale(1.0000,1.0058)">
<rect x="0.6" y="0.6" width="33.3" height="33.1" fill="#fff" stroke="#1a1a1a" stroke-width="1.2"/>
<rect x="2.9" y="2.6" width="26" height="10.5" fill="#fff" stroke="#1a1a1a" stroke-width="1"/>
<rect x="2.9" y="2.6" width="6" height="12.6" fill="#fff" stroke="#1a1a1a" stroke-width="1"/>
<path d="M2.9,8.8 L8.9,8.8" stroke="#1a1a1a" stroke-width="1"/>
<path d="M5.9,4.3 l1.1,1.1 l-1.1,1.1 l-1.1,-1.1 Z M5.9,10.6 l1.6,1.6 l-1.6,1.6 l-1.6,-1.6 Z" fill="none" stroke="#333" stroke-width="0.7"/>
<text x="10.2" y="11.9" font-size="10.8" fill="#222" textLength="18" lengthAdjust="spacingAndGlyphs">12.3</text>
<path d="M6.6,17 Q6.8,22 10,22.4 L16,22.6" fill="none" stroke="#111" stroke-width="1"/>
<path d="M14.6,20.6 L17.6,22.7 L14.6,24.8 Z" fill="#111"/>
<text x="2.2" y="31.6" font-size="9.4" fill="#222" textLength="14" lengthAdjust="spacingAndGlyphs">TXT</text>
<path d="M19,18.3 L31.6,18.3 L31.6,32 L20.5,32 L19,30.5 Z" fill="#fff" stroke="#111" stroke-width="1.3"/>
<rect x="21.4" y="19" width="8" height="4.8" fill="#fff" stroke="#111" stroke-width="1"/>
<path d="M23,20.8 L26,20.8 L24.3,22.3 Z" fill="#111"/>
<rect x="21.9" y="27.2" width="7" height="4.6" fill="#fff" stroke="#111" stroke-width="1"/>
<path d="M0.3,19 L3.2,21 L0.3,23 Z" fill="#777"/>
</g>
<circle cx="953.6" cy="512.6999999999999" r="1.8" fill="#fff" stroke="#0f8282" stroke-width="1"/>
<path d="M953.60,512.25 L955.30,512.25 L955.30,513.15 L957.00,513.15 L957.00,512.25 L958.70,512.25 L958.70,513.15 L960.40,513.15" fill="none" stroke="#0f8282" stroke-width="1.35" stroke-linejoin="miter"/>
<rect x="882.2" y="523.4000000000001" width="61.1" height="15.200000000000022" fill="#fff" stroke="#0f8282" stroke-width="2.4" />
<path d="M885.9,528.7 L885.9,534.4000000000001 L887.4,534.4000000000001" fill="none" stroke="#222" stroke-width="1"/>
<rect x="884.6" y="526.2" width="2.6" height="2.6" fill="#fff" stroke="#222" stroke-width="1" />
<rect x="887.6" y="533.2" width="2.6" height="2.6" fill="#fff" stroke="#222" stroke-width="1" />
<text x="892.6" y="535.5000000000001" font-size="12.4" fill="#202030" text-anchor="start" textLength="46.89999999999998" lengthAdjust="spacingAndGlyphs" >teta2.txt</text>
<path d="M944.50,530.55 L946.27,530.55 L946.27,531.45 L948.03,531.45 L948.03,530.55 L949.80,530.55 L949.80,531.45 L951.57,531.45 L951.57,530.55 L953.33,530.55 L953.33,531.45 L955.10,531.45 L955.10,530.55 L956.87,530.55 L956.87,531.45 L958.63,531.45 L958.63,530.55 L960.40,530.55" fill="none" stroke="#0f8282" stroke-width="1.35" stroke-linejoin="miter"/>
<g transform="translate(960.4,504.4) scale(0.9855,0.9855)">
<rect x="0.55" y="0.55" width="33.4" height="33.4" fill="#faf6c6" stroke="#111" stroke-width="1.2"/>
<rect x="14.1" y="2.7" width="7.4" height="29.4" fill="#faf6c6" stroke="#1a1a1a" stroke-width="1"/>
<rect x="14.1" y="25.2" width="7.4" height="6.9" fill="url(#hat)" stroke="#1a1a1a" stroke-width="1"/>
<rect x="2.1" y="25.5" width="7.2" height="6.6" fill="url(#hat)" stroke="#1a1a1a" stroke-width="1"/>
<path d="M9.3,28.9 L14,28.9 M9,8.3 L14,8.3 M21.5,16 L25,16" stroke="#111" stroke-width="1"/>
<path d="M11,26.6 L13.6,28.9 L11,31.2 Z M11,6 L13.6,8.3 L11,10.6 Z M23,13.7 L25.6,16 L23,18.3 Z" fill="#111"/>
<path d="M4,7.5 Q7.5,8.5 8,11.3 Q7.5,14.5 4,15.5" fill="none" stroke="#111" stroke-width="0.9"/>
<path d="M26.4,12 L31,16 M26.4,19.5 L31,16.3 M26.4,21 L31,24.5" fill="none" stroke="#111" stroke-width="0.9"/>
<rect x="2.5" y="6.300000000000001" width="2.5" height="2.2" fill="#faf6c6" stroke="#111" stroke-width="0.9"/>
<rect x="7.0" y="10.4" width="2.5" height="2.2" fill="#faf6c6" stroke="#111" stroke-width="0.9"/>
<rect x="2.5" y="15.3" width="2.5" height="2.2" fill="#faf6c6" stroke="#111" stroke-width="0.9"/>
<rect x="25.599999999999998" y="10.700000000000001" width="2.5" height="2.2" fill="#faf6c6" stroke="#111" stroke-width="0.9"/>
<rect x="30.099999999999998" y="15.4" width="2.5" height="2.2" fill="#faf6c6" stroke="#111" stroke-width="0.9"/>
<rect x="25.599999999999998" y="19.599999999999998" width="2.5" height="2.2" fill="#faf6c6" stroke="#111" stroke-width="0.9"/>
<rect x="29.7" y="23.3" width="2.8" height="2.6" fill="#111"/>
</g>
<path d="M994.40,520.45 L996.22,520.45 L996.22,521.35 L998.04,521.35 L998.04,520.45 L999.86,520.45 L999.86,521.35 L1001.68,521.35 L1001.68,520.45 L1003.50,520.45 L1003.95,520.90 L1003.95,522.92 L1003.05,522.92 L1003.05,524.94 L1003.95,524.94 L1003.95,526.96 L1003.05,526.96 L1003.05,528.98 L1003.95,528.98 L1003.95,531.00 L1003.50,530.55 L1005.30,530.55 L1005.30,531.45 L1007.10,531.45 L1007.10,530.55 L1008.90,530.55 L1008.90,531.45 L1010.70,531.45 L1010.70,530.55 L1012.50,530.55" fill="none" stroke="#0f8282" stroke-width="1.35" stroke-linejoin="miter"/>
<g transform="translate(1012.5,526.8) scale(1.0000,1.0058)">
<rect x="0.6" y="0.6" width="33.3" height="33.1" fill="#fff" stroke="#1a1a1a" stroke-width="1.2"/>
<rect x="2.9" y="2.6" width="26" height="10.5" fill="#fff" stroke="#1a1a1a" stroke-width="1"/>
<rect x="2.9" y="2.6" width="6" height="12.6" fill="#fff" stroke="#1a1a1a" stroke-width="1"/>
<path d="M2.9,8.8 L8.9,8.8" stroke="#1a1a1a" stroke-width="1"/>
<path d="M5.9,4.3 l1.1,1.1 l-1.1,1.1 l-1.1,-1.1 Z M5.9,10.6 l1.6,1.6 l-1.6,1.6 l-1.6,-1.6 Z" fill="none" stroke="#333" stroke-width="0.7"/>
<text x="10.2" y="11.9" font-size="10.8" fill="#222" textLength="18" lengthAdjust="spacingAndGlyphs">12.3</text>
<path d="M6.6,17 Q6.8,22 10,22.4 L16,22.6" fill="none" stroke="#111" stroke-width="1"/>
<path d="M14.6,20.6 L17.6,22.7 L14.6,24.8 Z" fill="#111"/>
<text x="2.2" y="31.6" font-size="9.4" fill="#222" textLength="14" lengthAdjust="spacingAndGlyphs">TXT</text>
<path d="M19,18.3 L31.6,18.3 L31.6,32 L20.5,32 L19,30.5 Z" fill="#fff" stroke="#111" stroke-width="1.3"/>
<rect x="21.4" y="19" width="8" height="4.8" fill="#fff" stroke="#111" stroke-width="1"/>
<path d="M23,20.8 L26,20.8 L24.3,22.3 Z" fill="#111"/>
<rect x="21.9" y="27.2" width="7" height="4.6" fill="#fff" stroke="#111" stroke-width="1"/>
<path d="M0.3,19 L3.2,21 L0.3,23 Z" fill="#777"/>
</g>
<circle cx="953.6" cy="561.3" r="1.8" fill="#fff" stroke="#0f8282" stroke-width="1"/>
<path d="M953.60,560.85 L955.30,560.85 L955.30,561.75 L957.00,561.75 L957.00,560.85 L958.70,560.85 L958.70,561.75 L960.40,561.75" fill="none" stroke="#0f8282" stroke-width="1.35" stroke-linejoin="miter"/>
<rect x="882.2" y="572.0" width="61.1" height="15.200000000000022" fill="#fff" stroke="#0f8282" stroke-width="2.4" />
<path d="M885.9,577.3 L885.9,583.0 L887.4,583.0" fill="none" stroke="#222" stroke-width="1"/>
<rect x="884.6" y="574.8" width="2.6" height="2.6" fill="#fff" stroke="#222" stroke-width="1" />
<rect x="887.6" y="581.8" width="2.6" height="2.6" fill="#fff" stroke="#222" stroke-width="1" />
<text x="892.6" y="584.1" font-size="12.4" fill="#202030" text-anchor="start" textLength="46.89999999999998" lengthAdjust="spacingAndGlyphs" >teta1.txt</text>
<path d="M944.50,579.15 L946.27,579.15 L946.27,580.05 L948.03,580.05 L948.03,579.15 L949.80,579.15 L949.80,580.05 L951.57,580.05 L951.57,579.15 L953.33,579.15 L953.33,580.05 L955.10,580.05 L955.10,579.15 L956.87,579.15 L956.87,580.05 L958.63,580.05 L958.63,579.15 L960.40,579.15" fill="none" stroke="#0f8282" stroke-width="1.35" stroke-linejoin="miter"/>
<g transform="translate(960.4,553) scale(0.9855,0.9855)">
<rect x="0.55" y="0.55" width="33.4" height="33.4" fill="#faf6c6" stroke="#111" stroke-width="1.2"/>
<rect x="14.1" y="2.7" width="7.4" height="29.4" fill="#faf6c6" stroke="#1a1a1a" stroke-width="1"/>
<rect x="14.1" y="25.2" width="7.4" height="6.9" fill="url(#hat)" stroke="#1a1a1a" stroke-width="1"/>
<rect x="2.1" y="25.5" width="7.2" height="6.6" fill="url(#hat)" stroke="#1a1a1a" stroke-width="1"/>
<path d="M9.3,28.9 L14,28.9 M9,8.3 L14,8.3 M21.5,16 L25,16" stroke="#111" stroke-width="1"/>
<path d="M11,26.6 L13.6,28.9 L11,31.2 Z M11,6 L13.6,8.3 L11,10.6 Z M23,13.7 L25.6,16 L23,18.3 Z" fill="#111"/>
<path d="M4,7.5 Q7.5,8.5 8,11.3 Q7.5,14.5 4,15.5" fill="none" stroke="#111" stroke-width="0.9"/>
<path d="M26.4,12 L31,16 M26.4,19.5 L31,16.3 M26.4,21 L31,24.5" fill="none" stroke="#111" stroke-width="0.9"/>
<rect x="2.5" y="6.300000000000001" width="2.5" height="2.2" fill="#faf6c6" stroke="#111" stroke-width="0.9"/>
<rect x="7.0" y="10.4" width="2.5" height="2.2" fill="#faf6c6" stroke="#111" stroke-width="0.9"/>
<rect x="2.5" y="15.3" width="2.5" height="2.2" fill="#faf6c6" stroke="#111" stroke-width="0.9"/>
<rect x="25.599999999999998" y="10.700000000000001" width="2.5" height="2.2" fill="#faf6c6" stroke="#111" stroke-width="0.9"/>
<rect x="30.099999999999998" y="15.4" width="2.5" height="2.2" fill="#faf6c6" stroke="#111" stroke-width="0.9"/>
<rect x="25.599999999999998" y="19.599999999999998" width="2.5" height="2.2" fill="#faf6c6" stroke="#111" stroke-width="0.9"/>
<rect x="29.7" y="23.3" width="2.8" height="2.6" fill="#111"/>
</g>
<path d="M994.40,569.05 L996.22,569.05 L996.22,569.95 L998.04,569.95 L998.04,569.05 L999.86,569.05 L999.86,569.95 L1001.68,569.95 L1001.68,569.05 L1003.50,569.05 L1003.95,569.50 L1003.95,571.42 L1003.05,571.42 L1003.05,573.33 L1003.95,573.33 L1003.95,575.25 L1003.05,575.25 L1003.05,577.17 L1003.95,577.17 L1003.95,579.08 L1003.05,579.08 L1003.05,581.00 L1003.50,580.55 L1005.30,580.55 L1005.30,581.45 L1007.10,581.45 L1007.10,580.55 L1008.90,580.55 L1008.90,581.45 L1010.70,581.45 L1010.70,580.55 L1012.50,580.55" fill="none" stroke="#0f8282" stroke-width="1.35" stroke-linejoin="miter"/>
<g transform="translate(1012.5,576.8) scale(1.0000,1.0058)">
<rect x="0.6" y="0.6" width="33.3" height="33.1" fill="#fff" stroke="#1a1a1a" stroke-width="1.2"/>
<rect x="2.9" y="2.6" width="26" height="10.5" fill="#fff" stroke="#1a1a1a" stroke-width="1"/>
<rect x="2.9" y="2.6" width="6" height="12.6" fill="#fff" stroke="#1a1a1a" stroke-width="1"/>
<path d="M2.9,8.8 L8.9,8.8" stroke="#1a1a1a" stroke-width="1"/>
<path d="M5.9,4.3 l1.1,1.1 l-1.1,1.1 l-1.1,-1.1 Z M5.9,10.6 l1.6,1.6 l-1.6,1.6 l-1.6,-1.6 Z" fill="none" stroke="#333" stroke-width="0.7"/>
<text x="10.2" y="11.9" font-size="10.8" fill="#222" textLength="18" lengthAdjust="spacingAndGlyphs">12.3</text>
<path d="M6.6,17 Q6.8,22 10,22.4 L16,22.6" fill="none" stroke="#111" stroke-width="1"/>
<path d="M14.6,20.6 L17.6,22.7 L14.6,24.8 Z" fill="#111"/>
<text x="2.2" y="31.6" font-size="9.4" fill="#222" textLength="14" lengthAdjust="spacingAndGlyphs">TXT</text>
<path d="M19,18.3 L31.6,18.3 L31.6,32 L20.5,32 L19,30.5 Z" fill="#fff" stroke="#111" stroke-width="1.3"/>
<rect x="21.4" y="19" width="8" height="4.8" fill="#fff" stroke="#111" stroke-width="1"/>
<path d="M23,20.8 L26,20.8 L24.3,22.3 Z" fill="#111"/>
<rect x="21.9" y="27.2" width="7" height="4.6" fill="#fff" stroke="#111" stroke-width="1"/>
<path d="M0.3,19 L3.2,21 L0.3,23 Z" fill="#777"/>
</g>
<path d="M1034.3,310.5 L1034.3,316.8 L1053.9,316.8" fill="none" stroke="#008000" stroke-width="1.2" stroke-dasharray="1.2,1.3"/>
<path d="M1034.3,360.5 L1034.3,368.7 L1053.9,368.7" fill="none" stroke="#008000" stroke-width="1.2" stroke-dasharray="1.2,1.3"/>
<circle cx="1053.9" cy="368.7" r="1.8" fill="#fff" stroke="#008000" stroke-width="1.2"/><circle cx="1053.9" cy="368.7" r="0.8" fill="#008000"/>
<path d="M1034.3,410.5 L1034.3,419 L1053.9,419" fill="none" stroke="#008000" stroke-width="1.2" stroke-dasharray="1.2,1.3"/>
<circle cx="1053.9" cy="419" r="1.8" fill="#fff" stroke="#008000" stroke-width="1.2"/><circle cx="1053.9" cy="419" r="0.8" fill="#008000"/>
<path d="M1034.3,461.2 L1034.3,468 L1053.9,468" fill="none" stroke="#008000" stroke-width="1.2" stroke-dasharray="1.2,1.3"/>
<circle cx="1053.9" cy="468" r="1.8" fill="#fff" stroke="#008000" stroke-width="1.2"/><circle cx="1053.9" cy="468" r="0.8" fill="#008000"/>
<path d="M1034.3,511.0 L1034.3,518 L1053.9,518" fill="none" stroke="#008000" stroke-width="1.2" stroke-dasharray="1.2,1.3"/>
<circle cx="1053.9" cy="518" r="1.8" fill="#fff" stroke="#008000" stroke-width="1.2"/><circle cx="1053.9" cy="518" r="0.8" fill="#008000"/>
<path d="M1034.3,561.3 L1034.3,570.3 L1053.9,570.3" fill="none" stroke="#008000" stroke-width="1.2" stroke-dasharray="1.2,1.3"/>
<circle cx="1053.9" cy="570.3" r="1.8" fill="#fff" stroke="#008000" stroke-width="1.2"/><circle cx="1053.9" cy="570.3" r="0.8" fill="#008000"/>
<path d="M1053.9,316.8 L1053.9,618.4 L1003.4,618.4" fill="none" stroke="#008000" stroke-width="1.2" stroke-dasharray="1.2,1.3"/>
<path d="M1034.6,611.3 L1034.6,618.4" fill="none" stroke="#008000" stroke-width="1.2" stroke-dasharray="1.2,1.3"/>
<circle cx="1034.6" cy="618.4" r="1.8" fill="#fff" stroke="#008000" stroke-width="1.2"/><circle cx="1034.6" cy="618.4" r="0.8" fill="#008000"/>
<rect x="976.9" y="612.1" width="25.400000000000023" height="12.099999999999955" fill="#fff" stroke="#008000" stroke-width="2.2" />
<rect x="978.5999999999999" y="613.8" width="22.00000000000002" height="8.699999999999955" fill="none" stroke="#a8d8a8" stroke-width="0.8" />
<rect x="979.5" y="614.7" width="10.5" height="6.699999999999955" fill="#008000" stroke="none" stroke-width="1" rx="0.8"/>
<path d="M981.5,616.3 l6.3,0 M984.65,616.3 l0,5.6" fill="none" stroke="#fff" stroke-width="1.8"/>
<path d="M993.1999999999999,615.8 l2.4,2.2 l-2.4,2.2 l2.4,2.2 M995.8,615.8 l-2.4,2.2" fill="none" stroke="#008000" stroke-width="1" stroke-dasharray="1,0.6"/>
<circle cx="998.1999999999999" cy="616.4" r="0.8" fill="#008000"/>
</svg></body></html>
